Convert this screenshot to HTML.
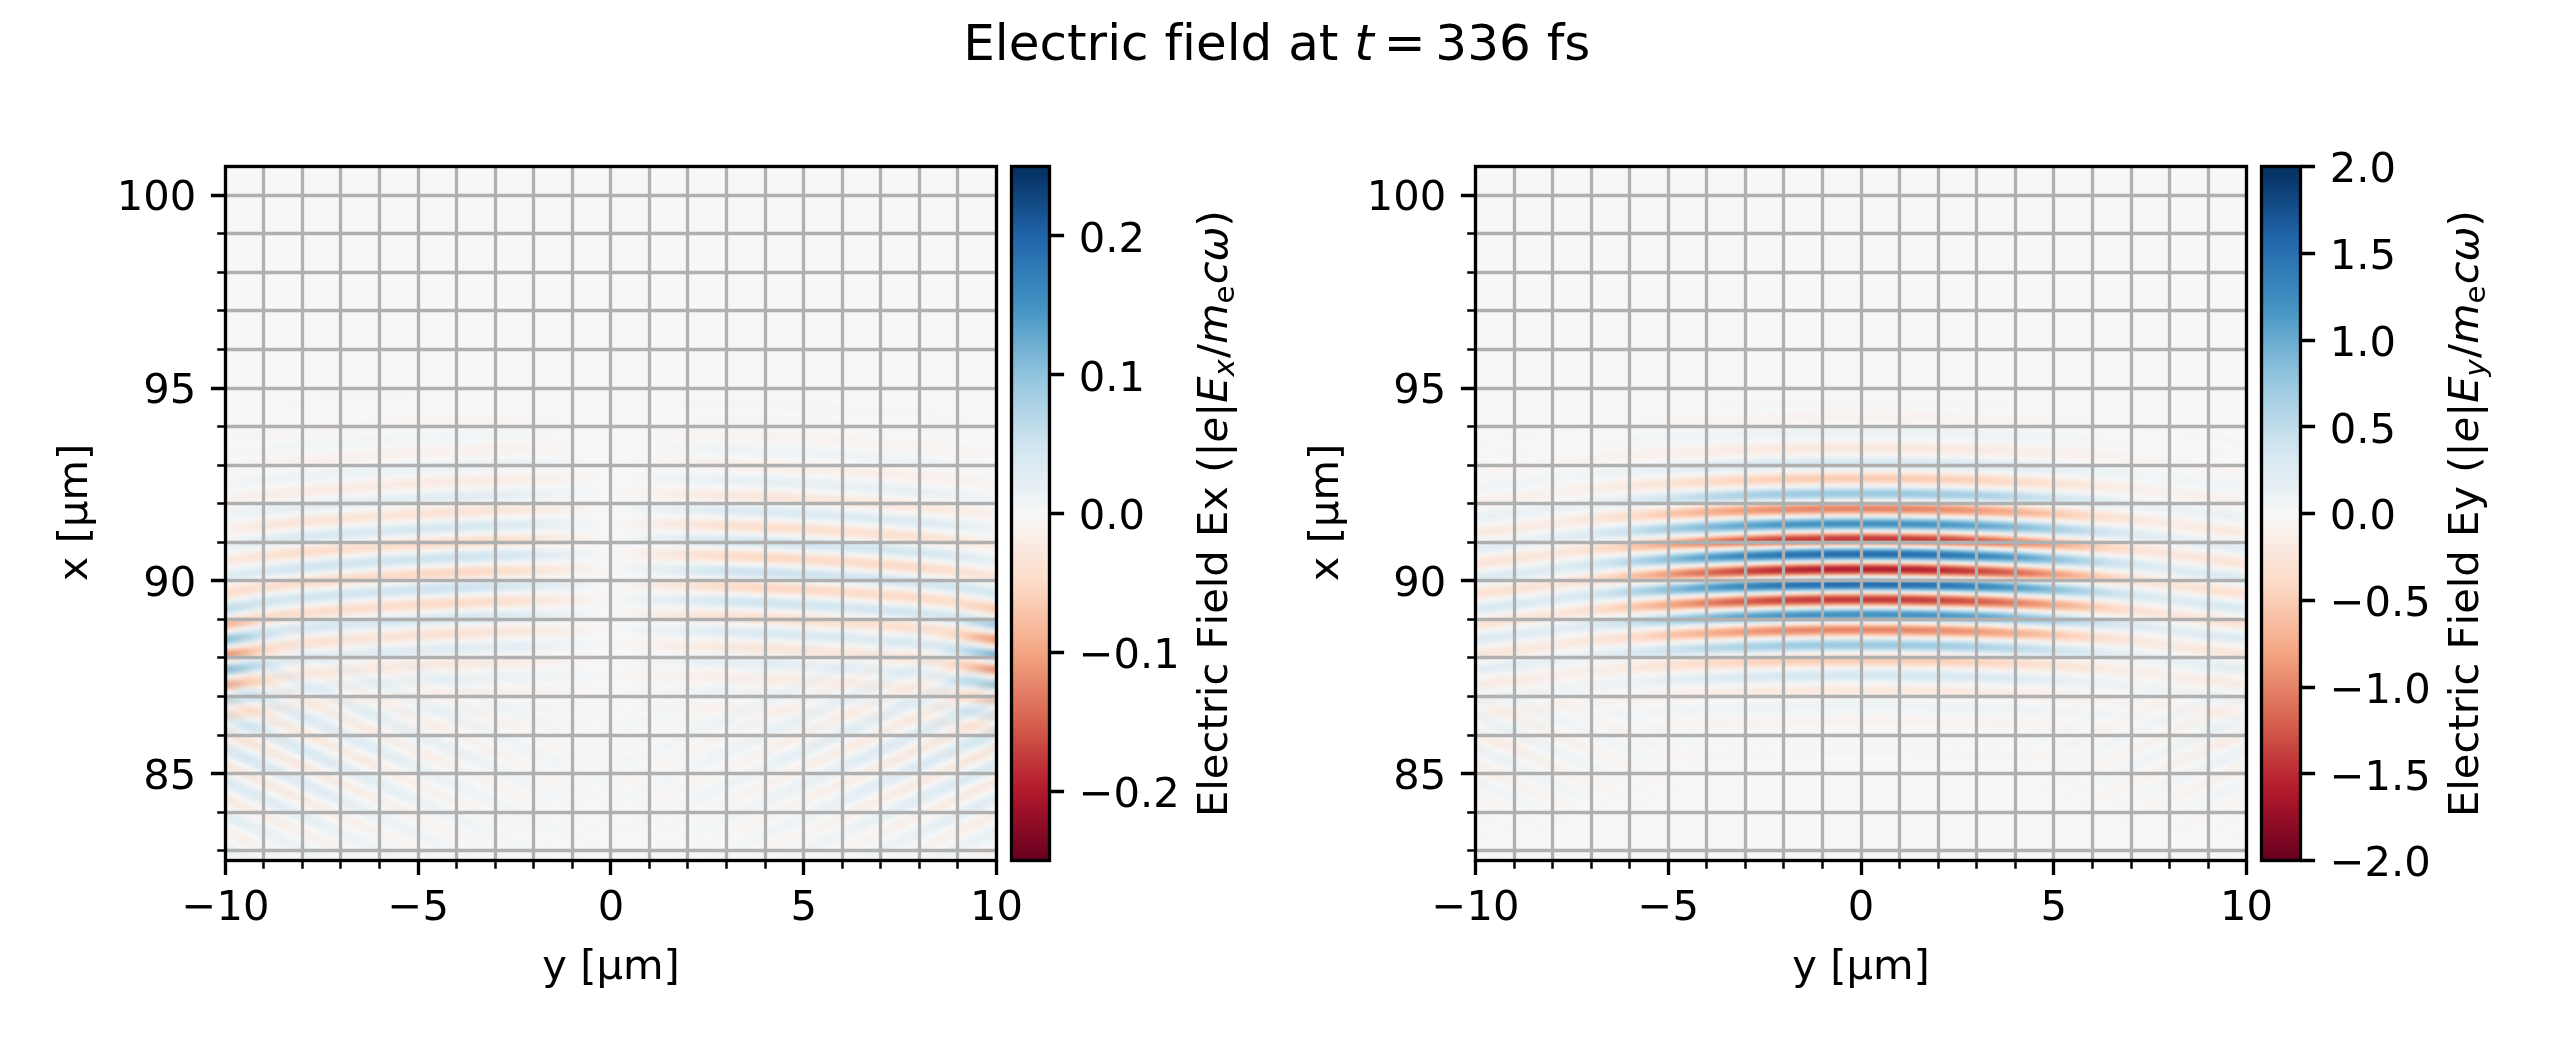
<!DOCTYPE html>
<html lang="en"><head><meta charset="utf-8"><title>Electric field at t = 336 fs</title>
<style>
html,body{margin:0;padding:0;background:#fff;width:2550px;height:1050px;overflow:hidden}
#fig{position:relative;width:2550px;height:1050px;overflow:hidden;background:#fff}
.fld{position:absolute;overflow:hidden;background:#f7f7f7}
.fld i{position:absolute;left:0;width:100%;height:2px;display:block}
.rw{position:absolute;left:0;top:0;width:100%;height:100%;filter:blur(.8px)}
.dg{position:absolute;left:0;top:0;width:100%;height:100%}
.fld>.dg{mix-blend-mode:multiply}
</style></head><body><div id="fig">
<div class="fld" style="left:225.2px;top:168px;width:771.2px;height:692px"><div class="rw">
<i style="top:204px;background:linear-gradient(90deg,#f7f7f7,#f7f7f7,#f7f7f7,#f7f7f7,#f7f7f7,#f7f7f7,#f7f7f7,#f7f7f7,#f7f7f7,#f7f7f7,#f7f7f7,#f7f7f7,#f6f7f7,#f6f7f7,#f6f7f7,#f7f7f7,#f7f7f7,#f7f7f7,#f7f7f7,#f7f7f7,#f7f7f7,#f7f7f7,#f7f7f7,#f7f7f7,#f7f7f7,#f7f7f7,#f7f6f6,#f7f6f6,#f7f6f6,#f7f7f7,#f7f7f7,#f7f7f7,#f7f7f7,#f7f7f7,#f7f7f7,#f7f7f7,#f7f7f7,#f7f7f7,#f7f7f7,#f7f7f7,#f7f7f7)"></i>
<i style="top:206px;background:linear-gradient(90deg,#f7f7f7,#f7f7f7,#f7f7f7,#f7f7f7,#f7f7f7,#f7f7f7,#f7f7f7,#f7f7f7,#f7f7f7,#f7f7f7,#f6f7f7,#f6f7f7,#f6f7f7,#f6f7f7,#f7f7f7,#f7f7f7,#f7f7f7,#f7f7f7,#f7f7f7,#f7f7f7,#f7f7f7,#f7f7f7,#f7f7f7,#f7f7f7,#f7f7f7,#f7f7f7,#f7f7f7,#f7f6f6,#f7f6f6,#f7f6f6,#f7f6f6,#f7f7f7,#f7f7f7,#f7f7f7,#f7f7f7,#f7f7f7,#f7f7f7,#f7f7f7,#f7f7f7,#f7f7f7,#f7f7f7)"></i>
<i style="top:208px;background:linear-gradient(90deg,#f7f7f7,#f7f7f7,#f7f7f7,#f7f7f7,#f7f7f7,#f7f7f7,#f7f7f7,#f7f7f7,#f7f7f7,#f6f7f7,#f6f7f7,#f6f7f7,#f6f7f7,#f7f7f7,#f7f7f7,#f7f7f7,#f7f7f7,#f7f7f7,#f7f7f7,#f7f7f7,#f7f7f7,#f7f7f7,#f7f7f7,#f7f7f7,#f7f7f7,#f7f7f7,#f7f7f7,#f7f7f7,#f7f6f6,#f7f6f6,#f7f6f6,#f7f6f6,#f7f7f7,#f7f7f7,#f7f7f7,#f7f7f7,#f7f7f7,#f7f7f7,#f7f7f7,#f7f7f7,#f7f7f7)"></i>
<i style="top:210px;background:linear-gradient(90deg,#f7f7f7,#f7f7f7,#f7f7f7,#f7f7f7,#f7f7f7,#f7f7f7,#f7f7f7,#f7f7f7,#f6f7f7,#f6f7f7,#f6f7f7,#f7f7f7,#f7f7f7,#f7f7f7,#f7f7f7,#f7f7f7,#f7f7f7,#f7f7f7,#f7f7f7,#f7f7f7,#f7f7f7,#f7f7f7,#f7f7f7,#f7f7f7,#f7f7f7,#f7f7f7,#f7f7f7,#f7f7f7,#f7f7f7,#f7f7f7,#f7f6f6,#f7f6f6,#f7f6f6,#f7f7f7,#f7f7f7,#f7f7f7,#f7f7f7,#f7f7f7,#f7f7f7,#f7f7f7,#f7f7f7)"></i>
<i style="top:212px;background:linear-gradient(90deg,#f7f7f7,#f7f7f7,#f7f7f7,#f7f7f7,#f7f7f7,#f7f7f7,#f6f7f7,#f6f7f7,#f7f7f7,#f7f7f7,#f7f7f7,#f7f7f7,#f7f7f7,#f7f7f7,#f7f7f7,#f7f7f7,#f7f7f7,#f7f7f7,#f7f7f7,#f7f7f7,#f7f7f7,#f7f7f7,#f7f7f7,#f7f7f7,#f7f7f7,#f7f7f7,#f7f7f7,#f7f7f7,#f7f7f7,#f7f7f7,#f7f7f7,#f7f7f7,#f7f7f7,#f7f6f6,#f7f6f6,#f7f7f7,#f7f7f7,#f7f7f7,#f7f7f7,#f7f7f7,#f7f7f7)"></i>
<i style="top:214px;background:linear-gradient(90deg,#f7f7f7,#f7f7f7,#f7f7f7,#f7f7f7,#f7f7f7,#f6f7f7,#f6f7f7,#f7f7f7,#f7f7f7,#f7f7f7,#f7f7f7,#f7f7f7,#f7f7f7,#f7f7f7,#f7f7f7,#f7f7f7,#f7f7f7,#f7f7f7,#f7f7f7,#f7f7f7,#f7f7f7,#f7f7f7,#f7f7f7,#f7f7f7,#f7f7f7,#f7f7f7,#f7f7f7,#f7f7f7,#f7f7f7,#f7f7f7,#f7f7f7,#f7f7f7,#f7f7f7,#f7f7f7,#f7f6f6,#f7f6f6,#f7f7f7,#f7f7f7,#f7f7f7,#f7f7f7,#f7f7f7)"></i>
<i style="top:216px;background:linear-gradient(90deg,#f7f7f7,#f7f7f7,#f7f7f7,#f7f7f7,#f6f7f7,#f6f7f7,#f7f7f7,#f7f7f7,#f7f7f7,#f7f7f7,#f7f7f7,#f7f7f7,#f7f7f7,#f7f7f7,#f7f6f6,#f7f6f6,#f7f7f7,#f7f7f7,#f7f7f7,#f7f7f7,#f7f7f7,#f7f7f7,#f7f7f7,#f7f7f7,#f7f7f7,#f6f7f7,#f6f7f7,#f7f7f7,#f7f7f7,#f7f7f7,#f7f7f7,#f7f7f7,#f7f7f7,#f7f7f7,#f7f7f7,#f7f6f6,#f7f6f6,#f7f7f7,#f7f7f7,#f7f7f7,#f7f7f7)"></i>
<i style="top:218px;background:linear-gradient(90deg,#f7f7f7,#f7f7f7,#f7f7f7,#f7f7f7,#f7f7f7,#f7f7f7,#f7f7f7,#f7f7f7,#f7f7f7,#f7f7f7,#f7f7f7,#f7f6f6,#f7f5f4,#f7f5f4,#f7f5f4,#f7f6f6,#f7f6f6,#f7f7f7,#f7f7f7,#f7f7f7,#f7f7f7,#f7f7f7,#f7f7f7,#f7f7f7,#f6f7f7,#f6f7f7,#f5f6f7,#f5f6f7,#f5f6f7,#f6f7f7,#f7f7f7,#f7f7f7,#f7f7f7,#f7f7f7,#f7f7f7,#f7f7f7,#f7f7f7,#f7f7f7,#f7f7f7,#f7f7f7,#f7f7f7)"></i>
<i style="top:220px;background:linear-gradient(90deg,#f7f7f7,#f7f7f7,#f7f7f7,#f7f7f7,#f7f7f7,#f7f7f7,#f7f7f7,#f7f7f7,#f7f7f7,#f7f6f6,#f7f6f6,#f7f5f4,#f7f5f4,#f7f5f4,#f7f5f4,#f7f5f4,#f7f6f6,#f7f7f7,#f7f7f7,#f7f7f7,#f7f7f7,#f7f7f7,#f7f7f7,#f7f7f7,#f6f7f7,#f5f6f7,#f5f6f7,#f5f6f7,#f5f6f7,#f5f6f7,#f6f7f7,#f6f7f7,#f7f7f7,#f7f7f7,#f7f7f7,#f7f7f7,#f7f7f7,#f7f7f7,#f7f7f7,#f7f7f7,#f7f7f7)"></i>
<i style="top:222px;background:linear-gradient(90deg,#f7f7f7,#f7f7f7,#f7f7f7,#f7f7f7,#f7f7f7,#f7f7f7,#f7f7f7,#f7f7f7,#f7f6f6,#f7f5f4,#f7f5f4,#f7f5f4,#f7f5f4,#f7f5f4,#f7f5f4,#f7f6f6,#f7f7f7,#f7f7f7,#f7f7f7,#f7f7f7,#f7f7f7,#f7f7f7,#f7f7f7,#f7f7f7,#f7f7f7,#f6f7f7,#f5f6f7,#f5f6f7,#f5f6f7,#f5f6f7,#f5f6f7,#f5f6f7,#f6f7f7,#f7f7f7,#f7f7f7,#f7f7f7,#f7f7f7,#f7f7f7,#f7f7f7,#f7f7f7,#f7f7f7)"></i>
<i style="top:224px;background:linear-gradient(90deg,#f7f7f7,#f7f7f7,#f7f7f7,#f7f7f7,#f7f7f7,#f7f7f7,#f7f6f6,#f7f6f6,#f7f5f4,#f7f5f4,#f7f5f4,#f7f5f4,#f7f5f4,#f7f6f6,#f7f7f7,#f7f7f7,#f7f7f7,#f7f7f7,#f7f7f7,#f7f7f7,#f7f7f7,#f7f7f7,#f7f7f7,#f7f7f7,#f7f7f7,#f7f7f7,#f7f7f7,#f6f7f7,#f5f6f7,#f5f6f7,#f5f6f7,#f5f6f7,#f5f6f7,#f6f7f7,#f6f7f7,#f7f7f7,#f7f7f7,#f7f7f7,#f7f7f7,#f7f7f7,#f7f7f7)"></i>
<i style="top:226px;background:linear-gradient(90deg,#f7f7f7,#f7f7f7,#f7f7f7,#f7f7f7,#f7f7f7,#f7f6f6,#f7f5f4,#f7f5f4,#f7f5f4,#f7f5f4,#f7f5f4,#f7f6f6,#f7f7f7,#f7f7f7,#f7f7f7,#f7f7f7,#f7f7f7,#f7f7f7,#f7f7f7,#f7f7f7,#f7f7f7,#f7f7f7,#f7f7f7,#f7f7f7,#f7f7f7,#f7f7f7,#f7f7f7,#f7f7f7,#f7f7f7,#f6f7f7,#f5f6f7,#f5f6f7,#f5f6f7,#f5f6f7,#f5f6f7,#f6f7f7,#f7f7f7,#f7f7f7,#f7f7f7,#f7f7f7,#f7f7f7)"></i>
<i style="top:228px;background:linear-gradient(90deg,#f7f7f7,#f7f7f7,#f7f7f7,#f7f7f7,#f7f6f6,#f7f5f4,#f7f5f4,#f7f5f4,#f7f5f4,#f7f6f6,#f7f7f7,#f7f7f7,#f7f7f7,#f7f7f7,#f7f7f7,#f7f7f7,#f7f7f7,#f7f7f7,#f7f7f7,#f7f7f7,#f7f7f7,#f7f7f7,#f7f7f7,#f7f7f7,#f7f7f7,#f7f7f7,#f7f7f7,#f7f7f7,#f7f7f7,#f7f7f7,#f7f7f7,#f6f7f7,#f5f6f7,#f5f6f7,#f5f6f7,#f5f6f7,#f6f7f7,#f7f7f7,#f7f7f7,#f7f7f7,#f7f7f7)"></i>
<i style="top:230px;background:linear-gradient(90deg,#f7f7f7,#f7f7f7,#f7f7f7,#f7f6f6,#f7f5f4,#f7f5f4,#f7f5f4,#f7f6f6,#f7f7f7,#f7f7f7,#f7f7f7,#f7f7f7,#f7f7f7,#f7f7f7,#f6f7f7,#f6f7f7,#f6f7f7,#f7f7f7,#f7f7f7,#f7f7f7,#f7f7f7,#f7f7f7,#f7f7f7,#f7f7f7,#f7f6f6,#f7f6f6,#f7f6f6,#f7f7f7,#f7f7f7,#f7f7f7,#f7f7f7,#f7f7f7,#f7f7f7,#f6f7f7,#f5f6f7,#f5f6f7,#f5f6f7,#f6f7f7,#f7f7f7,#f7f7f7,#f7f7f7)"></i>
<i style="top:232px;background:linear-gradient(90deg,#f7f7f7,#f7f7f7,#f7f7f7,#f7f5f4,#f7f5f4,#f7f5f4,#f7f6f6,#f7f7f7,#f7f7f7,#f7f7f7,#f7f7f7,#f6f7f7,#f5f6f7,#f5f6f7,#f5f6f7,#f5f6f7,#f5f6f7,#f6f7f7,#f7f7f7,#f7f7f7,#f7f7f7,#f7f7f7,#f7f7f7,#f7f6f6,#f7f5f4,#f7f5f4,#f7f5f4,#f7f5f4,#f7f5f4,#f7f6f6,#f7f7f7,#f7f7f7,#f7f7f7,#f7f7f7,#f6f7f7,#f5f6f7,#f5f6f7,#f5f6f7,#f7f7f7,#f7f7f7,#f7f7f7)"></i>
<i style="top:234px;background:linear-gradient(90deg,#f7f7f7,#f7f7f7,#f7f6f6,#f7f5f4,#f7f5f4,#f7f7f7,#f7f7f7,#f7f7f7,#f7f7f7,#f6f7f7,#f5f6f7,#f5f6f7,#f5f6f7,#f5f6f7,#f5f6f7,#f5f6f7,#f5f6f7,#f6f7f7,#f7f7f7,#f7f7f7,#f7f7f7,#f7f7f7,#f7f7f7,#f7f6f6,#f7f5f4,#f7f5f4,#f7f5f4,#f7f5f4,#f7f5f4,#f7f5f4,#f7f5f4,#f7f6f6,#f7f7f7,#f7f7f7,#f7f7f7,#f7f7f7,#f5f6f7,#f5f6f7,#f6f7f7,#f7f7f7,#f7f7f7)"></i>
<i style="top:236px;background:linear-gradient(90deg,#f7f7f7,#f7f7f7,#f7f6f6,#f7f6f6,#f7f7f7,#f7f7f7,#f7f7f7,#f7f7f7,#f5f6f7,#f5f6f7,#f5f6f7,#f5f6f7,#f5f6f7,#f5f6f7,#f5f6f7,#f5f6f7,#f5f6f7,#f6f7f7,#f7f7f7,#f7f7f7,#f7f7f7,#f7f7f7,#f7f7f7,#f7f6f6,#f7f5f4,#f7f5f4,#f7f5f4,#f7f5f4,#f7f5f4,#f7f5f4,#f7f5f4,#f7f5f4,#f7f5f4,#f7f7f7,#f7f7f7,#f7f7f7,#f7f7f7,#f6f7f7,#f6f7f7,#f7f7f7,#f7f7f7)"></i>
<i style="top:238px;background:linear-gradient(90deg,#f7f7f7,#f7f7f7,#f7f7f7,#f7f7f7,#f7f7f7,#f7f7f7,#f6f7f7,#f5f6f7,#f5f6f7,#f5f6f7,#f5f6f7,#f5f6f7,#f5f6f7,#f5f6f7,#f5f6f7,#f5f6f7,#f6f7f7,#f7f7f7,#f7f7f7,#f7f7f7,#f7f7f7,#f7f7f7,#f7f7f7,#f7f7f7,#f7f6f6,#f7f5f4,#f7f5f4,#f7f5f4,#f7f5f4,#f7f5f4,#f7f5f4,#f7f5f4,#f7f5f4,#f7f5f4,#f7f6f6,#f7f7f7,#f7f7f7,#f7f7f7,#f7f7f7,#f7f7f7,#f7f7f7)"></i>
<i style="top:240px;background:linear-gradient(90deg,#f7f7f7,#f7f7f7,#f7f7f7,#f7f7f7,#f7f7f7,#f6f7f7,#f5f6f7,#f5f6f7,#f5f6f7,#f5f6f7,#f5f6f7,#f5f6f7,#f5f6f7,#f5f6f7,#f6f7f7,#f7f7f7,#f7f7f7,#f7f7f7,#f7f7f7,#f7f7f7,#f7f7f7,#f7f7f7,#f7f7f7,#f7f7f7,#f7f7f7,#f7f7f7,#f7f6f6,#f7f5f4,#f7f5f4,#f7f5f4,#f7f5f4,#f7f5f4,#f7f5f4,#f7f5f4,#f7f5f4,#f7f6f6,#f7f7f7,#f7f7f7,#f7f7f7,#f7f7f7,#f7f7f7)"></i>
<i style="top:242px;background:linear-gradient(90deg,#f7f7f7,#f7f7f7,#f7f7f7,#f7f7f7,#f5f6f7,#f5f6f7,#f5f6f7,#f5f6f7,#f5f6f7,#f5f6f7,#f5f6f7,#f5f6f7,#f7f7f7,#f7f7f7,#f7f7f7,#f7f7f7,#f7f7f7,#f7f7f7,#f7f7f7,#f7f7f7,#f7f7f7,#f7f7f7,#f7f7f7,#f7f7f7,#f7f7f7,#f7f7f7,#f7f7f7,#f7f7f7,#f7f7f7,#f7f5f4,#f7f5f4,#f7f5f4,#f7f5f4,#f7f5f4,#f7f5f4,#f7f5f4,#f7f5f4,#f7f7f7,#f7f7f7,#f7f7f7,#f7f7f7)"></i>
<i style="top:244px;background:linear-gradient(90deg,#f7f7f7,#f7f7f7,#f7f7f7,#f5f6f7,#f5f6f7,#f5f6f7,#f5f6f7,#f5f6f7,#f5f6f7,#f5f6f7,#f7f7f7,#f7f7f7,#f7f7f7,#f7f7f7,#f7f6f6,#f7f6f6,#f7f6f6,#f7f6f6,#f7f7f7,#f7f7f7,#f7f7f7,#f7f7f7,#f7f7f7,#f6f7f7,#f6f7f7,#f6f7f7,#f6f7f7,#f7f7f7,#f7f7f7,#f7f7f7,#f7f7f7,#f7f5f4,#f7f5f4,#f7f5f4,#f7f5f4,#f7f5f4,#f7f5f4,#f7f5f4,#f7f7f7,#f7f7f7,#f7f7f7)"></i>
<i style="top:246px;background:linear-gradient(90deg,#f7f7f7,#f7f7f7,#f6f7f7,#f5f6f7,#f5f6f7,#f5f6f7,#f5f6f7,#f5f6f7,#f7f7f7,#f7f7f7,#f7f7f7,#f7f7f7,#f7f5f4,#f7f5f4,#f7f5f4,#f7f5f4,#f7f5f4,#f7f5f4,#f7f6f6,#f7f7f7,#f7f7f7,#f7f7f7,#f6f7f7,#f5f6f7,#f5f6f7,#f5f6f7,#f5f6f7,#f5f6f7,#f5f6f7,#f7f7f7,#f7f7f7,#f7f7f7,#f7f7f7,#f7f5f4,#f7f5f4,#f7f5f4,#f7f5f4,#f7f5f4,#f7f6f6,#f7f7f7,#f7f7f7)"></i>
<i style="top:248px;background:linear-gradient(90deg,#f7f7f7,#f7f7f7,#f5f6f7,#f5f6f7,#f5f6f7,#f5f6f7,#f5f6f7,#f7f7f7,#f7f7f7,#f7f7f7,#f7f5f4,#f7f5f4,#f8f4f2,#f8f4f2,#f8f4f2,#f8f4f2,#f7f5f4,#f7f5f4,#f7f6f6,#f7f7f7,#f7f7f7,#f7f7f7,#f6f7f7,#f5f6f7,#f5f6f7,#f3f5f6,#f3f5f6,#f3f5f6,#f3f5f6,#f5f6f7,#f5f6f7,#f7f7f7,#f7f7f7,#f7f7f7,#f7f5f4,#f7f5f4,#f7f5f4,#f7f5f4,#f7f5f4,#f7f7f7,#f7f7f7)"></i>
<i style="top:250px;background:linear-gradient(90deg,#f7f7f7,#f6f7f7,#f5f6f7,#f5f6f7,#f5f6f7,#f6f7f7,#f7f7f7,#f7f7f7,#f7f6f6,#f7f5f4,#f8f4f2,#f8f4f2,#f8f4f2,#f8f4f2,#f8f4f2,#f8f4f2,#f7f5f4,#f7f5f4,#f7f6f6,#f7f7f7,#f7f7f7,#f7f7f7,#f6f7f7,#f5f6f7,#f5f6f7,#f3f5f6,#f3f5f6,#f3f5f6,#f3f5f6,#f3f5f6,#f3f5f6,#f5f6f7,#f6f7f7,#f7f7f7,#f7f7f7,#f7f6f6,#f7f5f4,#f7f5f4,#f7f5f4,#f7f6f6,#f7f7f7)"></i>
<i style="top:252px;background:linear-gradient(90deg,#f7f7f7,#f5f6f7,#f5f6f7,#f5f6f7,#f7f7f7,#f7f7f7,#f7f7f7,#f7f5f4,#f7f5f4,#f8f4f2,#f8f4f2,#f8f4f2,#f8f4f2,#f8f4f2,#f8f4f2,#f7f5f4,#f7f5f4,#f7f5f4,#f7f7f7,#f7f7f7,#f7f7f7,#f7f7f7,#f7f7f7,#f5f6f7,#f5f6f7,#f5f6f7,#f3f5f6,#f3f5f6,#f3f5f6,#f3f5f6,#f3f5f6,#f3f5f6,#f5f6f7,#f5f6f7,#f7f7f7,#f7f7f7,#f7f7f7,#f7f5f4,#f7f5f4,#f7f5f4,#f7f7f7)"></i>
<i style="top:254px;background:linear-gradient(90deg,#f7f7f7,#f6f7f7,#f6f7f7,#f7f7f7,#f7f7f7,#f7f6f6,#f7f5f4,#f8f4f2,#f8f4f2,#f8f4f2,#f8f4f2,#f8f4f2,#f8f4f2,#f8f4f2,#f7f5f4,#f7f5f4,#f7f6f6,#f7f7f7,#f7f7f7,#f7f7f7,#f7f7f7,#f7f7f7,#f7f7f7,#f7f7f7,#f6f7f7,#f5f6f7,#f5f6f7,#f3f5f6,#f3f5f6,#f3f5f6,#f3f5f6,#f3f5f6,#f3f5f6,#f3f5f6,#f5f6f7,#f6f7f7,#f7f7f7,#f7f7f7,#f7f6f6,#f7f6f6,#f7f7f7)"></i>
<i style="top:256px;background:linear-gradient(90deg,#f7f7f7,#f7f7f7,#f7f7f7,#f7f7f7,#f7f5f4,#f7f5f4,#f8f4f2,#f8f4f2,#f8f4f2,#f8f4f2,#f8f4f2,#f8f4f2,#f7f5f4,#f7f5f4,#f7f6f6,#f7f7f7,#f7f7f7,#f7f7f7,#f7f7f7,#f7f7f7,#f7f7f7,#f7f7f7,#f7f7f7,#f7f7f7,#f7f7f7,#f7f7f7,#f6f7f7,#f5f6f7,#f5f6f7,#f3f5f6,#f3f5f6,#f3f5f6,#f3f5f6,#f3f5f6,#f3f5f6,#f5f6f7,#f5f6f7,#f7f7f7,#f7f7f7,#f7f7f7,#f7f7f7)"></i>
<i style="top:258px;background:linear-gradient(90deg,#f7f7f7,#f7f7f7,#f7f7f7,#f7f5f4,#f7f5f4,#f8f4f2,#f8f4f2,#f8f4f2,#f8f4f2,#f8f4f2,#f7f5f4,#f7f5f4,#f7f7f7,#f7f7f7,#f7f7f7,#f7f7f7,#f7f7f7,#f7f7f7,#f7f7f7,#f7f7f7,#f7f7f7,#f7f7f7,#f7f7f7,#f7f7f7,#f7f7f7,#f7f7f7,#f7f7f7,#f7f7f7,#f7f7f7,#f5f6f7,#f5f6f7,#f3f5f6,#f3f5f6,#f3f5f6,#f3f5f6,#f3f5f6,#f5f6f7,#f5f6f7,#f7f7f7,#f7f7f7,#f7f7f7)"></i>
<i style="top:260px;background:linear-gradient(90deg,#f7f7f7,#f7f7f7,#f7f6f6,#f7f5f4,#f8f4f2,#f8f4f2,#f8f4f2,#f8f4f2,#f7f5f4,#f7f5f4,#f7f7f7,#f7f7f7,#f6f7f7,#f5f6f7,#f5f6f7,#f5f6f7,#f5f6f7,#f5f6f7,#f6f7f7,#f7f7f7,#f7f7f7,#f7f7f7,#f7f6f6,#f7f5f4,#f7f5f4,#f7f5f4,#f7f5f4,#f7f5f4,#f7f6f6,#f7f7f7,#f7f7f7,#f5f6f7,#f5f6f7,#f3f5f6,#f3f5f6,#f3f5f6,#f3f5f6,#f5f6f7,#f6f7f7,#f7f7f7,#f7f7f7)"></i>
<i style="top:262px;background:linear-gradient(90deg,#f7f7f7,#f7f7f7,#f7f5f4,#f8f4f2,#f8f4f2,#f8f4f2,#f8f4f2,#f7f5f4,#f7f7f7,#f7f7f7,#f6f7f7,#f5f6f7,#f3f5f6,#f3f5f6,#f3f5f6,#f3f5f6,#f3f5f6,#f5f6f7,#f5f6f7,#f7f7f7,#f7f7f7,#f7f7f7,#f7f5f4,#f7f5f4,#f8f4f2,#f8f4f2,#f8f4f2,#f8f4f2,#f8f4f2,#f7f5f4,#f7f6f6,#f7f7f7,#f7f7f7,#f5f6f7,#f3f5f6,#f3f5f6,#f3f5f6,#f3f5f6,#f5f6f7,#f7f7f7,#f7f7f7)"></i>
<i style="top:264px;background:linear-gradient(90deg,#f7f7f7,#f7f5f4,#f7f5f4,#f8f4f2,#f8f4f2,#f7f5f4,#f7f5f4,#f7f7f7,#f7f7f7,#f5f6f7,#f3f5f6,#f3f5f6,#f2f5f6,#f2f5f6,#f2f5f6,#f2f5f6,#f3f5f6,#f3f5f6,#f5f6f7,#f7f7f7,#f7f7f7,#f7f7f7,#f7f5f4,#f8f4f2,#f8f4f2,#f8f3f0,#f8f3f0,#f8f3f0,#f8f3f0,#f8f4f2,#f8f4f2,#f7f5f4,#f7f7f7,#f7f7f7,#f5f6f7,#f5f6f7,#f3f5f6,#f3f5f6,#f5f6f7,#f5f6f7,#f7f7f7)"></i>
<i style="top:266px;background:linear-gradient(90deg,#f7f6f6,#f7f5f4,#f7f5f4,#f8f4f2,#f7f5f4,#f7f6f6,#f7f7f7,#f5f6f7,#f5f6f7,#f3f5f6,#f2f5f6,#f2f5f6,#f0f4f6,#f2f5f6,#f2f5f6,#f2f5f6,#f3f5f6,#f5f6f7,#f5f6f7,#f7f7f7,#f7f7f7,#f7f7f7,#f7f5f4,#f7f5f4,#f8f4f2,#f8f3f0,#f8f3f0,#f8f3f0,#f8f2ef,#f8f3f0,#f8f3f0,#f8f4f2,#f7f5f4,#f7f5f4,#f7f7f7,#f6f7f7,#f5f6f7,#f3f5f6,#f5f6f7,#f5f6f7,#f6f7f7)"></i>
<i style="top:268px;background:linear-gradient(90deg,#f7f6f6,#f7f5f4,#f7f5f4,#f7f5f4,#f7f7f7,#f7f7f7,#f5f6f7,#f3f5f6,#f2f5f6,#f2f5f6,#f2f5f6,#f0f4f6,#f0f4f6,#f2f5f6,#f2f5f6,#f3f5f6,#f5f6f7,#f5f6f7,#f6f7f7,#f7f7f7,#f7f7f7,#f7f7f7,#f7f6f6,#f7f5f4,#f7f5f4,#f8f4f2,#f8f3f0,#f8f3f0,#f8f2ef,#f8f2ef,#f8f3f0,#f8f3f0,#f8f3f0,#f8f4f2,#f7f5f4,#f7f7f7,#f7f7f7,#f5f6f7,#f5f6f7,#f5f6f7,#f6f7f7)"></i>
<i style="top:270px;background:linear-gradient(90deg,#f7f5f4,#f7f5f4,#f7f5f4,#f7f7f7,#f7f7f7,#f5f6f7,#f3f5f6,#f2f5f6,#f2f5f6,#f2f5f6,#f2f5f6,#f2f5f6,#f2f5f6,#f3f5f6,#f3f5f6,#f5f6f7,#f5f6f7,#f7f7f7,#f7f7f7,#f7f7f7,#f7f7f7,#f7f7f7,#f7f7f7,#f7f7f7,#f7f5f4,#f7f5f4,#f8f4f2,#f8f4f2,#f8f3f0,#f8f3f0,#f8f3f0,#f8f3f0,#f8f3f0,#f8f3f0,#f8f4f2,#f7f5f4,#f7f7f7,#f7f7f7,#f5f6f7,#f5f6f7,#f5f6f7)"></i>
<i style="top:272px;background:linear-gradient(90deg,#f7f6f6,#f7f6f6,#f7f7f7,#f6f7f7,#f5f6f7,#f3f5f6,#f2f5f6,#f2f5f6,#f2f5f6,#f2f5f6,#f2f5f6,#f3f5f6,#f5f6f7,#f5f6f7,#f7f7f7,#f7f7f7,#f7f7f7,#f7f7f7,#f7f7f7,#f7f7f7,#f7f7f7,#f7f7f7,#f7f7f7,#f7f7f7,#f7f7f7,#f7f7f7,#f7f7f7,#f7f5f4,#f7f5f4,#f8f4f2,#f8f3f0,#f8f3f0,#f8f3f0,#f8f3f0,#f8f3f0,#f8f4f2,#f7f5f4,#f7f6f6,#f7f7f7,#f6f7f7,#f6f7f7)"></i>
<i style="top:274px;background:linear-gradient(90deg,#f7f7f7,#f7f7f7,#f7f7f7,#f5f6f7,#f2f5f6,#f2f5f6,#f2f5f6,#f2f5f6,#f2f5f6,#f3f5f6,#f5f6f7,#f6f7f7,#f7f7f7,#f7f7f7,#f7f5f4,#f7f5f4,#f7f5f4,#f7f5f4,#f7f5f4,#f7f7f7,#f7f7f7,#f7f7f7,#f5f6f7,#f5f6f7,#f5f6f7,#f5f6f7,#f5f6f7,#f7f7f7,#f7f7f7,#f7f6f6,#f7f5f4,#f8f4f2,#f8f3f0,#f8f3f0,#f8f3f0,#f8f3f0,#f8f3f0,#f7f5f4,#f7f7f7,#f7f7f7,#f7f7f7)"></i>
<i style="top:276px;background:linear-gradient(90deg,#f7f7f7,#f7f7f7,#f5f6f7,#f3f5f6,#f2f5f6,#f2f5f6,#f2f5f6,#f3f5f6,#f5f6f7,#f5f6f7,#f7f7f7,#f7f5f4,#f7f5f4,#f8f4f2,#f8f3f0,#f8f3f0,#f8f4f2,#f8f4f2,#f7f5f4,#f7f6f6,#f7f7f7,#f6f7f7,#f5f6f7,#f3f5f6,#f3f5f6,#f2f5f6,#f2f5f6,#f3f5f6,#f5f6f7,#f5f6f7,#f7f7f7,#f7f5f4,#f7f5f4,#f8f4f2,#f8f3f0,#f8f3f0,#f8f3f0,#f8f4f2,#f7f5f4,#f7f7f7,#f7f7f7)"></i>
<i style="top:278px;background:linear-gradient(90deg,#f7f7f7,#f5f6f7,#f3f5f6,#f2f5f6,#f2f5f6,#f2f5f6,#f3f5f6,#f5f6f7,#f7f7f7,#f7f6f6,#f8f4f2,#f8f3f0,#f8f3f0,#f8f2ef,#f8f2ef,#f8f2ef,#f8f3f0,#f8f4f2,#f7f5f4,#f7f6f6,#f7f7f7,#f6f7f7,#f5f6f7,#f3f5f6,#f2f5f6,#f0f4f6,#f0f4f6,#f0f4f6,#f2f5f6,#f2f5f6,#f3f5f6,#f6f7f7,#f7f7f7,#f7f5f4,#f8f4f2,#f8f3f0,#f8f3f0,#f8f3f0,#f8f4f2,#f7f5f4,#f7f7f7)"></i>
<i style="top:280px;background:linear-gradient(90deg,#f6f7f7,#f5f6f7,#f3f5f6,#f2f5f6,#f2f5f6,#f3f5f6,#f6f7f7,#f7f7f7,#f7f5f4,#f8f4f2,#f8f3f0,#f8f2ef,#f8f1ed,#f8f1ed,#f8f1ed,#f8f2ef,#f8f3f0,#f8f4f2,#f7f5f4,#f7f6f6,#f7f7f7,#f6f7f7,#f5f6f7,#f3f5f6,#f2f5f6,#f0f4f6,#eff3f5,#eff3f5,#eff3f5,#f0f4f6,#f2f5f6,#f3f5f6,#f5f6f7,#f7f7f7,#f7f6f6,#f8f4f2,#f8f3f0,#f8f3f0,#f8f4f2,#f7f5f4,#f7f6f6)"></i>
<i style="top:282px;background:linear-gradient(90deg,#f5f6f7,#f3f5f6,#f3f5f6,#f3f5f6,#f5f6f7,#f7f7f7,#f7f6f6,#f8f4f2,#f8f3f0,#f8f2ef,#f8f1ed,#f8f1ed,#f8f1ed,#f8f1ed,#f8f1ed,#f8f2ef,#f8f3f0,#f8f4f2,#f7f5f4,#f7f6f6,#f7f7f7,#f6f7f7,#f5f6f7,#f3f5f6,#f2f5f6,#f0f4f6,#eff3f5,#eff3f5,#eff3f5,#eff3f5,#eff3f5,#f0f4f6,#f2f5f6,#f3f5f6,#f6f7f7,#f7f7f7,#f7f5f4,#f8f4f2,#f8f4f2,#f8f4f2,#f7f5f4)"></i>
<i style="top:284px;background:linear-gradient(90deg,#f5f6f7,#f3f5f6,#f3f5f6,#f5f6f7,#f7f7f7,#f7f5f4,#f8f4f2,#f8f3f0,#f8f2ef,#f8f1ed,#f8f1ed,#f8f1ed,#f8f1ed,#f8f2ef,#f8f2ef,#f8f3f0,#f8f4f2,#f7f5f4,#f7f6f6,#f7f7f7,#f7f7f7,#f7f7f7,#f6f7f7,#f5f6f7,#f3f5f6,#f2f5f6,#f0f4f6,#f0f4f6,#eff3f5,#eff3f5,#eff3f5,#eff3f5,#f0f4f6,#f2f5f6,#f3f5f6,#f5f6f7,#f7f7f7,#f7f5f4,#f8f4f2,#f8f4f2,#f7f5f4)"></i>
<i style="top:286px;background:linear-gradient(90deg,#f5f6f7,#f5f6f7,#f5f6f7,#f7f7f7,#f7f5f4,#f8f3f0,#f8f2ef,#f8f1ed,#f8f1ed,#f8f1ed,#f8f1ed,#f8f2ef,#f8f2ef,#f8f3f0,#f8f4f2,#f7f5f4,#f7f6f6,#f7f7f7,#f7f7f7,#f7f7f7,#f7f7f7,#f7f7f7,#f7f7f7,#f7f7f7,#f6f7f7,#f5f6f7,#f3f5f6,#f2f5f6,#f0f4f6,#f0f4f6,#eff3f5,#eff3f5,#eff3f5,#eff3f5,#f0f4f6,#f2f5f6,#f5f6f7,#f7f7f7,#f7f5f4,#f7f5f4,#f7f5f4)"></i>
<i style="top:288px;background:linear-gradient(90deg,#f5f6f7,#f6f7f7,#f7f7f7,#f7f5f4,#f8f3f0,#f8f2ef,#f8f1ed,#f8f1ed,#f8f1ed,#f8f2ef,#f8f3f0,#f8f4f2,#f7f5f4,#f7f6f6,#f7f7f7,#f6f7f7,#f5f6f7,#f5f6f7,#f6f7f7,#f7f7f7,#f7f7f7,#f7f7f7,#f7f6f6,#f7f5f4,#f7f5f4,#f7f6f6,#f7f7f7,#f6f7f7,#f5f6f7,#f3f5f6,#f2f5f6,#f0f4f6,#eff3f5,#eff3f5,#eff3f5,#f0f4f6,#f2f5f6,#f5f6f7,#f7f7f7,#f7f6f6,#f7f5f4)"></i>
<i style="top:290px;background:linear-gradient(90deg,#f7f7f7,#f7f7f7,#f7f5f4,#f8f3f0,#f8f2ef,#f8f1ed,#f8f1ed,#f8f2ef,#f8f3f0,#f8f4f2,#f7f5f4,#f7f7f7,#f6f7f7,#f3f5f6,#f3f5f6,#f2f5f6,#f3f5f6,#f3f5f6,#f5f6f7,#f6f7f7,#f7f7f7,#f7f6f6,#f7f5f4,#f8f4f2,#f8f4f2,#f8f3f0,#f8f4f2,#f8f4f2,#f7f6f6,#f7f7f7,#f5f6f7,#f3f5f6,#f2f5f6,#f0f4f6,#eff3f5,#eff3f5,#f0f4f6,#f2f5f6,#f5f6f7,#f7f7f7,#f7f7f7)"></i>
<i style="top:292px;background:linear-gradient(90deg,#f7f7f7,#f7f5f4,#f8f4f2,#f8f2ef,#f8f1ed,#f8f1ed,#f8f2ef,#f8f3f0,#f7f5f4,#f7f7f7,#f5f6f7,#f3f5f6,#f2f5f6,#f0f4f6,#eff3f5,#eff3f5,#f0f4f6,#f2f5f6,#f3f5f6,#f5f6f7,#f7f7f7,#f7f5f4,#f8f4f2,#f8f3f0,#f8f2ef,#f8f1ed,#f8f1ed,#f8f2ef,#f8f3f0,#f8f4f2,#f7f5f4,#f7f7f7,#f5f6f7,#f2f5f6,#f0f4f6,#eff3f5,#eff3f5,#f0f4f6,#f3f5f6,#f5f6f7,#f7f7f7)"></i>
<i style="top:294px;background:linear-gradient(90deg,#f7f6f6,#f8f4f2,#f8f3f0,#f8f2ef,#f8f1ed,#f8f2ef,#f8f4f2,#f7f5f4,#f7f7f7,#f3f5f6,#f2f5f6,#eff3f5,#edf2f5,#edf2f5,#edf2f5,#edf2f5,#eff3f5,#f0f4f6,#f3f5f6,#f5f6f7,#f7f7f7,#f7f5f4,#f8f4f2,#f8f2ef,#f8f1ed,#f9f0eb,#f9f0eb,#f9f0eb,#f9f0eb,#f8f1ed,#f8f3f0,#f8f4f2,#f7f7f7,#f5f6f7,#f3f5f6,#f0f4f6,#eff3f5,#f0f4f6,#f2f5f6,#f3f5f6,#f6f7f7)"></i>
<i style="top:296px;background:linear-gradient(90deg,#f7f5f4,#f8f4f2,#f8f2ef,#f8f2ef,#f8f3f0,#f8f4f2,#f7f7f7,#f5f6f7,#f2f5f6,#f0f4f6,#edf2f5,#ecf2f5,#ecf2f5,#ecf2f5,#ecf2f5,#edf2f5,#eff3f5,#f2f5f6,#f3f5f6,#f5f6f7,#f7f7f7,#f7f5f4,#f8f4f2,#f8f3f0,#f8f1ed,#f9f0eb,#f9efe9,#f9efe9,#f9efe9,#f9efe9,#f9f0eb,#f8f2ef,#f8f3f0,#f7f5f4,#f7f7f7,#f3f5f6,#f2f5f6,#f0f4f6,#f0f4f6,#f3f5f6,#f5f6f7)"></i>
<i style="top:298px;background:linear-gradient(90deg,#f7f5f4,#f8f3f0,#f8f3f0,#f8f3f0,#f7f5f4,#f7f7f7,#f3f5f6,#f0f4f6,#eff3f5,#edf2f5,#ecf2f5,#eaf1f5,#eaf1f5,#ecf2f5,#edf2f5,#eff3f5,#f0f4f6,#f2f5f6,#f5f6f7,#f6f7f7,#f7f7f7,#f7f6f6,#f7f5f4,#f8f3f0,#f8f2ef,#f8f1ed,#f9f0eb,#f9efe9,#f9eee7,#f9eee7,#f9efe9,#f9f0eb,#f8f1ed,#f8f2ef,#f8f4f2,#f7f7f7,#f5f6f7,#f2f5f6,#f2f5f6,#f2f5f6,#f5f6f7)"></i>
<i style="top:300px;background:linear-gradient(90deg,#f8f4f2,#f8f4f2,#f8f4f2,#f7f5f4,#f6f7f7,#f2f5f6,#f0f4f6,#edf2f5,#ecf2f5,#ecf2f5,#eaf1f5,#ecf2f5,#ecf2f5,#edf2f5,#f0f4f6,#f2f5f6,#f3f5f6,#f5f6f7,#f6f7f7,#f7f7f7,#f7f7f7,#f7f7f7,#f7f6f6,#f7f5f4,#f8f4f2,#f8f3f0,#f8f2ef,#f9f0eb,#f9efe9,#f9efe9,#f9eee7,#f9efe9,#f9efe9,#f9f0eb,#f8f2ef,#f8f3f0,#f7f6f6,#f5f6f7,#f3f5f6,#f3f5f6,#f3f5f6)"></i>
<i style="top:302px;background:linear-gradient(90deg,#f7f5f4,#f7f5f4,#f7f6f6,#f5f6f7,#f2f5f6,#eff3f5,#edf2f5,#ecf2f5,#ecf2f5,#ecf2f5,#edf2f5,#eff3f5,#f0f4f6,#f2f5f6,#f5f6f7,#f6f7f7,#f7f7f7,#f7f7f7,#f7f7f7,#f7f7f7,#f7f7f7,#f7f7f7,#f7f7f7,#f7f7f7,#f7f7f7,#f7f6f6,#f7f5f4,#f8f3f0,#f8f2ef,#f8f1ed,#f9f0eb,#f9efe9,#f9efe9,#f9efe9,#f9f0eb,#f8f1ed,#f8f3f0,#f7f5f4,#f6f7f7,#f5f6f7,#f5f6f7)"></i>
<i style="top:304px;background:linear-gradient(90deg,#f7f5f4,#f7f7f7,#f5f6f7,#f2f5f6,#eff3f5,#ecf2f5,#ecf2f5,#ecf2f5,#edf2f5,#eff3f5,#f0f4f6,#f3f5f6,#f5f6f7,#f7f7f7,#f7f5f4,#f8f4f2,#f8f4f2,#f8f4f2,#f7f5f4,#f7f6f6,#f7f7f7,#f6f7f7,#f5f6f7,#f3f5f6,#f3f5f6,#f3f5f6,#f5f6f7,#f7f7f7,#f7f5f4,#f8f4f2,#f8f2ef,#f8f1ed,#f9f0eb,#f9efe9,#f9efe9,#f9efe9,#f8f1ed,#f8f3f0,#f7f5f4,#f7f7f7,#f5f6f7)"></i>
<i style="top:306px;background:linear-gradient(90deg,#f7f7f7,#f6f7f7,#f2f5f6,#eff3f5,#ecf2f5,#ecf2f5,#ecf2f5,#edf2f5,#f0f4f6,#f3f5f6,#f6f7f7,#f7f5f4,#f8f4f2,#f8f2ef,#f8f1ed,#f8f1ed,#f8f2ef,#f8f2ef,#f8f4f2,#f7f5f4,#f7f7f7,#f5f6f7,#f3f5f6,#f0f4f6,#f0f4f6,#eff3f5,#eff3f5,#f0f4f6,#f3f5f6,#f5f6f7,#f7f6f6,#f8f4f2,#f8f2ef,#f9f0eb,#f9efe9,#f9efe9,#f9efe9,#f8f1ed,#f8f3f0,#f7f6f6,#f7f7f7)"></i>
<i style="top:308px;background:linear-gradient(90deg,#f7f7f7,#f3f5f6,#f0f4f6,#edf2f5,#ecf2f5,#edf2f5,#eff3f5,#f2f5f6,#f5f6f7,#f7f6f6,#f8f3f0,#f8f1ed,#f9f0eb,#f9efe9,#f9efe9,#f9efe9,#f9f0eb,#f8f1ed,#f8f3f0,#f7f5f4,#f7f7f7,#f5f6f7,#f2f5f6,#eff3f5,#edf2f5,#ecf2f5,#ecf2f5,#ecf2f5,#edf2f5,#eff3f5,#f2f5f6,#f6f7f7,#f7f5f4,#f8f3f0,#f8f1ed,#f9f0eb,#f9efe9,#f9f0eb,#f8f2ef,#f8f4f2,#f7f7f7)"></i>
<i style="top:310px;background:linear-gradient(90deg,#f5f6f7,#f2f5f6,#eff3f5,#edf2f5,#edf2f5,#f0f4f6,#f3f5f6,#f7f7f7,#f8f4f2,#f8f2ef,#f9f0eb,#f9eee7,#f9ede5,#f9ebe3,#f9ede5,#f9eee7,#f9efe9,#f8f1ed,#f8f3f0,#f7f5f4,#f7f7f7,#f5f6f7,#f2f5f6,#eff3f5,#ecf2f5,#eaf1f5,#e9f0f4,#e7f0f4,#e9f0f4,#eaf1f5,#edf2f5,#f0f4f6,#f3f5f6,#f7f7f7,#f8f4f2,#f8f2ef,#f9f0eb,#f9f0eb,#f8f1ed,#f8f3f0,#f7f5f4)"></i>
<i style="top:312px;background:linear-gradient(90deg,#f3f5f6,#f0f4f6,#eff3f5,#eff3f5,#f0f4f6,#f5f6f7,#f7f6f6,#f8f3f0,#f8f1ed,#f9efe9,#f9ede5,#f9ebe3,#faeae1,#f9ebe3,#f9ede5,#f9eee7,#f9f0eb,#f8f1ed,#f8f3f0,#f7f5f4,#f7f7f7,#f5f6f7,#f2f5f6,#eff3f5,#edf2f5,#eaf1f5,#e9f0f4,#e7f0f4,#e6eff4,#e7f0f4,#e9f0f4,#ecf2f5,#eff3f5,#f2f5f6,#f6f7f7,#f7f5f4,#f8f2ef,#f8f1ed,#f8f1ed,#f8f2ef,#f8f4f2)"></i>
<i style="top:314px;background:linear-gradient(90deg,#f3f5f6,#f0f4f6,#f0f4f6,#f2f5f6,#f5f6f7,#f7f5f4,#f8f2ef,#f9f0eb,#f9eee7,#f9ebe3,#f9ebe3,#faeae1,#f9ebe3,#f9ede5,#f9eee7,#f9f0eb,#f8f2ef,#f8f3f0,#f8f4f2,#f7f5f4,#f7f7f7,#f5f6f7,#f3f5f6,#f2f5f6,#f0f4f6,#edf2f5,#eaf1f5,#e9f0f4,#e7f0f4,#e6eff4,#e7f0f4,#e7f0f4,#eaf1f5,#edf2f5,#f0f4f6,#f5f6f7,#f7f5f4,#f8f3f0,#f8f2ef,#f8f2ef,#f8f4f2)"></i>
<i style="top:316px;background:linear-gradient(90deg,#f3f5f6,#f2f5f6,#f3f5f6,#f7f7f7,#f8f4f2,#f8f1ed,#f9efe9,#f9ede5,#f9ebe3,#f9ebe3,#f9ebe3,#f9ede5,#f9eee7,#f9f0eb,#f8f1ed,#f8f3f0,#f8f4f2,#f7f5f4,#f7f7f7,#f7f7f7,#f7f7f7,#f7f7f7,#f7f7f7,#f5f6f7,#f3f5f6,#f2f5f6,#eff3f5,#edf2f5,#eaf1f5,#e9f0f4,#e7f0f4,#e7f0f4,#e7f0f4,#e9f0f4,#ecf2f5,#eff3f5,#f3f5f6,#f7f7f7,#f8f4f2,#f8f3f0,#f8f4f2)"></i>
<i style="top:318px;background:linear-gradient(90deg,#f3f5f6,#f3f5f6,#f7f7f7,#f8f4f2,#f8f1ed,#f9eee7,#f9ede5,#f9ebe3,#f9ebe3,#f9ede5,#f9eee7,#f9f0eb,#f8f2ef,#f8f4f2,#f7f6f6,#f7f7f7,#f5f6f7,#f5f6f7,#f5f6f7,#f7f7f7,#f7f7f7,#f7f7f7,#f7f5f4,#f7f5f4,#f7f5f4,#f7f7f7,#f6f7f7,#f3f5f6,#f0f4f6,#edf2f5,#eaf1f5,#e9f0f4,#e7f0f4,#e7f0f4,#e9f0f4,#eaf1f5,#eff3f5,#f3f5f6,#f7f7f7,#f8f4f2,#f8f4f2)"></i>
<i style="top:320px;background:linear-gradient(90deg,#f5f6f7,#f7f7f7,#f8f4f2,#f8f1ed,#f9eee7,#f9ebe3,#f9ebe3,#f9ede5,#f9eee7,#f9f0eb,#f8f2ef,#f7f5f4,#f7f7f7,#f3f5f6,#f2f5f6,#f0f4f6,#f0f4f6,#f0f4f6,#f3f5f6,#f5f6f7,#f7f7f7,#f7f5f4,#f8f4f2,#f8f2ef,#f8f2ef,#f8f2ef,#f8f3f0,#f8f4f2,#f7f7f7,#f5f6f7,#f0f4f6,#edf2f5,#eaf1f5,#e9f0f4,#e7f0f4,#e7f0f4,#eaf1f5,#eff3f5,#f3f5f6,#f7f7f7,#f7f5f4)"></i>
<i style="top:322px;background:linear-gradient(90deg,#f7f7f7,#f7f5f4,#f8f1ed,#f9eee7,#f9ebe3,#f9ebe3,#f9ede5,#f9efe9,#f8f2ef,#f7f5f4,#f6f7f7,#f2f5f6,#eff3f5,#ecf2f5,#eaf1f5,#eaf1f5,#ecf2f5,#edf2f5,#f0f4f6,#f3f5f6,#f7f7f7,#f8f4f2,#f8f2ef,#f9f0eb,#f9efe9,#f9eee7,#f9eee7,#f9efe9,#f8f1ed,#f8f3f0,#f7f6f6,#f5f6f7,#f0f4f6,#ecf2f5,#e9f0f4,#e7f0f4,#e7f0f4,#eaf1f5,#eff3f5,#f5f6f7,#f7f7f7)"></i>
<i style="top:324px;background:linear-gradient(90deg,#f7f5f4,#f8f3f0,#f9f0eb,#f9ede5,#f9ede5,#f9eee7,#f9f0eb,#f8f3f0,#f7f7f7,#f2f5f6,#eff3f5,#eaf1f5,#e7f0f4,#e6eff4,#e6eff4,#e7f0f4,#e9f0f4,#ecf2f5,#f0f4f6,#f3f5f6,#f7f7f7,#f8f4f2,#f8f2ef,#f9efe9,#f9ede5,#f9ebe3,#faeae1,#faeae1,#f9ebe3,#f9eee7,#f8f1ed,#f8f3f0,#f7f7f7,#f2f5f6,#edf2f5,#eaf1f5,#e9f0f4,#e9f0f4,#edf2f5,#f2f5f6,#f5f6f7)"></i>
<i style="top:326px;background:linear-gradient(90deg,#f8f4f2,#f8f1ed,#f9efe9,#f9eee7,#f9efe9,#f8f1ed,#f7f5f4,#f5f6f7,#f0f4f6,#ecf2f5,#e7f0f4,#e4eef4,#e3edf3,#e3edf3,#e3edf3,#e6eff4,#e9f0f4,#ecf2f5,#f0f4f6,#f3f5f6,#f7f7f7,#f8f4f2,#f8f2ef,#f9efe9,#f9ede5,#faeae1,#fae8de,#fae8de,#fae8de,#fae9df,#f9ebe3,#f9efe9,#f8f2ef,#f7f5f4,#f5f6f7,#eff3f5,#ecf2f5,#eaf1f5,#ecf2f5,#eff3f5,#f3f5f6)"></i>
<i style="top:328px;background:linear-gradient(90deg,#f8f3f0,#f8f1ed,#f9efe9,#f9f0eb,#f8f2ef,#f7f7f7,#f2f5f6,#edf2f5,#e9f0f4,#e6eff4,#e3edf3,#e1edf3,#e1edf3,#e3edf3,#e4eef4,#e7f0f4,#eaf1f5,#eff3f5,#f2f5f6,#f5f6f7,#f7f7f7,#f7f5f4,#f8f3f0,#f8f1ed,#f9eee7,#f9ebe3,#fae9df,#fae8de,#fae7dc,#fae7dc,#fae8de,#faeae1,#f9ede5,#f9f0eb,#f8f3f0,#f7f7f7,#f0f4f6,#edf2f5,#ecf2f5,#eff3f5,#f2f5f6)"></i>
<i style="top:330px;background:linear-gradient(90deg,#f8f2ef,#f8f1ed,#f8f1ed,#f8f3f0,#f7f7f7,#f0f4f6,#ecf2f5,#e7f0f4,#e4eef4,#e3edf3,#e1edf3,#e1edf3,#e3edf3,#e6eff4,#e9f0f4,#ecf2f5,#eff3f5,#f2f5f6,#f3f5f6,#f6f7f7,#f7f7f7,#f7f6f6,#f8f4f2,#f8f3f0,#f8f1ed,#f9efe9,#f9ede5,#faeae1,#fae8de,#fae7dc,#fae7dc,#fae8de,#fae9df,#f9ebe3,#f9efe9,#f8f2ef,#f7f7f7,#f2f5f6,#eff3f5,#eff3f5,#f0f4f6)"></i>
<i style="top:332px;background:linear-gradient(90deg,#f8f3f0,#f8f2ef,#f8f4f2,#f6f7f7,#eff3f5,#eaf1f5,#e6eff4,#e4eef4,#e3edf3,#e3edf3,#e4eef4,#e6eff4,#e9f0f4,#edf2f5,#f0f4f6,#f3f5f6,#f5f6f7,#f7f7f7,#f7f7f7,#f7f7f7,#f7f7f7,#f7f7f7,#f7f7f7,#f7f7f7,#f7f5f4,#f8f4f2,#f8f2ef,#f9f0eb,#f9ede5,#faeae1,#fae9df,#fae8de,#fae8de,#fae9df,#faeae1,#f9eee7,#f8f1ed,#f7f6f6,#f3f5f6,#f0f4f6,#f2f5f6)"></i>
<i style="top:334px;background:linear-gradient(90deg,#f8f4f2,#f7f5f4,#f5f6f7,#eff3f5,#e9f0f4,#e4eef4,#e3edf3,#e3edf3,#e4eef4,#e7f0f4,#eaf1f5,#edf2f5,#f2f5f6,#f6f7f7,#f7f5f4,#f8f4f2,#f8f3f0,#f8f3f0,#f8f4f2,#f7f5f4,#f7f7f7,#f5f6f7,#f3f5f6,#f2f5f6,#f2f5f6,#f3f5f6,#f5f6f7,#f7f6f6,#f8f3f0,#f9f0eb,#f9eee7,#f9ebe3,#fae9df,#fae8de,#fae8de,#fae9df,#f9ede5,#f8f1ed,#f7f5f4,#f5f6f7,#f3f5f6)"></i>
<i style="top:336px;background:linear-gradient(90deg,#f7f5f4,#f6f7f7,#f0f4f6,#e9f0f4,#e4eef4,#e3edf3,#e3edf3,#e6eff4,#eaf1f5,#edf2f5,#f2f5f6,#f7f7f7,#f8f3f0,#f8f1ed,#f9efe9,#f9efe9,#f9efe9,#f9f0eb,#f8f2ef,#f8f4f2,#f7f7f7,#f3f5f6,#f0f4f6,#edf2f5,#ecf2f5,#ecf2f5,#ecf2f5,#eff3f5,#f2f5f6,#f7f7f7,#f8f3f0,#f9f0eb,#f9eee7,#faeae1,#fae8de,#fae8de,#fae9df,#f9ede5,#f8f2ef,#f7f6f6,#f5f6f7)"></i>
<i style="top:338px;background:linear-gradient(90deg,#f7f7f7,#f2f5f6,#ecf2f5,#e6eff4,#e3edf3,#e4eef4,#e7f0f4,#ecf2f5,#f2f5f6,#f7f7f7,#f8f3f0,#f9efe9,#f9ede5,#faeae1,#fae9df,#faeae1,#f9ebe3,#f9eee7,#f8f1ed,#f8f4f2,#f7f7f7,#f3f5f6,#eff3f5,#eaf1f5,#e7f0f4,#e6eff4,#e4eef4,#e6eff4,#e9f0f4,#ecf2f5,#f2f5f6,#f7f7f7,#f8f3f0,#f9efe9,#f9ebe3,#fae9df,#fae8de,#faeae1,#f9efe9,#f8f3f0,#f7f7f7)"></i>
<i style="top:340px;background:linear-gradient(90deg,#f3f5f6,#eff3f5,#e9f0f4,#e4eef4,#e6eff4,#e9f0f4,#eff3f5,#f5f6f7,#f8f4f2,#f9f0eb,#f9ede5,#fae9df,#fbe6da,#fbe6da,#fbe6da,#fae7dc,#faeae1,#f9ede5,#f9f0eb,#f8f3f0,#f7f7f7,#f2f5f6,#edf2f5,#e9f0f4,#e6eff4,#e1edf3,#e0ecf3,#e0ecf3,#e0ecf3,#e4eef4,#e9f0f4,#edf2f5,#f3f5f6,#f7f5f4,#f8f1ed,#f9ede5,#faeae1,#fae9df,#f9ede5,#f8f1ed,#f8f4f2)"></i>
<i style="top:342px;background:linear-gradient(90deg,#f0f4f6,#ecf2f5,#e7f0f4,#e7f0f4,#eaf1f5,#f0f4f6,#f7f7f7,#f8f2ef,#f9eee7,#fae9df,#fae7dc,#fbe4d6,#fbe4d6,#fbe4d6,#fbe5d8,#fae7dc,#faeae1,#f9eee7,#f8f1ed,#f8f4f2,#f7f7f7,#f3f5f6,#eff3f5,#eaf1f5,#e6eff4,#e1edf3,#deebf2,#ddebf2,#ddebf2,#ddebf2,#e1edf3,#e4eef4,#eaf1f5,#f0f4f6,#f7f7f7,#f8f2ef,#f9eee7,#f9ebe3,#f9ebe3,#f9efe9,#f8f2ef)"></i>
<i style="top:344px;background:linear-gradient(90deg,#eff3f5,#ecf2f5,#eaf1f5,#ecf2f5,#f2f5f6,#f7f5f4,#f9f0eb,#f9ebe3,#fae8de,#fbe6da,#fbe4d6,#fbe3d4,#fbe4d6,#fbe5d8,#fae7dc,#faeae1,#f9eee7,#f9f0eb,#f8f3f0,#f7f5f4,#f7f7f7,#f5f6f7,#f2f5f6,#edf2f5,#eaf1f5,#e6eff4,#e1edf3,#deebf2,#ddebf2,#dbeaf2,#ddebf2,#e0ecf3,#e3edf3,#e7f0f4,#edf2f5,#f5f6f7,#f8f3f0,#f9efe9,#f9eee7,#f9efe9,#f8f1ed)"></i>
<i style="top:346px;background:linear-gradient(90deg,#eff3f5,#edf2f5,#eff3f5,#f3f5f6,#f8f4f2,#f9efe9,#faeae1,#fae7dc,#fbe5d8,#fbe4d6,#fbe4d6,#fbe5d8,#fae7dc,#fae9df,#f9ede5,#f9f0eb,#f8f2ef,#f8f4f2,#f7f5f4,#f7f7f7,#f7f7f7,#f7f7f7,#f5f6f7,#f3f5f6,#f0f4f6,#edf2f5,#e9f0f4,#e4eef4,#e1edf3,#deebf2,#ddebf2,#ddebf2,#deebf2,#e1edf3,#e6eff4,#ecf2f5,#f3f5f6,#f8f4f2,#f8f1ed,#f9f0eb,#f8f1ed)"></i>
<i style="top:348px;background:linear-gradient(90deg,#f0f4f6,#f0f4f6,#f5f6f7,#f8f3f0,#f9eee7,#fae8de,#fbe6da,#fbe5d8,#fbe5d8,#fbe6da,#fae7dc,#faeae1,#f9eee7,#f8f1ed,#f8f4f2,#f7f7f7,#f7f7f7,#f5f6f7,#f5f6f7,#f7f7f7,#f7f7f7,#f7f7f7,#f7f5f4,#f7f5f4,#f7f7f7,#f7f7f7,#f3f5f6,#eff3f5,#eaf1f5,#e6eff4,#e1edf3,#e0ecf3,#deebf2,#deebf2,#e0ecf3,#e3edf3,#eaf1f5,#f2f5f6,#f7f5f4,#f8f2ef,#f8f2ef)"></i>
<i style="top:350px;background:linear-gradient(90deg,#f2f5f6,#f5f6f7,#f8f3f0,#f9eee7,#fae8de,#fbe5d8,#fbe5d8,#fbe6da,#fae8de,#faeae1,#f9eee7,#f8f2ef,#f7f5f4,#f3f5f6,#f0f4f6,#eff3f5,#edf2f5,#eff3f5,#f2f5f6,#f3f5f6,#f7f7f7,#f8f4f2,#f8f3f0,#f8f1ed,#f9f0eb,#f8f1ed,#f8f2ef,#f8f4f2,#f5f6f7,#f0f4f6,#eaf1f5,#e6eff4,#e3edf3,#e0ecf3,#deebf2,#deebf2,#e3edf3,#eaf1f5,#f2f5f6,#f7f5f4,#f8f3f0)"></i>
<i style="top:352px;background:linear-gradient(90deg,#f6f7f7,#f8f4f2,#f9efe9,#fae9df,#fbe5d8,#fbe5d8,#fbe6da,#fae9df,#f9eee7,#f8f2ef,#f7f7f7,#f2f5f6,#ecf2f5,#e9f0f4,#e6eff4,#e6eff4,#e7f0f4,#eaf1f5,#edf2f5,#f2f5f6,#f7f7f7,#f8f3f0,#f9f0eb,#f9eee7,#f9ebe3,#faeae1,#faeae1,#f9ede5,#f9efe9,#f8f3f0,#f7f7f7,#f0f4f6,#eaf1f5,#e4eef4,#e0ecf3,#deebf2,#deebf2,#e4eef4,#ecf2f5,#f3f5f6,#f7f6f6)"></i>
<i style="top:354px;background:linear-gradient(90deg,#f7f5f4,#f8f1ed,#f9ebe3,#fae7dc,#fbe5d8,#fae7dc,#f9ebe3,#f9f0eb,#f7f5f4,#f3f5f6,#ecf2f5,#e6eff4,#e1edf3,#deebf2,#deebf2,#e0ecf3,#e3edf3,#e7f0f4,#ecf2f5,#f2f5f6,#f7f7f7,#f8f3f0,#f9efe9,#f9ebe3,#fae8de,#fbe6da,#fbe5d8,#fbe5d8,#fae7dc,#faeae1,#f9efe9,#f8f4f2,#f5f6f7,#edf2f5,#e7f0f4,#e1edf3,#deebf2,#e1edf3,#e7f0f4,#eff3f5,#f5f6f7)"></i>
<i style="top:356px;background:linear-gradient(90deg,#f8f3f0,#f9eee7,#fae9df,#fae7dc,#fae8de,#f9ede5,#f8f2ef,#f6f7f7,#eff3f5,#e7f0f4,#e1edf3,#ddebf2,#dae9f2,#d8e9f1,#dae9f2,#ddebf2,#e1edf3,#e7f0f4,#ecf2f5,#f2f5f6,#f7f7f7,#f8f3f0,#f9efe9,#f9ebe3,#fae7dc,#fbe4d6,#fce2d2,#fce0d0,#fce2d2,#fbe4d6,#fae7dc,#f9ebe3,#f8f1ed,#f7f6f6,#f0f4f6,#e9f0f4,#e3edf3,#e1edf3,#e4eef4,#eaf1f5,#f2f5f6)"></i>
<i style="top:358px;background:linear-gradient(90deg,#f8f1ed,#f9ede5,#fae9df,#faeae1,#f9eee7,#f8f4f2,#f2f5f6,#eaf1f5,#e4eef4,#deebf2,#dae9f2,#d7e8f1,#d7e8f1,#d8e9f1,#dbeaf2,#e0ecf3,#e4eef4,#e9f0f4,#eff3f5,#f3f5f6,#f7f7f7,#f8f4f2,#f8f1ed,#f9ede5,#fae9df,#fbe6da,#fbe3d4,#fce0d0,#fcdfcf,#fcdfcf,#fce2d2,#fbe5d8,#fae9df,#f9eee7,#f8f3f0,#f3f5f6,#eaf1f5,#e6eff4,#e4eef4,#e9f0f4,#eff3f5)"></i>
<i style="top:360px;background:linear-gradient(90deg,#f9f0eb,#f9ede5,#f9ede5,#f9f0eb,#f7f5f4,#f0f4f6,#e7f0f4,#e1edf3,#ddebf2,#d8e9f1,#d7e8f1,#d7e8f1,#d8e9f1,#ddebf2,#e1edf3,#e6eff4,#eaf1f5,#eff3f5,#f2f5f6,#f5f6f7,#f7f7f7,#f7f5f4,#f8f3f0,#f8f1ed,#f9eee7,#faeae1,#fae7dc,#fbe4d6,#fce0d0,#fcdfcf,#fcdfcf,#fce0d0,#fbe4d6,#fae7dc,#f9ebe3,#f8f2ef,#f5f6f7,#edf2f5,#e9f0f4,#e9f0f4,#edf2f5)"></i>
<i style="top:362px;background:linear-gradient(90deg,#f9f0eb,#f9efe9,#f8f1ed,#f7f7f7,#edf2f5,#e4eef4,#deebf2,#dbeaf2,#d8e9f1,#d8e9f1,#dae9f2,#ddebf2,#e0ecf3,#e6eff4,#eaf1f5,#eff3f5,#f2f5f6,#f5f6f7,#f7f7f7,#f7f7f7,#f7f7f7,#f7f7f7,#f7f7f7,#f7f5f4,#f8f3f0,#f8f1ed,#f9eee7,#faeae1,#fbe6da,#fbe4d6,#fce2d2,#fce0d0,#fce0d0,#fbe3d4,#fbe5d8,#fae9df,#f9f0eb,#f7f7f7,#eff3f5,#ecf2f5,#edf2f5)"></i>
<i style="top:364px;background:linear-gradient(90deg,#f8f1ed,#f8f2ef,#f7f7f7,#edf2f5,#e3edf3,#ddebf2,#dae9f2,#dae9f2,#dbeaf2,#ddebf2,#e1edf3,#e7f0f4,#ecf2f5,#f2f5f6,#f7f7f7,#f8f4f2,#f8f3f0,#f8f3f0,#f8f4f2,#f7f5f4,#f7f7f7,#f5f6f7,#f3f5f6,#f2f5f6,#f2f5f6,#f3f5f6,#f7f7f7,#f8f3f0,#f9efe9,#f9ebe3,#fae7dc,#fbe4d6,#fbe3d4,#fce2d2,#fce2d2,#fbe4d6,#fae8de,#f9f0eb,#f7f7f7,#f0f4f6,#eff3f5)"></i>
<i style="top:366px;background:linear-gradient(90deg,#f8f3f0,#f7f7f7,#eff3f5,#e4eef4,#ddebf2,#d8e9f1,#dae9f2,#ddebf2,#e1edf3,#e7f0f4,#edf2f5,#f5f6f7,#f8f4f2,#f8f1ed,#f9eee7,#f9ede5,#f9ede5,#f9efe9,#f8f1ed,#f8f4f2,#f7f7f7,#f3f5f6,#eff3f5,#ecf2f5,#e9f0f4,#e9f0f4,#eaf1f5,#eff3f5,#f3f5f6,#f7f5f4,#f9f0eb,#f9ebe3,#fae7dc,#fbe4d6,#fce2d2,#fce0d0,#fbe4d6,#fae9df,#f8f1ed,#f7f7f7,#f2f5f6)"></i>
<i style="top:368px;background:linear-gradient(90deg,#f7f7f7,#f0f4f6,#e7f0f4,#deebf2,#dae9f2,#dae9f2,#deebf2,#e4eef4,#ecf2f5,#f3f5f6,#f8f4f2,#f9efe9,#faeae1,#fae7dc,#fbe6da,#fbe6da,#fae8de,#f9ebe3,#f9efe9,#f8f3f0,#f7f7f7,#f2f5f6,#ecf2f5,#e7f0f4,#e3edf3,#e0ecf3,#e0ecf3,#e1edf3,#e6eff4,#ecf2f5,#f3f5f6,#f8f4f2,#f9efe9,#fae9df,#fbe5d8,#fce2d2,#fce2d2,#fbe5d8,#f9ebe3,#f8f2ef,#f7f7f7)"></i>
<i style="top:370px;background:linear-gradient(90deg,#f3f5f6,#eaf1f5,#e1edf3,#dbeaf2,#dbeaf2,#e0ecf3,#e7f0f4,#f0f4f6,#f7f5f4,#f9f0eb,#fae9df,#fbe5d8,#fce2d2,#fce0d0,#fce0d0,#fbe3d4,#fbe5d8,#fae9df,#f9eee7,#f8f2ef,#f7f7f7,#f0f4f6,#eaf1f5,#e4eef4,#deebf2,#dbeaf2,#d8e9f1,#d8e9f1,#dae9f2,#deebf2,#e4eef4,#edf2f5,#f5f6f7,#f8f2ef,#f9ebe3,#fbe6da,#fbe3d4,#fbe3d4,#fae7dc,#f9eee7,#f8f4f2)"></i>
<i style="top:372px;background:linear-gradient(90deg,#eff3f5,#e6eff4,#e0ecf3,#deebf2,#e3edf3,#eaf1f5,#f5f6f7,#f8f2ef,#f9ebe3,#fbe6da,#fce2d2,#fcdecd,#fdddcb,#fdddcb,#fcdecd,#fce2d2,#fbe6da,#faeae1,#f9efe9,#f8f3f0,#f7f7f7,#f2f5f6,#ecf2f5,#e6eff4,#e0ecf3,#dae9f2,#d5e7f1,#d4e6f1,#d4e6f1,#d5e7f1,#dae9f2,#e0ecf3,#e7f0f4,#f0f4f6,#f7f5f4,#f9eee7,#fae8de,#fbe5d8,#fbe6da,#faeae1,#f8f1ed)"></i>
<i style="top:374px;background:linear-gradient(90deg,#ecf2f5,#e4eef4,#e3edf3,#e6eff4,#edf2f5,#f7f7f7,#f9efe9,#fae9df,#fbe4d6,#fcdfcf,#fdddcb,#fddcc9,#fddcc9,#fcdecd,#fce2d2,#fbe5d8,#fae9df,#f9ede5,#f8f1ed,#f8f4f2,#f7f7f7,#f3f5f6,#eff3f5,#e9f0f4,#e4eef4,#deebf2,#dae9f2,#d5e7f1,#d2e6f0,#d2e6f0,#d4e6f1,#d7e8f1,#ddebf2,#e4eef4,#ecf2f5,#f7f7f7,#f9f0eb,#faeae1,#fae8de,#fae9df,#f9efe9)"></i>
<i style="top:376px;background:linear-gradient(90deg,#eaf1f5,#e7f0f4,#e9f0f4,#eff3f5,#f7f5f4,#f9ede5,#fae7dc,#fce2d2,#fcdfcf,#fdddcb,#fdddcb,#fdddcb,#fce0d0,#fbe4d6,#fae7dc,#f9ebe3,#f9efe9,#f8f2ef,#f8f4f2,#f7f5f4,#f7f7f7,#f5f6f7,#f3f5f6,#f0f4f6,#ecf2f5,#e7f0f4,#e1edf3,#ddebf2,#d8e9f1,#d4e6f1,#d4e6f1,#d4e6f1,#d7e8f1,#dae9f2,#e1edf3,#e9f0f4,#f5f6f7,#f8f1ed,#f9ede5,#f9ebe3,#f9eee7)"></i>
<i style="top:378px;background:linear-gradient(90deg,#eaf1f5,#eaf1f5,#f0f4f6,#f8f4f2,#f9ebe3,#fbe5d8,#fce0d0,#fcdecd,#fcdecd,#fcdecd,#fce0d0,#fbe4d6,#fae8de,#f9ede5,#f8f1ed,#f8f4f2,#f7f6f6,#f7f7f7,#f7f7f7,#f7f7f7,#f7f7f7,#f7f7f7,#f7f7f7,#f7f7f7,#f6f7f7,#f3f5f6,#eff3f5,#e9f0f4,#e3edf3,#ddebf2,#d8e9f1,#d5e7f1,#d5e7f1,#d5e7f1,#d8e9f1,#deebf2,#e7f0f4,#f3f5f6,#f8f2ef,#f9eee7,#f9eee7)"></i>
<i style="top:380px;background:linear-gradient(90deg,#edf2f5,#f2f5f6,#f8f4f2,#f9ebe3,#fbe4d6,#fcdfcf,#fcdecd,#fcdecd,#fce2d2,#fbe5d8,#fae9df,#f9eee7,#f8f3f0,#f7f7f7,#f2f5f6,#eff3f5,#edf2f5,#eff3f5,#f0f4f6,#f3f5f6,#f7f7f7,#f8f4f2,#f8f2ef,#f8f1ed,#f9f0eb,#f8f1ed,#f8f3f0,#f7f7f7,#f2f5f6,#eaf1f5,#e4eef4,#deebf2,#dae9f2,#d5e7f1,#d5e7f1,#d7e8f1,#ddebf2,#e7f0f4,#f3f5f6,#f8f3f0,#f9f0eb)"></i>
<i style="top:382px;background:linear-gradient(90deg,#f2f5f6,#f7f5f4,#f9ede5,#fbe5d8,#fcdfcf,#fdddcb,#fcdfcf,#fbe4d6,#fae8de,#f9eee7,#f8f3f0,#f5f6f7,#edf2f5,#e7f0f4,#e4eef4,#e3edf3,#e4eef4,#e7f0f4,#ecf2f5,#f2f5f6,#f7f7f7,#f8f3f0,#f9efe9,#f9ebe3,#fae9df,#fae8de,#fae9df,#f9ebe3,#f9f0eb,#f7f5f4,#f2f5f6,#eaf1f5,#e3edf3,#ddebf2,#d7e8f1,#d4e6f1,#d7e8f1,#deebf2,#e9f0f4,#f5f6f7,#f8f3f0)"></i>
<i style="top:384px;background:linear-gradient(90deg,#f7f7f7,#f9f0eb,#fae7dc,#fce0d0,#fcdecd,#fce0d0,#fbe5d8,#f9ebe3,#f8f2ef,#f5f6f7,#ecf2f5,#e4eef4,#deebf2,#dbeaf2,#dae9f2,#dbeaf2,#deebf2,#e4eef4,#eaf1f5,#f0f4f6,#f7f7f7,#f8f2ef,#f9eee7,#fae9df,#fbe5d8,#fbe3d4,#fce2d2,#fbe3d4,#fbe5d8,#fae9df,#f9efe9,#f7f5f4,#f0f4f6,#e7f0f4,#deebf2,#d8e9f1,#d5e7f1,#d8e9f1,#e1edf3,#edf2f5,#f7f7f7)"></i>
<i style="top:386px;background:linear-gradient(90deg,#f8f2ef,#faeae1,#fbe4d6,#fce0d0,#fce2d2,#fae7dc,#f9efe9,#f7f5f4,#eff3f5,#e6eff4,#deebf2,#d8e9f1,#d4e6f1,#d2e6f0,#d4e6f1,#d8e9f1,#ddebf2,#e3edf3,#e9f0f4,#f0f4f6,#f7f7f7,#f8f2ef,#f9ede5,#fae8de,#fbe4d6,#fce0d0,#fdddcb,#fddcc9,#fdddcb,#fce0d0,#fbe5d8,#faeae1,#f8f1ed,#f5f6f7,#ecf2f5,#e1edf3,#dae9f2,#d8e9f1,#ddebf2,#e6eff4,#f0f4f6)"></i>
<i style="top:388px;background:linear-gradient(90deg,#f9efe9,#fae8de,#fbe4d6,#fbe4d6,#fae9df,#f8f1ed,#f5f6f7,#eaf1f5,#e1edf3,#dae9f2,#d4e6f1,#d1e5f0,#cfe4ef,#d1e5f0,#d4e6f1,#dae9f2,#e0ecf3,#e6eff4,#ecf2f5,#f2f5f6,#f7f7f7,#f8f3f0,#f9efe9,#faeae1,#fbe6da,#fce2d2,#fdddcb,#fddbc7,#fdd9c4,#fddbc7,#fdddcb,#fce2d2,#fae7dc,#f9eee7,#f7f5f4,#eff3f5,#e4eef4,#ddebf2,#ddebf2,#e3edf3,#ecf2f5)"></i>
<i style="top:390px;background:linear-gradient(90deg,#f9ebe3,#fae7dc,#fae7dc,#f9ebe3,#f8f3f0,#f0f4f6,#e6eff4,#deebf2,#d7e8f1,#d2e6f0,#cfe4ef,#cfe4ef,#d1e5f0,#d5e7f1,#dae9f2,#e0ecf3,#e6eff4,#eaf1f5,#eff3f5,#f3f5f6,#f7f7f7,#f8f4f2,#f8f1ed,#f9eee7,#faeae1,#fbe6da,#fce2d2,#fcdecd,#fddbc7,#fdd9c4,#fdd9c4,#fddcc9,#fcdfcf,#fbe5d8,#faeae1,#f8f2ef,#f2f5f6,#e7f0f4,#e1edf3,#e1edf3,#e7f0f4)"></i>
<i style="top:392px;background:linear-gradient(90deg,#faeae1,#fae9df,#f9ede5,#f8f4f2,#eff3f5,#e3edf3,#dae9f2,#d5e7f1,#d2e6f0,#d1e5f0,#d2e6f0,#d5e7f1,#dae9f2,#e0ecf3,#e6eff4,#eaf1f5,#eff3f5,#f2f5f6,#f5f6f7,#f7f7f7,#f7f7f7,#f7f7f7,#f7f5f4,#f8f3f0,#f8f1ed,#f9eee7,#faeae1,#fbe6da,#fce2d2,#fcdecd,#fddcc9,#fddbc7,#fddcc9,#fcdecd,#fce2d2,#fae8de,#f8f1ed,#f3f5f6,#e9f0f4,#e4eef4,#e6eff4)"></i>
<i style="top:394px;background:linear-gradient(90deg,#f9ebe3,#f9eee7,#f8f4f2,#edf2f5,#e1edf3,#d8e9f1,#d4e6f1,#d2e6f0,#d4e6f1,#d7e8f1,#dbeaf2,#e0ecf3,#e7f0f4,#edf2f5,#f3f5f6,#f7f7f7,#f8f4f2,#f8f4f2,#f8f4f2,#f7f5f4,#f7f7f7,#f5f6f7,#f3f5f6,#f3f5f6,#f3f5f6,#f7f7f7,#f8f4f2,#f9f0eb,#f9ebe3,#fbe6da,#fbe3d4,#fcdfcf,#fdddcb,#fddcc9,#fdddcb,#fce0d0,#fae7dc,#f9f0eb,#f3f5f6,#eaf1f5,#e7f0f4)"></i>
<i style="top:396px;background:linear-gradient(90deg,#f9eee7,#f8f4f2,#eff3f5,#e1edf3,#d7e8f1,#d2e6f0,#d2e6f0,#d5e7f1,#dbeaf2,#e1edf3,#e9f0f4,#f0f4f6,#f7f7f7,#f8f2ef,#f9efe9,#f9eee7,#f9eee7,#f9efe9,#f8f1ed,#f8f4f2,#f7f7f7,#f3f5f6,#eff3f5,#ecf2f5,#eaf1f5,#eaf1f5,#ecf2f5,#f0f4f6,#f7f7f7,#f8f2ef,#f9ede5,#fae7dc,#fbe3d4,#fcdecd,#fddcc9,#fddcc9,#fcdfcf,#fae7dc,#f8f1ed,#f3f5f6,#eaf1f5)"></i>
<i style="top:398px;background:linear-gradient(90deg,#f8f2ef,#f2f5f6,#e4eef4,#d8e9f1,#d2e6f0,#d2e6f0,#d7e8f1,#deebf2,#e7f0f4,#eff3f5,#f7f6f6,#f9f0eb,#faeae1,#fae7dc,#fbe5d8,#fbe5d8,#fae7dc,#faeae1,#f9eee7,#f8f2ef,#f7f7f7,#f0f4f6,#eaf1f5,#e6eff4,#e1edf3,#deebf2,#deebf2,#e1edf3,#e6eff4,#edf2f5,#f6f7f7,#f8f1ed,#f9ebe3,#fbe5d8,#fcdfcf,#fddcc9,#fddcc9,#fce0d0,#fae9df,#f8f3f0,#f0f4f6)"></i>
<i style="top:400px;background:linear-gradient(90deg,#f6f7f7,#e9f0f4,#ddebf2,#d5e7f1,#d4e6f1,#dae9f2,#e1edf3,#ecf2f5,#f6f7f7,#f8f1ed,#faeae1,#fbe5d8,#fce0d0,#fcdecd,#fcdecd,#fce0d0,#fbe4d6,#fae8de,#f9ede5,#f8f2ef,#f7f7f7,#f0f4f6,#e9f0f4,#e3edf3,#ddebf2,#d8e9f1,#d5e7f1,#d5e7f1,#d8e9f1,#deebf2,#e6eff4,#eff3f5,#f7f6f6,#f9efe9,#fae7dc,#fce2d2,#fdddcb,#fcdecd,#fbe4d6,#f9ede5,#f7f6f6)"></i>
<i style="top:402px;background:linear-gradient(90deg,#edf2f5,#e1edf3,#dae9f2,#d7e8f1,#dbeaf2,#e4eef4,#f0f4f6,#f8f4f2,#f9ede5,#fbe6da,#fce0d0,#fddcc9,#fdd9c4,#fdd9c4,#fddcc9,#fcdfcf,#fbe4d6,#fae8de,#f9eee7,#f8f2ef,#f7f7f7,#f0f4f6,#eaf1f5,#e3edf3,#ddebf2,#d7e8f1,#d2e6f0,#cfe4ef,#cfe4ef,#d2e6f0,#d8e9f1,#e0ecf3,#e9f0f4,#f3f5f6,#f8f2ef,#fae9df,#fbe3d4,#fcdfcf,#fce2d2,#fae7dc,#f9f0eb)"></i>
<i style="top:404px;background:linear-gradient(90deg,#e6eff4,#ddebf2,#dbeaf2,#deebf2,#e7f0f4,#f3f5f6,#f8f1ed,#fae9df,#fbe3d4,#fcdecd,#fddbc7,#fcd7c2,#fcd7c2,#fddbc7,#fcdecd,#fbe3d4,#fae7dc,#f9ebe3,#f9f0eb,#f8f3f0,#f7f7f7,#f2f5f6,#edf2f5,#e7f0f4,#e1edf3,#dbeaf2,#d5e7f1,#d1e5f0,#cce2ef,#cce2ef,#d1e5f0,#d5e7f1,#dbeaf2,#e4eef4,#eff3f5,#f8f4f2,#f9ebe3,#fbe5d8,#fbe3d4,#fbe4d6,#faeae1)"></i>
<i style="top:406px;background:linear-gradient(90deg,#e1edf3,#ddebf2,#e1edf3,#eaf1f5,#f7f7f7,#f9eee7,#fbe6da,#fce0d0,#fdddcb,#fddbc7,#fdd9c4,#fdd9c4,#fddcc9,#fce0d0,#fbe4d6,#fae8de,#f9ede5,#f9f0eb,#f8f3f0,#f7f5f4,#f7f7f7,#f5f6f7,#f2f5f6,#edf2f5,#e9f0f4,#e3edf3,#ddebf2,#d8e9f1,#d2e6f0,#cfe4ef,#cfe4ef,#d1e5f0,#d4e6f1,#d8e9f1,#e0ecf3,#eaf1f5,#f7f7f7,#f9eee7,#fae7dc,#fbe4d6,#fae7dc)"></i>
<i style="top:408px;background:linear-gradient(90deg,#e0ecf3,#e1edf3,#eaf1f5,#f7f7f7,#f9ede5,#fbe4d6,#fcdecd,#fddcc9,#fddbc7,#fddcc9,#fdddcb,#fce0d0,#fbe5d8,#fae9df,#f9eee7,#f8f1ed,#f8f4f2,#f7f6f6,#f7f7f7,#f7f7f7,#f7f7f7,#f7f7f7,#f7f7f7,#f6f7f7,#f3f5f6,#eff3f5,#eaf1f5,#e4eef4,#deebf2,#d8e9f1,#d4e6f1,#d2e6f0,#d1e5f0,#d2e6f0,#d5e7f1,#ddebf2,#e9f0f4,#f7f7f7,#f9eee7,#fae7dc,#fbe6da)"></i>
<i style="top:410px;background:linear-gradient(90deg,#e1edf3,#e9f0f4,#f7f7f7,#f9ede5,#fbe3d4,#fdddcb,#fddbc7,#fddcc9,#fcdecd,#fce2d2,#fbe5d8,#faeae1,#f9f0eb,#f8f4f2,#f5f6f7,#f2f5f6,#f0f4f6,#f0f4f6,#f2f5f6,#f5f6f7,#f7f7f7,#f7f5f4,#f8f3f0,#f8f2ef,#f8f2ef,#f8f3f0,#f7f5f4,#f3f5f6,#edf2f5,#e6eff4,#deebf2,#dae9f2,#d5e7f1,#d2e6f0,#d1e5f0,#d4e6f1,#dbeaf2,#e9f0f4,#f7f7f7,#f9ede5,#fae7dc)"></i>
<i style="top:412px;background:linear-gradient(90deg,#e6eff4,#f3f5f6,#f9eee7,#fbe4d6,#fdddcb,#fddbc7,#fddcc9,#fce0d0,#fbe5d8,#faeae1,#f8f1ed,#f7f7f7,#f0f4f6,#eaf1f5,#e7f0f4,#e6eff4,#e6eff4,#e9f0f4,#edf2f5,#f2f5f6,#f7f7f7,#f8f3f0,#f9f0eb,#f9ede5,#faeae1,#faeae1,#f9ebe3,#f9eee7,#f8f2ef,#f7f7f7,#eff3f5,#e6eff4,#deebf2,#d8e9f1,#d2e6f0,#d1e5f0,#d4e6f1,#ddebf2,#eaf1f5,#f8f4f2,#faeae1)"></i>
<i style="top:414px;background:linear-gradient(90deg,#eff3f5,#f8f1ed,#fbe6da,#fcdecd,#fddbc7,#fdddcb,#fce2d2,#fae8de,#f9efe9,#f7f6f6,#eff3f5,#e7f0f4,#e1edf3,#ddebf2,#dbeaf2,#ddebf2,#e0ecf3,#e4eef4,#eaf1f5,#f0f4f6,#f7f7f7,#f8f2ef,#f9eee7,#fae9df,#fbe6da,#fbe4d6,#fbe3d4,#fbe4d6,#fae7dc,#f9ebe3,#f8f1ed,#f6f7f7,#ecf2f5,#e3edf3,#dae9f2,#d4e6f1,#d1e5f0,#d5e7f1,#e0ecf3,#eff3f5,#f8f1ed)"></i>
<i style="top:416px;background:linear-gradient(90deg,#f7f5f4,#fae9df,#fce0d0,#fdddcb,#fcdecd,#fbe4d6,#f9ebe3,#f8f3f0,#f2f5f6,#e9f0f4,#e0ecf3,#dae9f2,#d5e7f1,#d4e6f1,#d4e6f1,#d8e9f1,#ddebf2,#e3edf3,#e9f0f4,#f0f4f6,#f7f7f7,#f8f2ef,#f9ede5,#fae8de,#fbe4d6,#fce0d0,#fdddcb,#fdddcb,#fcdecd,#fce2d2,#fbe6da,#f9ede5,#f8f3f0,#f2f5f6,#e7f0f4,#ddebf2,#d5e7f1,#d4e6f1,#d8e9f1,#e4eef4,#f5f6f7)"></i>
<i style="top:418px;background:linear-gradient(90deg,#f9ede5,#fbe3d4,#fcdfcf,#fce0d0,#fbe6da,#f9eee7,#f7f7f7,#edf2f5,#e4eef4,#dbeaf2,#d5e7f1,#d1e5f0,#cfe4ef,#d1e5f0,#d4e6f1,#d8e9f1,#deebf2,#e4eef4,#eaf1f5,#f2f5f6,#f7f7f7,#f8f3f0,#f9eee7,#fae9df,#fbe5d8,#fce0d0,#fdddcb,#fddbc7,#fdd9c4,#fddbc7,#fcdecd,#fbe3d4,#fae9df,#f9f0eb,#f7f7f7,#eaf1f5,#e0ecf3,#d8e9f1,#d7e8f1,#dbeaf2,#e9f0f4)"></i>
<i style="top:420px;background:linear-gradient(90deg,#fbe5d8,#fcdfcf,#fce0d0,#fae7dc,#f9f0eb,#f5f6f7,#e9f0f4,#e0ecf3,#d8e9f1,#d4e6f1,#cfe4ef,#cfe4ef,#d1e5f0,#d4e6f1,#d8e9f1,#deebf2,#e4eef4,#eaf1f5,#eff3f5,#f3f5f6,#f7f7f7,#f8f4f2,#f8f1ed,#f9eee7,#fae9df,#fbe5d8,#fce0d0,#fdddcb,#fddbc7,#fdd9c4,#fdd9c4,#fdddcb,#fce0d0,#fbe6da,#f9ede5,#f7f5f4,#edf2f5,#e1edf3,#d8e9f1,#d7e8f1,#deebf2)"></i>
<i style="top:422px;background:linear-gradient(90deg,#fcdfcf,#fcdfcf,#fae7dc,#f8f1ed,#f2f5f6,#e6eff4,#dbeaf2,#d7e8f1,#d2e6f0,#d1e5f0,#d1e5f0,#d4e6f1,#d8e9f1,#ddebf2,#e3edf3,#e9f0f4,#edf2f5,#f0f4f6,#f3f5f6,#f5f6f7,#f7f7f7,#f7f5f4,#f8f4f2,#f8f2ef,#f9f0eb,#f9ede5,#fae8de,#fbe4d6,#fce0d0,#fdddcb,#fddbc7,#fddbc7,#fddcc9,#fcdfcf,#fbe3d4,#faeae1,#f8f3f0,#eff3f5,#e1edf3,#d7e8f1,#d7e8f1)"></i>
<i style="top:424px;background:linear-gradient(90deg,#fdddcb,#fbe3d4,#f9efe9,#f2f5f6,#e3edf3,#dae9f2,#d4e6f1,#d2e6f0,#d2e6f0,#d5e7f1,#d8e9f1,#deebf2,#e4eef4,#eaf1f5,#f0f4f6,#f5f6f7,#f7f7f7,#f7f5f4,#f7f5f4,#f7f6f6,#f7f7f7,#f6f7f7,#f5f6f7,#f5f6f7,#f7f7f7,#f7f5f4,#f8f2ef,#f9eee7,#fae9df,#fbe5d8,#fce0d0,#fcdecd,#fddcc9,#fddcc9,#fdddcb,#fce2d2,#fae8de,#f8f3f0,#ecf2f5,#dbeaf2,#d4e6f1)"></i>
<i style="top:426px;background:linear-gradient(90deg,#fcdfcf,#faeae1,#f5f6f7,#e4eef4,#d8e9f1,#d2e6f0,#d2e6f0,#d5e7f1,#dae9f2,#deebf2,#e6eff4,#ecf2f5,#f3f5f6,#f7f5f4,#f8f2ef,#f9f0eb,#f9f0eb,#f9f0eb,#f8f2ef,#f8f4f2,#f7f7f7,#f3f5f6,#f0f4f6,#edf2f5,#edf2f5,#edf2f5,#f0f4f6,#f5f6f7,#f8f4f2,#f9efe9,#faeae1,#fbe5d8,#fce2d2,#fcdecd,#fddcc9,#fddcc9,#fce0d0,#fae9df,#f7f5f4,#e6eff4,#d7e8f1)"></i>
<i style="top:428px;background:linear-gradient(90deg,#fbe5d8,#f8f4f2,#e7f0f4,#dae9f2,#d2e6f0,#d2e6f0,#d7e8f1,#ddebf2,#e4eef4,#ecf2f5,#f5f6f7,#f8f3f0,#f9eee7,#faeae1,#fae8de,#fae8de,#fae9df,#f9ebe3,#f9efe9,#f8f3f0,#f7f7f7,#f2f5f6,#ecf2f5,#e7f0f4,#e4eef4,#e3edf3,#e3edf3,#e6eff4,#eaf1f5,#f2f5f6,#f7f5f4,#f9efe9,#fae9df,#fbe4d6,#fcdfcf,#fddcc9,#fddcc9,#fce2d2,#f9ebe3,#f3f5f6,#deebf2)"></i>
<i style="top:430px;background:linear-gradient(90deg,#f9efe9,#ecf2f5,#dbeaf2,#d4e6f1,#d4e6f1,#d8e9f1,#e0ecf3,#e9f0f4,#f2f5f6,#f8f4f2,#f9eee7,#fae8de,#fbe4d6,#fce2d2,#fce2d2,#fbe3d4,#fbe6da,#fae9df,#f9eee7,#f8f2ef,#f7f7f7,#f0f4f6,#eaf1f5,#e4eef4,#e0ecf3,#dbeaf2,#dae9f2,#dae9f2,#ddebf2,#e3edf3,#eaf1f5,#f3f5f6,#f8f3f0,#f9ede5,#fbe6da,#fce0d0,#fdddcb,#fdddcb,#fbe3d4,#f9efe9,#ecf2f5)"></i>
<i style="top:432px;background:linear-gradient(90deg,#f2f5f6,#deebf2,#d5e7f1,#d5e7f1,#dae9f2,#e3edf3,#edf2f5,#f7f7f7,#f9f0eb,#fae9df,#fbe4d6,#fce0d0,#fcdecd,#fdddcb,#fcdecd,#fce2d2,#fbe5d8,#fae9df,#f9eee7,#f8f2ef,#f7f7f7,#f0f4f6,#eaf1f5,#e4eef4,#deebf2,#dae9f2,#d5e7f1,#d4e6f1,#d5e7f1,#d8e9f1,#ddebf2,#e4eef4,#edf2f5,#f7f7f7,#f9f0eb,#fae8de,#fce2d2,#fcdecd,#fcdecd,#fbe5d8,#f8f3f0)"></i>
<i style="top:434px;background:linear-gradient(90deg,#e1edf3,#d4e6f1,#d4e6f1,#dbeaf2,#e4eef4,#f0f4f6,#f8f3f0,#f9ede5,#fbe6da,#fce2d2,#fcdecd,#fddcc9,#fddcc9,#fdddcb,#fce0d0,#fbe4d6,#fae8de,#f9ebe3,#f9f0eb,#f8f3f0,#f7f7f7,#f2f5f6,#edf2f5,#e7f0f4,#e3edf3,#ddebf2,#d8e9f1,#d4e6f1,#d2e6f0,#d2e6f0,#d5e7f1,#dae9f2,#e0ecf3,#e9f0f4,#f2f5f6,#f8f2ef,#fae9df,#fbe3d4,#fdddcb,#fdddcb,#fae7dc)"></i>
<i style="top:436px;background:linear-gradient(90deg,#d2e6f0,#cce2ef,#d8e9f1,#e6eff4,#f3f5f6,#f8f1ed,#fae9df,#fbe4d6,#fce0d0,#fdddcb,#fddcc9,#fddcc9,#fcdecd,#fce2d2,#fbe5d8,#fae9df,#f9ede5,#f9f0eb,#f8f2ef,#f7f5f4,#f7f7f7,#f5f6f7,#f0f4f6,#edf2f5,#e9f0f4,#e4eef4,#deebf2,#dae9f2,#d5e7f1,#d2e6f0,#d2e6f0,#d4e6f1,#d8e9f1,#ddebf2,#e4eef4,#eff3f5,#f8f4f2,#faeae1,#fce0d0,#fcd7c2,#fddcc9)"></i>
<i style="top:438px;background:linear-gradient(90deg,#c2ddec,#cce2ef,#e1edf3,#f3f5f6,#f9f0eb,#fae7dc,#fce2d2,#fcdfcf,#fcdecd,#fcdecd,#fcdfcf,#fce2d2,#fbe5d8,#fae9df,#f9ede5,#f9f0eb,#f8f3f0,#f7f5f4,#f7f6f6,#f7f7f7,#f7f7f7,#f7f7f7,#f6f7f7,#f5f6f7,#f2f5f6,#edf2f5,#e9f0f4,#e4eef4,#deebf2,#dae9f2,#d7e8f1,#d5e7f1,#d5e7f1,#d7e8f1,#dae9f2,#e1edf3,#edf2f5,#f8f4f2,#fae7dc,#fcd7c2,#fbceb7)"></i>
<i style="top:440px;background:linear-gradient(90deg,#bddbea,#d5e7f1,#edf2f5,#f9f0eb,#fbe6da,#fce0d0,#fcdecd,#fcdecd,#fcdfcf,#fbe3d4,#fbe6da,#fae9df,#f9efe9,#f8f2ef,#f7f6f6,#f5f6f7,#f3f5f6,#f3f5f6,#f3f5f6,#f5f6f7,#f7f7f7,#f7f5f4,#f8f4f2,#f8f4f2,#f8f4f2,#f7f5f4,#f6f7f7,#f0f4f6,#ecf2f5,#e4eef4,#e0ecf3,#dbeaf2,#d7e8f1,#d5e7f1,#d5e7f1,#d8e9f1,#e0ecf3,#edf2f5,#f9f0eb,#fcdecd,#facab1)"></i>
<i style="top:442px;background:linear-gradient(90deg,#c5dfec,#e3edf3,#f8f3f0,#fae7dc,#fce0d0,#fdddcb,#fcdecd,#fce2d2,#fbe6da,#faeae1,#f9efe9,#f8f4f2,#f5f6f7,#eff3f5,#ecf2f5,#eaf1f5,#eaf1f5,#ecf2f5,#eff3f5,#f3f5f6,#f7f7f7,#f8f4f2,#f8f1ed,#f9efe9,#f9eee7,#f9eee7,#f9efe9,#f8f1ed,#f7f5f4,#f3f5f6,#ecf2f5,#e6eff4,#e0ecf3,#dae9f2,#d5e7f1,#d4e6f1,#d8e9f1,#e1edf3,#f2f5f6,#fae8de,#fbd0b9)"></i>
<i style="top:444px;background:linear-gradient(90deg,#d7e8f1,#f3f5f6,#fae9df,#fce0d0,#fcdecd,#fcdfcf,#fbe3d4,#fae8de,#f9eee7,#f8f4f2,#f3f5f6,#edf2f5,#e7f0f4,#e3edf3,#e1edf3,#e3edf3,#e4eef4,#e9f0f4,#edf2f5,#f2f5f6,#f7f7f7,#f8f3f0,#f9f0eb,#f9ede5,#fae9df,#fae8de,#fae7dc,#fae8de,#f9ebe3,#f9f0eb,#f8f4f2,#f3f5f6,#eaf1f5,#e3edf3,#dbeaf2,#d7e8f1,#d5e7f1,#d8e9f1,#e4eef4,#f8f4f2,#fcdfcf)"></i>
<i style="top:446px;background:linear-gradient(90deg,#eaf1f5,#f9ebe3,#fce0d0,#fcdecd,#fcdfcf,#fbe5d8,#faeae1,#f8f1ed,#f7f7f7,#edf2f5,#e7f0f4,#e1edf3,#ddebf2,#dbeaf2,#dbeaf2,#deebf2,#e1edf3,#e7f0f4,#ecf2f5,#f2f5f6,#f7f7f7,#f8f3f0,#f9efe9,#f9ebe3,#fae7dc,#fbe5d8,#fbe3d4,#fbe3d4,#fbe4d6,#fae7dc,#f9ebe3,#f9f0eb,#f7f7f7,#eff3f5,#e6eff4,#deebf2,#d7e8f1,#d5e7f1,#d8e9f1,#e7f0f4,#f9eee7)"></i>
<i style="top:448px;background:linear-gradient(90deg,#f9efe9,#fcdecd,#fddcc9,#fcdfcf,#fbe6da,#f9ede5,#f8f4f2,#f2f5f6,#e9f0f4,#e3edf3,#ddebf2,#d8e9f1,#d7e8f1,#d8e9f1,#dae9f2,#deebf2,#e3edf3,#e7f0f4,#edf2f5,#f2f5f6,#f7f7f7,#f8f3f0,#f9f0eb,#f9ebe3,#fae8de,#fbe5d8,#fce2d2,#fce0d0,#fcdfcf,#fce0d0,#fbe4d6,#fae8de,#f9ede5,#f8f3f0,#f3f5f6,#e9f0f4,#e0ecf3,#d7e8f1,#d2e6f0,#d5e7f1,#ecf2f5)"></i>
<i style="top:450px;background:linear-gradient(90deg,#fcdecd,#fbd0b9,#fddbc7,#fbe5d8,#f9eee7,#f7f7f7,#edf2f5,#e6eff4,#e0ecf3,#dbeaf2,#d7e8f1,#d7e8f1,#d7e8f1,#dae9f2,#ddebf2,#e1edf3,#e7f0f4,#ecf2f5,#f0f4f6,#f3f5f6,#f7f7f7,#f8f4f2,#f8f2ef,#f9efe9,#f9ebe3,#fae7dc,#fbe4d6,#fce2d2,#fcdfcf,#fcdfcf,#fcdfcf,#fbe3d4,#fbe6da,#faeae1,#f9f0eb,#f7f7f7,#eaf1f5,#deebf2,#d1e5f0,#c5dfec,#d5e7f1)"></i>
<i style="top:452px;background:linear-gradient(90deg,#f9c6ac,#f9c6ac,#fcdfcf,#f9eee7,#f7f7f7,#eaf1f5,#e3edf3,#ddebf2,#dae9f2,#d8e9f1,#d8e9f1,#dae9f2,#ddebf2,#e0ecf3,#e4eef4,#e9f0f4,#edf2f5,#f0f4f6,#f3f5f6,#f5f6f7,#f7f7f7,#f7f5f4,#f8f4f2,#f8f2ef,#f9f0eb,#f9ede5,#fae9df,#fbe6da,#fbe4d6,#fce2d2,#fce0d0,#fce0d0,#fce2d2,#fbe4d6,#fae8de,#f9eee7,#f7f7f7,#eaf1f5,#d7e8f1,#b8d8e9,#b8d8e9)"></i>
<i style="top:454px;background:linear-gradient(90deg,#f7b596,#facab1,#fae7dc,#f7f7f7,#e9f0f4,#e0ecf3,#dbeaf2,#dae9f2,#dae9f2,#dae9f2,#ddebf2,#e1edf3,#e6eff4,#eaf1f5,#eff3f5,#f3f5f6,#f5f6f7,#f7f7f7,#f7f7f7,#f7f7f7,#f7f7f7,#f7f7f7,#f7f7f7,#f7f7f7,#f7f5f4,#f8f4f2,#f8f1ed,#f9eee7,#faeae1,#fae7dc,#fbe4d6,#fce2d2,#fce2d2,#fce2d2,#fbe3d4,#fbe6da,#f9ede5,#f7f7f7,#e1edf3,#bddbea,#a5cee3)"></i>
<i style="top:456px;background:linear-gradient(90deg,#f6b394,#fdd9c4,#f8f1ed,#eaf1f5,#e0ecf3,#dae9f2,#d8e9f1,#dae9f2,#ddebf2,#e1edf3,#e6eff4,#ecf2f5,#f2f5f6,#f7f7f7,#f8f4f2,#f8f3f0,#f8f2ef,#f8f3f0,#f8f4f2,#f7f5f4,#f7f7f7,#f5f6f7,#f3f5f6,#f2f5f6,#f0f4f6,#f2f5f6,#f3f5f6,#f7f7f7,#f8f3f0,#f9efe9,#faeae1,#fae7dc,#fbe4d6,#fce2d2,#fce0d0,#fce2d2,#fbe6da,#f9eee7,#eff3f5,#cfe4ef,#a2cde3)"></i>
<i style="top:458px;background:linear-gradient(90deg,#f9c2a7,#fae7dc,#eff3f5,#e0ecf3,#dae9f2,#d8e9f1,#dbeaf2,#e0ecf3,#e6eff4,#ecf2f5,#f2f5f6,#f7f6f6,#f8f2ef,#f9efe9,#f9eee7,#f9ede5,#f9eee7,#f9efe9,#f8f2ef,#f8f4f2,#f7f7f7,#f3f5f6,#f0f4f6,#ecf2f5,#eaf1f5,#e9f0f4,#eaf1f5,#ecf2f5,#f0f4f6,#f6f7f7,#f8f3f0,#f9efe9,#faeae1,#fbe6da,#fbe3d4,#fce0d0,#fce2d2,#fbe6da,#f8f1ed,#e1edf3,#b3d6e8)"></i>
<i style="top:460px;background:linear-gradient(90deg,#fddcc9,#f7f7f7,#e0ecf3,#dae9f2,#d8e9f1,#ddebf2,#e3edf3,#eaf1f5,#f0f4f6,#f7f7f7,#f8f2ef,#f9eee7,#faeae1,#fae8de,#fae8de,#fae9df,#faeae1,#f9eee7,#f9f0eb,#f8f3f0,#f7f7f7,#f2f5f6,#edf2f5,#eaf1f5,#e6eff4,#e4eef4,#e3edf3,#e3edf3,#e6eff4,#eaf1f5,#f0f4f6,#f7f7f7,#f8f2ef,#f9eee7,#fae8de,#fbe4d6,#fce0d0,#fce2d2,#fbe6da,#f7f7f7,#d2e6f0)"></i>
<i style="top:462px;background:linear-gradient(90deg,#f8f1ed,#e0ecf3,#d5e7f1,#d8e9f1,#ddebf2,#e4eef4,#edf2f5,#f5f6f7,#f8f3f0,#f9efe9,#faeae1,#fae7dc,#fbe5d8,#fbe5d8,#fbe5d8,#fae7dc,#faeae1,#f9ede5,#f9f0eb,#f8f3f0,#f7f7f7,#f2f5f6,#edf2f5,#e9f0f4,#e6eff4,#e1edf3,#deebf2,#deebf2,#deebf2,#e1edf3,#e6eff4,#ecf2f5,#f2f5f6,#f7f5f4,#f9f0eb,#fae9df,#fbe4d6,#fce0d0,#fcdecd,#fbe6da,#eff3f5)"></i>
<i style="top:464px;background:linear-gradient(90deg,#e1edf3,#cae1ee,#cfe4ef,#dbeaf2,#e6eff4,#eff3f5,#f7f7f7,#f8f1ed,#f9ebe3,#fae8de,#fbe5d8,#fbe4d6,#fbe3d4,#fbe4d6,#fbe6da,#fae8de,#f9ebe3,#f9efe9,#f8f1ed,#f8f4f2,#f7f7f7,#f3f5f6,#eff3f5,#ecf2f5,#e7f0f4,#e3edf3,#e0ecf3,#ddebf2,#dbeaf2,#ddebf2,#deebf2,#e3edf3,#e7f0f4,#eff3f5,#f7f7f7,#f8f1ed,#faeae1,#fbe3d4,#fdd9c4,#fcd5bf,#fae7dc)"></i>
<i style="top:466px;background:linear-gradient(90deg,#bddbea,#b1d5e7,#cfe4ef,#e3edf3,#f0f4f6,#f8f4f2,#f9efe9,#faeae1,#fae7dc,#fbe5d8,#fbe4d6,#fbe3d4,#fbe4d6,#fbe6da,#fae9df,#f9ebe3,#f9efe9,#f8f1ed,#f8f3f0,#f7f5f4,#f7f7f7,#f5f6f7,#f2f5f6,#eff3f5,#ecf2f5,#e7f0f4,#e4eef4,#e0ecf3,#ddebf2,#dbeaf2,#ddebf2,#deebf2,#e1edf3,#e6eff4,#ecf2f5,#f3f5f6,#f8f2ef,#fae8de,#fdd9c4,#f8bfa4,#facab1)"></i>
<i style="top:468px;background:linear-gradient(90deg,#9bc9e0,#a9d1e5,#d7e8f1,#edf2f5,#f8f3f0,#f9ede5,#fae8de,#fbe6da,#fbe5d8,#fbe4d6,#fbe5d8,#fbe6da,#fae8de,#f9ebe3,#f9efe9,#f8f1ed,#f8f3f0,#f8f4f2,#f7f5f4,#f7f7f7,#f7f7f7,#f7f7f7,#f5f6f7,#f3f5f6,#f2f5f6,#eff3f5,#ecf2f5,#e7f0f4,#e3edf3,#e0ecf3,#deebf2,#ddebf2,#deebf2,#e0ecf3,#e3edf3,#e9f0f4,#f2f5f6,#f9f0eb,#fcdfcf,#f7b99c,#f5ac8b)"></i>
<i style="top:470px;background:linear-gradient(90deg,#87beda,#b3d6e8,#e3edf3,#f8f4f2,#f9ebe3,#fae7dc,#fbe5d8,#fbe5d8,#fbe6da,#fae7dc,#fae9df,#f9ebe3,#f9efe9,#f8f2ef,#f7f5f4,#f7f7f7,#f6f7f7,#f5f6f7,#f5f6f7,#f7f7f7,#f7f7f7,#f7f7f7,#f7f5f4,#f7f5f4,#f7f6f6,#f7f7f7,#f5f6f7,#f0f4f6,#ecf2f5,#e7f0f4,#e4eef4,#e1edf3,#e0ecf3,#deebf2,#deebf2,#e1edf3,#e7f0f4,#f3f5f6,#fae8de,#f9c2a7,#f09c7b)"></i>
<i style="top:472px;background:linear-gradient(90deg,#8dc2dc,#cce2ef,#f2f5f6,#f9ede5,#fae7dc,#fbe5d8,#fbe5d8,#fae7dc,#fae9df,#f9ede5,#f9f0eb,#f8f3f0,#f7f7f7,#f3f5f6,#f2f5f6,#f0f4f6,#f0f4f6,#f0f4f6,#f2f5f6,#f5f6f7,#f7f7f7,#f7f5f4,#f8f3f0,#f8f2ef,#f8f2ef,#f8f2ef,#f8f3f0,#f8f4f2,#f7f7f7,#f2f5f6,#edf2f5,#e9f0f4,#e4eef4,#e1edf3,#deebf2,#deebf2,#e1edf3,#e9f0f4,#f8f3f0,#fcd7c2,#f2a17f)"></i>
<i style="top:474px;background:linear-gradient(90deg,#acd2e5,#e3edf3,#f9efe9,#fbe6da,#fbe4d6,#fbe5d8,#fae7dc,#f9ebe3,#f9efe9,#f8f3f0,#f7f7f7,#f2f5f6,#edf2f5,#ecf2f5,#eaf1f5,#eaf1f5,#ecf2f5,#edf2f5,#f0f4f6,#f3f5f6,#f7f7f7,#f8f4f2,#f8f2ef,#f9f0eb,#f9efe9,#f9eee7,#f9eee7,#f9efe9,#f9f0eb,#f8f3f0,#f7f7f7,#f2f5f6,#ecf2f5,#e7f0f4,#e1edf3,#deebf2,#ddebf2,#e0ecf3,#ecf2f5,#fae8de,#f8bb9e)"></i>
<i style="top:476px;background:linear-gradient(90deg,#d5e7f1,#f8f2ef,#fbe4d6,#fbe3d4,#fbe5d8,#fae8de,#f9ede5,#f8f1ed,#f7f6f6,#f3f5f6,#edf2f5,#e9f0f4,#e6eff4,#e4eef4,#e4eef4,#e6eff4,#e9f0f4,#ecf2f5,#f0f4f6,#f3f5f6,#f7f7f7,#f8f4f2,#f8f2ef,#f9efe9,#f9ede5,#faeae1,#fae9df,#fae9df,#faeae1,#f9ede5,#f9f0eb,#f8f4f2,#f6f7f7,#eff3f5,#e9f0f4,#e3edf3,#deebf2,#dbeaf2,#ddebf2,#f0f4f6,#fcdecd)"></i>
<i style="top:478px;background:linear-gradient(90deg,#f7f7f7,#fcdfcf,#fdddcb,#fbe3d4,#fae8de,#f9eee7,#f8f3f0,#f5f6f7,#eff3f5,#eaf1f5,#e6eff4,#e3edf3,#e1edf3,#e3edf3,#e3edf3,#e6eff4,#e9f0f4,#ecf2f5,#f0f4f6,#f3f5f6,#f7f7f7,#f8f4f2,#f8f2ef,#f9efe9,#f9ede5,#faeae1,#fae8de,#fae8de,#fae7dc,#fae8de,#faeae1,#f9eee7,#f8f1ed,#f7f5f4,#f2f5f6,#eaf1f5,#e3edf3,#dbeaf2,#d4e6f1,#d7e8f1,#f7f7f7)"></i>
<i style="top:480px;background:linear-gradient(90deg,#fdddcb,#fac8af,#fdd9c4,#fbe6da,#f9efe9,#f7f5f4,#f3f5f6,#edf2f5,#e9f0f4,#e4eef4,#e3edf3,#e1edf3,#e1edf3,#e3edf3,#e6eff4,#e9f0f4,#ecf2f5,#eff3f5,#f2f5f6,#f5f6f7,#f7f7f7,#f7f5f4,#f8f3f0,#f8f1ed,#f9efe9,#f9ede5,#faeae1,#fae8de,#fae7dc,#fae7dc,#fae8de,#fae9df,#f9ede5,#f9f0eb,#f8f4f2,#f5f6f7,#ecf2f5,#e0ecf3,#cfe4ef,#bbdaea,#d4e6f1)"></i>
<i style="top:482px;background:linear-gradient(90deg,#f7b596,#f7b799,#fddbc7,#f9ebe3,#f7f5f4,#f0f4f6,#eaf1f5,#e6eff4,#e4eef4,#e3edf3,#e1edf3,#e3edf3,#e4eef4,#e7f0f4,#eaf1f5,#edf2f5,#f0f4f6,#f2f5f6,#f3f5f6,#f6f7f7,#f7f7f7,#f7f6f6,#f8f4f2,#f8f3f0,#f8f2ef,#f9f0eb,#f9eee7,#f9ebe3,#fae9df,#fae8de,#fae7dc,#fae8de,#fae9df,#faeae1,#f9eee7,#f8f2ef,#f5f6f7,#e7f0f4,#d1e5f0,#a7d0e4,#a5cee3)"></i>
<i style="top:484px;background:linear-gradient(90deg,#ef9979,#f7b596,#fce2d2,#f8f3f0,#f0f4f6,#e9f0f4,#e4eef4,#e3edf3,#e3edf3,#e3edf3,#e4eef4,#e7f0f4,#eaf1f5,#edf2f5,#f0f4f6,#f3f5f6,#f5f6f7,#f7f7f7,#f7f7f7,#f7f7f7,#f7f7f7,#f7f7f7,#f7f7f7,#f7f7f7,#f7f5f4,#f8f4f2,#f8f2ef,#f9f0eb,#f9eee7,#f9ebe3,#fae9df,#fae8de,#fae8de,#fae8de,#fae9df,#f9ede5,#f8f2ef,#f2f5f6,#dae9f2,#a5cee3,#84bcd9)"></i>
<i style="top:486px;background:linear-gradient(90deg,#eb9172,#f9c2a7,#faeae1,#f2f5f6,#e9f0f4,#e4eef4,#e3edf3,#e3edf3,#e6eff4,#e7f0f4,#eaf1f5,#eff3f5,#f2f5f6,#f5f6f7,#f7f7f7,#f7f5f4,#f7f5f4,#f7f5f4,#f7f5f4,#f7f6f6,#f7f7f7,#f6f7f7,#f5f6f7,#f5f6f7,#f5f6f7,#f5f6f7,#f7f7f7,#f7f5f4,#f8f3f0,#f8f1ed,#f9eee7,#f9ebe3,#faeae1,#fae8de,#fae8de,#fae9df,#f9ede5,#f8f3f0,#e6eff4,#b3d6e8,#7bb6d6)"></i>
<i style="top:488px;background:linear-gradient(90deg,#f3a481,#fddcc9,#f7f7f7,#e9f0f4,#e3edf3,#e3edf3,#e4eef4,#e7f0f4,#eaf1f5,#eff3f5,#f2f5f6,#f7f7f7,#f7f5f4,#f8f3f0,#f8f2ef,#f8f1ed,#f8f2ef,#f8f2ef,#f8f4f2,#f7f5f4,#f7f7f7,#f5f6f7,#f3f5f6,#f0f4f6,#f0f4f6,#eff3f5,#f0f4f6,#f2f5f6,#f5f6f7,#f7f7f7,#f8f3f0,#f8f1ed,#f9eee7,#f9ebe3,#fae9df,#fae8de,#fae8de,#f9ede5,#f7f7f7,#d2e6f0,#90c4dd)"></i>
<i style="top:490px;background:linear-gradient(90deg,#f9c4a9,#f9eee7,#e9f0f4,#e1edf3,#e3edf3,#e4eef4,#e9f0f4,#edf2f5,#f2f5f6,#f6f7f7,#f7f5f4,#f8f2ef,#f9f0eb,#f9efe9,#f9efe9,#f9efe9,#f9f0eb,#f8f1ed,#f8f3f0,#f7f5f4,#f7f7f7,#f5f6f7,#f2f5f6,#eff3f5,#edf2f5,#ecf2f5,#ecf2f5,#ecf2f5,#edf2f5,#f0f4f6,#f5f6f7,#f7f6f6,#f8f3f0,#f9f0eb,#f9ede5,#fae9df,#fae8de,#fae7dc,#f9ede5,#eaf1f5,#b6d7e8)"></i>
<i style="top:492px;background:linear-gradient(90deg,#fbe6da,#e9f0f4,#ddebf2,#e0ecf3,#e4eef4,#e9f0f4,#eff3f5,#f3f5f6,#f7f5f4,#f8f3f0,#f9f0eb,#f9eee7,#f9ede5,#f9ebe3,#f9ede5,#f9eee7,#f9efe9,#f8f1ed,#f8f3f0,#f7f5f4,#f7f7f7,#f5f6f7,#f2f5f6,#eff3f5,#ecf2f5,#eaf1f5,#e9f0f4,#e7f0f4,#e9f0f4,#eaf1f5,#edf2f5,#f2f5f6,#f5f6f7,#f8f4f2,#f8f1ed,#f9ede5,#fae9df,#fbe6da,#fbe4d6,#f9ede5,#e0ecf3)"></i>
<i style="top:494px;background:linear-gradient(90deg,#eaf1f5,#d1e5f0,#d4e6f1,#e0ecf3,#e9f0f4,#f0f4f6,#f7f7f7,#f8f4f2,#f8f1ed,#f9efe9,#f9ede5,#f9ebe3,#faeae1,#f9ebe3,#f9ede5,#f9eee7,#f9f0eb,#f8f1ed,#f8f3f0,#f7f5f4,#f7f7f7,#f5f6f7,#f2f5f6,#eff3f5,#edf2f5,#eaf1f5,#e9f0f4,#e7f0f4,#e6eff4,#e7f0f4,#e9f0f4,#ecf2f5,#eff3f5,#f3f5f6,#f7f7f7,#f8f2ef,#f9ede5,#fbe6da,#fdddcb,#fddbc7,#f9eee7)"></i>
<i style="top:496px;background:linear-gradient(90deg,#c5dfec,#b6d7e8,#d2e6f0,#e6eff4,#f0f4f6,#f7f7f7,#f8f2ef,#f9f0eb,#f9eee7,#f9ebe3,#f9ebe3,#faeae1,#f9ebe3,#f9ede5,#f9eee7,#f9f0eb,#f8f1ed,#f8f3f0,#f8f4f2,#f7f5f4,#f7f7f7,#f5f6f7,#f3f5f6,#f2f5f6,#eff3f5,#edf2f5,#eaf1f5,#e9f0f4,#e7f0f4,#e6eff4,#e7f0f4,#e7f0f4,#eaf1f5,#edf2f5,#f0f4f6,#f7f7f7,#f8f2ef,#faeae1,#fddcc9,#f9c4a9,#fbd0b9)"></i>
<i style="top:498px;background:linear-gradient(90deg,#9dcbe1,#a9d1e5,#d7e8f1,#edf2f5,#f7f7f7,#f8f1ed,#f9efe9,#f9ede5,#f9ebe3,#f9ebe3,#f9ebe3,#f9ede5,#f9eee7,#f9efe9,#f8f1ed,#f8f3f0,#f8f4f2,#f7f5f4,#f7f6f6,#f7f7f7,#f7f7f7,#f7f7f7,#f6f7f7,#f5f6f7,#f3f5f6,#f2f5f6,#eff3f5,#ecf2f5,#eaf1f5,#e9f0f4,#e7f0f4,#e7f0f4,#e7f0f4,#e9f0f4,#ecf2f5,#eff3f5,#f7f7f7,#f9f0eb,#fcdfcf,#f7b99c,#f6af8e)"></i>
<i style="top:500px;background:linear-gradient(90deg,#84bcd9,#aed3e6,#e0ecf3,#f5f6f7,#f8f1ed,#f9eee7,#f9ede5,#f9ebe3,#f9ebe3,#f9ede5,#f9eee7,#f9f0eb,#f8f1ed,#f8f3f0,#f8f4f2,#f7f6f6,#f7f7f7,#f7f7f7,#f7f7f7,#f7f7f7,#f7f7f7,#f7f7f7,#f7f7f7,#f7f7f7,#f7f7f7,#f6f7f7,#f3f5f6,#f2f5f6,#eff3f5,#edf2f5,#eaf1f5,#e9f0f4,#e7f0f4,#e7f0f4,#e9f0f4,#eaf1f5,#eff3f5,#f7f5f4,#fbe6da,#f8bda1,#ef9979)"></i>
<i style="top:502px;background:linear-gradient(90deg,#8ac0db,#c2ddec,#ecf2f5,#f8f2ef,#f9eee7,#f9ebe3,#f9ebe3,#f9ede5,#f9eee7,#f9f0eb,#f8f2ef,#f8f4f2,#f7f5f4,#f7f7f7,#f5f6f7,#f3f5f6,#f3f5f6,#f3f5f6,#f5f6f7,#f6f7f7,#f7f7f7,#f7f6f6,#f7f5f4,#f8f4f2,#f8f4f2,#f8f4f2,#f7f5f4,#f7f7f7,#f5f6f7,#f3f5f6,#f0f4f6,#edf2f5,#eaf1f5,#e9f0f4,#e7f0f4,#e7f0f4,#eaf1f5,#f0f4f6,#f9efe9,#fbceb7,#f19e7d)"></i>
<i style="top:504px;background:linear-gradient(90deg,#a5cee3,#ddebf2,#f8f4f2,#f9ede5,#f9ebe3,#f9ebe3,#f9ede5,#f9efe9,#f8f1ed,#f8f3f0,#f7f6f6,#f5f6f7,#f3f5f6,#f2f5f6,#f0f4f6,#f0f4f6,#f0f4f6,#f2f5f6,#f3f5f6,#f5f6f7,#f7f7f7,#f7f5f4,#f8f4f2,#f8f3f0,#f8f2ef,#f8f2ef,#f8f2ef,#f8f3f0,#f8f4f2,#f7f5f4,#f6f7f7,#f2f5f6,#eff3f5,#ecf2f5,#e9f0f4,#e7f0f4,#e7f0f4,#e9f0f4,#f3f5f6,#fbe4d6,#f7b596)"></i>
<i style="top:506px;background:linear-gradient(90deg,#cfe4ef,#f5f6f7,#f9ebe3,#faeae1,#f9ebe3,#f9eee7,#f9f0eb,#f8f3f0,#f7f5f4,#f6f7f7,#f3f5f6,#f0f4f6,#eff3f5,#edf2f5,#edf2f5,#edf2f5,#eff3f5,#f0f4f6,#f3f5f6,#f5f6f7,#f7f7f7,#f7f5f4,#f8f4f2,#f8f2ef,#f8f1ed,#f9f0eb,#f9f0eb,#f9f0eb,#f8f1ed,#f8f2ef,#f8f4f2,#f7f6f6,#f5f6f7,#f2f5f6,#edf2f5,#eaf1f5,#e7f0f4,#e6eff4,#e7f0f4,#f7f5f4,#fdd9c4)"></i>
<i style="top:508px;background:linear-gradient(90deg,#eff3f5,#fae8de,#fbe4d6,#fae9df,#f9eee7,#f8f1ed,#f8f4f2,#f7f7f7,#f3f5f6,#f0f4f6,#eff3f5,#ecf2f5,#ecf2f5,#ecf2f5,#ecf2f5,#edf2f5,#eff3f5,#f0f4f6,#f3f5f6,#f5f6f7,#f7f7f7,#f7f5f4,#f8f4f2,#f8f2ef,#f8f1ed,#f9f0eb,#f9efe9,#f9efe9,#f9efe9,#f9efe9,#f8f1ed,#f8f2ef,#f8f4f2,#f7f7f7,#f3f5f6,#eff3f5,#eaf1f5,#e4eef4,#ddebf2,#e3edf3,#f8f1ed)"></i>
<i style="top:510px;background:linear-gradient(90deg,#fae7dc,#fdd9c4,#fce0d0,#faeae1,#f8f1ed,#f8f4f2,#f6f7f7,#f2f5f6,#eff3f5,#edf2f5,#ecf2f5,#eaf1f5,#eaf1f5,#ecf2f5,#edf2f5,#eff3f5,#f0f4f6,#f2f5f6,#f3f5f6,#f5f6f7,#f7f7f7,#f7f5f4,#f8f4f2,#f8f3f0,#f8f2ef,#f8f1ed,#f9f0eb,#f9efe9,#f9eee7,#f9eee7,#f9efe9,#f9f0eb,#f8f1ed,#f8f3f0,#f7f6f6,#f3f5f6,#eff3f5,#e6eff4,#d8e9f1,#cfe4ef,#e1edf3)"></i>
<i style="top:512px;background:linear-gradient(90deg,#fbccb4,#facab1,#fce0d0,#f9eee7,#f7f5f4,#f5f6f7,#f0f4f6,#eff3f5,#ecf2f5,#ecf2f5,#eaf1f5,#ecf2f5,#ecf2f5,#edf2f5,#eff3f5,#f0f4f6,#f2f5f6,#f3f5f6,#f5f6f7,#f7f7f7,#f7f7f7,#f7f7f7,#f7f5f4,#f8f4f2,#f8f3f0,#f8f2ef,#f8f1ed,#f9f0eb,#f9efe9,#f9efe9,#f9eee7,#f9efe9,#f9efe9,#f8f1ed,#f8f2ef,#f7f5f4,#f5f6f7,#eaf1f5,#d8e9f1,#bddbea,#c0dceb)"></i>
<i style="top:514px;background:linear-gradient(90deg,#f7b596,#f9c6ac,#fbe5d8,#f8f3f0,#f5f6f7,#f0f4f6,#edf2f5,#ecf2f5,#ecf2f5,#ecf2f5,#ecf2f5,#edf2f5,#eff3f5,#f0f4f6,#f2f5f6,#f3f5f6,#f5f6f7,#f7f7f7,#f7f7f7,#f7f7f7,#f7f7f7,#f7f7f7,#f7f7f7,#f7f7f7,#f7f5f4,#f8f4f2,#f8f3f0,#f8f2ef,#f8f1ed,#f9f0eb,#f9efe9,#f9efe9,#f9efe9,#f9efe9,#f9f0eb,#f8f2ef,#f7f5f4,#f2f5f6,#deebf2,#b8d8e9,#a5cee3)"></i>
<i style="top:516px;background:linear-gradient(90deg,#f6af8e,#fbd0b9,#f9ebe3,#f7f7f7,#eff3f5,#edf2f5,#ecf2f5,#ecf2f5,#edf2f5,#edf2f5,#eff3f5,#f2f5f6,#f3f5f6,#f5f6f7,#f7f7f7,#f7f7f7,#f7f7f7,#f7f7f7,#f7f7f7,#f7f7f7,#f7f7f7,#f7f7f7,#f7f7f7,#f7f7f7,#f7f7f7,#f7f7f7,#f7f7f7,#f7f5f4,#f8f4f2,#f8f3f0,#f8f1ed,#f9f0eb,#f9f0eb,#f9efe9,#f9efe9,#f9f0eb,#f8f1ed,#f7f7f7,#e7f0f4,#c5dfec,#9dcbe1)"></i>
<i style="top:518px;background:linear-gradient(90deg,#f7b99c,#fcdfcf,#f8f3f0,#f0f4f6,#ecf2f5,#ecf2f5,#ecf2f5,#edf2f5,#eff3f5,#f2f5f6,#f3f5f6,#f5f6f7,#f7f7f7,#f7f5f4,#f7f5f4,#f8f4f2,#f8f4f2,#f7f5f4,#f7f5f4,#f7f7f7,#f7f7f7,#f7f7f7,#f5f6f7,#f5f6f7,#f3f5f6,#f3f5f6,#f5f6f7,#f5f6f7,#f7f7f7,#f7f5f4,#f8f4f2,#f8f3f0,#f8f1ed,#f9f0eb,#f9efe9,#f9efe9,#f9efe9,#f8f2ef,#f2f5f6,#d7e8f1,#a9d1e5)"></i>
<i style="top:520px;background:linear-gradient(90deg,#fbd0b9,#f9ede5,#f0f4f6,#ecf2f5,#eaf1f5,#ecf2f5,#eff3f5,#f0f4f6,#f3f5f6,#f5f6f7,#f7f7f7,#f7f5f4,#f8f4f2,#f8f3f0,#f8f3f0,#f8f3f0,#f8f3f0,#f8f4f2,#f7f5f4,#f7f6f6,#f7f7f7,#f6f7f7,#f5f6f7,#f3f5f6,#f2f5f6,#f2f5f6,#f2f5f6,#f2f5f6,#f3f5f6,#f5f6f7,#f7f7f7,#f7f5f4,#f8f4f2,#f8f2ef,#f8f1ed,#f9efe9,#f9eee7,#f9efe9,#f8f2ef,#e9f0f4,#c5dfec)"></i>
<i style="top:522px;background:linear-gradient(90deg,#fbe6da,#f2f5f6,#e7f0f4,#e9f0f4,#ecf2f5,#eff3f5,#f2f5f6,#f5f6f7,#f7f7f7,#f7f5f4,#f8f4f2,#f8f2ef,#f8f2ef,#f8f1ed,#f8f1ed,#f8f2ef,#f8f3f0,#f8f4f2,#f8f4f2,#f7f5f4,#f7f7f7,#f5f6f7,#f3f5f6,#f3f5f6,#f2f5f6,#f0f4f6,#eff3f5,#eff3f5,#f0f4f6,#f0f4f6,#f3f5f6,#f5f6f7,#f7f7f7,#f7f5f4,#f8f3f0,#f8f1ed,#f9efe9,#f9ede5,#f9ebe3,#f8f3f0,#e0ecf3)"></i>
<i style="top:524px;background:linear-gradient(90deg,#f5f6f7,#e1edf3,#e1edf3,#e9f0f4,#eff3f5,#f2f5f6,#f6f7f7,#f7f6f6,#f8f4f2,#f8f3f0,#f8f2ef,#f8f1ed,#f8f1ed,#f8f1ed,#f8f1ed,#f8f2ef,#f8f3f0,#f8f4f2,#f7f5f4,#f7f6f6,#f7f7f7,#f6f7f7,#f5f6f7,#f3f5f6,#f2f5f6,#f0f4f6,#eff3f5,#eff3f5,#eff3f5,#eff3f5,#f0f4f6,#f2f5f6,#f3f5f6,#f6f7f7,#f7f6f6,#f8f3f0,#f8f1ed,#f9ede5,#fae7dc,#fae7dc,#f7f5f4)"></i>
<i style="top:526px;background:linear-gradient(90deg,#deebf2,#d5e7f1,#e0ecf3,#ecf2f5,#f2f5f6,#f7f7f7,#f7f5f4,#f8f3f0,#f8f2ef,#f8f1ed,#f8f1ed,#f8f1ed,#f8f1ed,#f8f1ed,#f8f2ef,#f8f3f0,#f8f4f2,#f8f4f2,#f7f5f4,#f7f7f7,#f7f7f7,#f7f7f7,#f5f6f7,#f3f5f6,#f3f5f6,#f2f5f6,#f0f4f6,#eff3f5,#eff3f5,#eff3f5,#eff3f5,#eff3f5,#f0f4f6,#f2f5f6,#f5f6f7,#f7f7f7,#f8f3f0,#f9efe9,#fbe6da,#fcdecd,#fbe5d8)"></i>
<i style="top:528px;background:linear-gradient(90deg,#cce2ef,#cfe4ef,#e1edf3,#f0f4f6,#f7f7f7,#f8f4f2,#f8f3f0,#f8f2ef,#f8f1ed,#f8f1ed,#f8f1ed,#f8f1ed,#f8f2ef,#f8f2ef,#f8f3f0,#f8f4f2,#f7f5f4,#f7f5f4,#f7f7f7,#f7f7f7,#f7f7f7,#f7f7f7,#f7f7f7,#f5f6f7,#f5f6f7,#f3f5f6,#f2f5f6,#f0f4f6,#f0f4f6,#eff3f5,#eff3f5,#eff3f5,#eff3f5,#f0f4f6,#f2f5f6,#f3f5f6,#f7f7f7,#f8f2ef,#fae7dc,#fdd9c4,#fcd7c2)"></i>
<i style="top:530px;background:linear-gradient(90deg,#bddbea,#d1e5f0,#e7f0f4,#f5f6f7,#f8f4f2,#f8f2ef,#f8f1ed,#f8f1ed,#f8f1ed,#f8f1ed,#f8f2ef,#f8f3f0,#f8f3f0,#f8f4f2,#f7f5f4,#f7f6f6,#f7f7f7,#f7f7f7,#f7f7f7,#f7f7f7,#f7f7f7,#f7f7f7,#f7f7f7,#f7f7f7,#f7f7f7,#f6f7f7,#f5f6f7,#f3f5f6,#f2f5f6,#f2f5f6,#f0f4f6,#eff3f5,#eff3f5,#eff3f5,#eff3f5,#f0f4f6,#f3f5f6,#f7f5f4,#f9ebe3,#fddbc7,#facab1)"></i>
<i style="top:532px;background:linear-gradient(90deg,#c0dceb,#d8e9f1,#eff3f5,#f7f5f4,#f8f2ef,#f8f1ed,#f8f1ed,#f8f1ed,#f8f2ef,#f8f3f0,#f8f4f2,#f8f4f2,#f7f5f4,#f7f7f7,#f7f7f7,#f7f7f7,#f6f7f7,#f6f7f7,#f7f7f7,#f7f7f7,#f7f7f7,#f7f7f7,#f7f7f7,#f7f6f6,#f7f6f6,#f7f7f7,#f7f7f7,#f7f7f7,#f5f6f7,#f3f5f6,#f3f5f6,#f2f5f6,#f0f4f6,#eff3f5,#eff3f5,#eff3f5,#f0f4f6,#f5f6f7,#f8f1ed,#fce0d0,#fbccb4)"></i>
<i style="top:534px;background:linear-gradient(90deg,#cce2ef,#e4eef4,#f7f7f7,#f8f2ef,#f8f1ed,#f8f1ed,#f8f2ef,#f8f2ef,#f8f3f0,#f7f5f4,#f7f6f6,#f7f7f7,#f6f7f7,#f5f6f7,#f5f6f7,#f3f5f6,#f5f6f7,#f5f6f7,#f5f6f7,#f7f7f7,#f7f7f7,#f7f7f7,#f7f5f4,#f7f5f4,#f7f5f4,#f8f4f2,#f7f5f4,#f7f5f4,#f7f6f6,#f7f7f7,#f6f7f7,#f5f6f7,#f2f5f6,#f0f4f6,#f0f4f6,#eff3f5,#eff3f5,#f0f4f6,#f7f7f7,#fae9df,#fcd7c2)"></i>
<i style="top:536px;background:linear-gradient(90deg,#ddebf2,#f2f5f6,#f8f2ef,#f9f0eb,#f8f1ed,#f8f2ef,#f8f3f0,#f8f4f2,#f7f5f4,#f7f7f7,#f5f6f7,#f5f6f7,#f3f5f6,#f2f5f6,#f2f5f6,#f3f5f6,#f3f5f6,#f3f5f6,#f5f6f7,#f7f7f7,#f7f7f7,#f7f7f7,#f7f5f4,#f8f4f2,#f8f4f2,#f8f4f2,#f8f3f0,#f8f3f0,#f8f4f2,#f7f5f4,#f7f5f4,#f7f7f7,#f5f6f7,#f3f5f6,#f2f5f6,#f0f4f6,#eff3f5,#edf2f5,#f0f4f6,#f8f3f0,#fbe4d6)"></i>
<i style="top:538px;background:linear-gradient(90deg,#eff3f5,#f8f1ed,#f9eee7,#f9f0eb,#f8f2ef,#f8f3f0,#f7f5f4,#f7f7f7,#f7f7f7,#f5f6f7,#f3f5f6,#f2f5f6,#f2f5f6,#f2f5f6,#f2f5f6,#f2f5f6,#f3f5f6,#f3f5f6,#f5f6f7,#f7f7f7,#f7f7f7,#f7f7f7,#f7f5f4,#f8f4f2,#f8f4f2,#f8f3f0,#f8f3f0,#f8f3f0,#f8f3f0,#f8f3f0,#f8f4f2,#f7f5f4,#f7f7f7,#f7f7f7,#f5f6f7,#f2f5f6,#f0f4f6,#edf2f5,#eaf1f5,#eff3f5,#f8f1ed)"></i>
<i style="top:540px;background:linear-gradient(90deg,#f8f1ed,#fae9df,#f9ebe3,#f9f0eb,#f8f3f0,#f7f5f4,#f7f7f7,#f5f6f7,#f3f5f6,#f2f5f6,#f2f5f6,#f0f4f6,#f0f4f6,#f2f5f6,#f2f5f6,#f3f5f6,#f3f5f6,#f5f6f7,#f5f6f7,#f7f7f7,#f7f7f7,#f7f7f7,#f7f5f4,#f7f5f4,#f8f4f2,#f8f4f2,#f8f3f0,#f8f3f0,#f8f2ef,#f8f2ef,#f8f3f0,#f8f3f0,#f8f4f2,#f7f5f4,#f7f7f7,#f5f6f7,#f2f5f6,#edf2f5,#e7f0f4,#e4eef4,#eff3f5)"></i>
<i style="top:542px;background:linear-gradient(90deg,#fae7dc,#fbe5d8,#f9ebe3,#f8f2ef,#f7f5f4,#f7f7f7,#f5f6f7,#f3f5f6,#f2f5f6,#f2f5f6,#f0f4f6,#f0f4f6,#f2f5f6,#f2f5f6,#f3f5f6,#f3f5f6,#f5f6f7,#f5f6f7,#f7f7f7,#f7f7f7,#f7f7f7,#f7f7f7,#f7f7f7,#f7f5f4,#f7f5f4,#f8f4f2,#f8f4f2,#f8f3f0,#f8f3f0,#f8f2ef,#f8f2ef,#f8f3f0,#f8f3f0,#f8f4f2,#f7f5f4,#f7f7f7,#f5f6f7,#f0f4f6,#e7f0f4,#deebf2,#e1edf3)"></i>
<i style="top:544px;background:linear-gradient(90deg,#fce0d0,#fbe4d6,#f9eee7,#f8f4f2,#f7f7f7,#f3f5f6,#f2f5f6,#f2f5f6,#f2f5f6,#f2f5f6,#f2f5f6,#f2f5f6,#f3f5f6,#f3f5f6,#f5f6f7,#f5f6f7,#f6f7f7,#f7f7f7,#f7f7f7,#f7f7f7,#f7f7f7,#f7f7f7,#f7f7f7,#f7f7f7,#f7f6f6,#f7f5f4,#f7f5f4,#f8f4f2,#f8f4f2,#f8f3f0,#f8f3f0,#f8f3f0,#f8f3f0,#f8f3f0,#f8f3f0,#f8f4f2,#f7f7f7,#f3f5f6,#eaf1f5,#ddebf2,#d8e9f1)"></i>
<i style="top:546px;background:linear-gradient(90deg,#fcdfcf,#fbe6da,#f8f1ed,#f7f7f7,#f3f5f6,#f2f5f6,#f2f5f6,#f2f5f6,#f2f5f6,#f2f5f6,#f3f5f6,#f3f5f6,#f5f6f7,#f5f6f7,#f7f7f7,#f7f7f7,#f7f7f7,#f7f7f7,#f7f7f7,#f7f7f7,#f7f7f7,#f7f7f7,#f7f7f7,#f7f7f7,#f7f7f7,#f7f7f7,#f7f7f7,#f7f5f4,#f7f5f4,#f8f4f2,#f8f4f2,#f8f3f0,#f8f3f0,#f8f3f0,#f8f3f0,#f8f3f0,#f8f4f2,#f7f7f7,#eff3f5,#e0ecf3,#d7e8f1)"></i>
<i style="top:548px;background:linear-gradient(90deg,#fce2d2,#f9ebe3,#f8f4f2,#f3f5f6,#f2f5f6,#f2f5f6,#f2f5f6,#f2f5f6,#f3f5f6,#f3f5f6,#f5f6f7,#f6f7f7,#f7f7f7,#f7f7f7,#f7f7f7,#f7f6f6,#f7f6f6,#f7f6f6,#f7f7f7,#f7f7f7,#f7f7f7,#f7f7f7,#f7f7f7,#f6f7f7,#f6f7f7,#f6f7f7,#f7f7f7,#f7f7f7,#f7f7f7,#f7f6f6,#f7f5f4,#f8f4f2,#f8f4f2,#f8f3f0,#f8f3f0,#f8f3f0,#f8f3f0,#f8f4f2,#f3f5f6,#e7f0f4,#dae9f2)"></i>
<i style="top:550px;background:linear-gradient(90deg,#fae7dc,#f8f1ed,#f5f6f7,#f2f5f6,#f2f5f6,#f2f5f6,#f2f5f6,#f3f5f6,#f5f6f7,#f6f7f7,#f7f7f7,#f7f7f7,#f7f5f4,#f7f5f4,#f7f5f4,#f7f5f4,#f7f5f4,#f7f5f4,#f7f6f6,#f7f7f7,#f7f7f7,#f7f7f7,#f6f7f7,#f5f6f7,#f5f6f7,#f5f6f7,#f5f6f7,#f5f6f7,#f5f6f7,#f7f7f7,#f7f7f7,#f7f6f6,#f7f5f4,#f8f4f2,#f8f3f0,#f8f3f0,#f8f3f0,#f8f3f0,#f7f5f4,#eff3f5,#e1edf3)"></i>
<i style="top:552px;background:linear-gradient(90deg,#f9efe9,#f7f7f7,#f0f4f6,#f0f4f6,#f2f5f6,#f3f5f6,#f3f5f6,#f5f6f7,#f7f7f7,#f7f7f7,#f7f5f4,#f7f5f4,#f8f4f2,#f8f4f2,#f8f4f2,#f8f4f2,#f7f5f4,#f7f5f4,#f7f6f6,#f7f7f7,#f7f7f7,#f7f7f7,#f6f7f7,#f5f6f7,#f5f6f7,#f3f5f6,#f3f5f6,#f3f5f6,#f3f5f6,#f5f6f7,#f5f6f7,#f7f7f7,#f7f7f7,#f7f5f4,#f8f4f2,#f8f4f2,#f8f3f0,#f8f2ef,#f8f2ef,#f7f7f7,#ecf2f5)"></i>
<i style="top:554px;background:linear-gradient(90deg,#f7f7f7,#eff3f5,#edf2f5,#f0f4f6,#f3f5f6,#f5f6f7,#f6f7f7,#f7f7f7,#f7f6f6,#f7f5f4,#f8f4f2,#f8f4f2,#f8f4f2,#f8f4f2,#f8f4f2,#f8f4f2,#f7f5f4,#f7f5f4,#f7f6f6,#f7f7f7,#f7f7f7,#f7f7f7,#f6f7f7,#f5f6f7,#f5f6f7,#f3f5f6,#f3f5f6,#f3f5f6,#f3f5f6,#f3f5f6,#f3f5f6,#f5f6f7,#f6f7f7,#f7f7f7,#f7f6f6,#f7f5f4,#f8f4f2,#f8f2ef,#f9f0eb,#f8f1ed,#f7f7f7)"></i>
<i style="top:556px;background:linear-gradient(90deg,#eff3f5,#eaf1f5,#edf2f5,#f2f5f6,#f5f6f7,#f7f7f7,#f7f7f7,#f7f5f4,#f7f5f4,#f8f4f2,#f8f4f2,#f8f4f2,#f8f4f2,#f8f4f2,#f8f4f2,#f7f5f4,#f7f5f4,#f7f5f4,#f7f7f7,#f7f7f7,#f7f7f7,#f7f7f7,#f7f7f7,#f5f6f7,#f5f6f7,#f5f6f7,#f3f5f6,#f3f5f6,#f3f5f6,#f3f5f6,#f3f5f6,#f3f5f6,#f5f6f7,#f5f6f7,#f7f7f7,#f7f7f7,#f7f5f4,#f8f3f0,#f9f0eb,#f9eee7,#f8f1ed)"></i>
<i style="top:558px;background:linear-gradient(90deg,#e7f0f4,#e7f0f4,#eff3f5,#f3f5f6,#f7f7f7,#f7f6f6,#f7f5f4,#f8f4f2,#f8f4f2,#f8f4f2,#f8f4f2,#f8f4f2,#f8f4f2,#f8f4f2,#f7f5f4,#f7f5f4,#f7f6f6,#f7f7f7,#f7f7f7,#f7f7f7,#f7f7f7,#f7f7f7,#f7f7f7,#f7f7f7,#f6f7f7,#f5f6f7,#f5f6f7,#f3f5f6,#f3f5f6,#f3f5f6,#f3f5f6,#f3f5f6,#f3f5f6,#f3f5f6,#f5f6f7,#f6f7f7,#f7f7f7,#f8f4f2,#f8f1ed,#f9ebe3,#f9ebe3)"></i>
<i style="top:560px;background:linear-gradient(90deg,#e4eef4,#e9f0f4,#f0f4f6,#f6f7f7,#f7f6f6,#f7f5f4,#f8f4f2,#f8f4f2,#f8f4f2,#f8f4f2,#f8f4f2,#f8f4f2,#f7f5f4,#f7f5f4,#f7f6f6,#f7f7f7,#f7f7f7,#f7f7f7,#f7f7f7,#f7f7f7,#f7f7f7,#f7f7f7,#f7f7f7,#f7f7f7,#f7f7f7,#f7f7f7,#f6f7f7,#f5f6f7,#f5f6f7,#f3f5f6,#f3f5f6,#f3f5f6,#f3f5f6,#f3f5f6,#f3f5f6,#f5f6f7,#f6f7f7,#f7f6f6,#f8f2ef,#f9ede5,#fae9df)"></i>
<i style="top:562px;background:linear-gradient(90deg,#e6eff4,#ecf2f5,#f3f5f6,#f7f7f7,#f7f5f4,#f8f4f2,#f8f4f2,#f8f4f2,#f8f4f2,#f7f5f4,#f7f5f4,#f7f5f4,#f7f7f7,#f7f7f7,#f7f7f7,#f7f7f7,#f7f7f7,#f7f7f7,#f7f7f7,#f7f7f7,#f7f7f7,#f7f7f7,#f7f7f7,#f7f7f7,#f7f7f7,#f7f7f7,#f7f7f7,#f7f7f7,#f7f7f7,#f5f6f7,#f5f6f7,#f5f6f7,#f3f5f6,#f3f5f6,#f3f5f6,#f3f5f6,#f5f6f7,#f7f7f7,#f8f4f2,#f9efe9,#faeae1)"></i>
<i style="top:564px;background:linear-gradient(90deg,#e9f0f4,#f0f4f6,#f7f7f7,#f7f5f4,#f8f4f2,#f8f4f2,#f8f4f2,#f8f4f2,#f7f5f4,#f7f5f4,#f7f7f7,#f7f7f7,#f7f7f7,#f7f7f7,#f7f7f7,#f6f7f7,#f6f7f7,#f7f7f7,#f7f7f7,#f7f7f7,#f7f7f7,#f7f7f7,#f7f7f7,#f7f7f7,#f7f6f6,#f7f6f6,#f7f7f7,#f7f7f7,#f7f7f7,#f7f7f7,#f7f7f7,#f5f6f7,#f5f6f7,#f3f5f6,#f3f5f6,#f3f5f6,#f3f5f6,#f5f6f7,#f7f7f7,#f8f2ef,#f9ede5)"></i>
<i style="top:566px;background:linear-gradient(90deg,#edf2f5,#f5f6f7,#f7f5f4,#f8f4f2,#f8f4f2,#f8f4f2,#f7f5f4,#f7f5f4,#f7f7f7,#f7f7f7,#f7f7f7,#f7f7f7,#f5f6f7,#f5f6f7,#f5f6f7,#f5f6f7,#f5f6f7,#f6f7f7,#f7f7f7,#f7f7f7,#f7f7f7,#f7f7f7,#f7f7f7,#f7f6f6,#f7f5f4,#f7f5f4,#f7f5f4,#f7f5f4,#f7f5f4,#f7f7f7,#f7f7f7,#f7f7f7,#f7f7f7,#f5f6f7,#f5f6f7,#f3f5f6,#f3f5f6,#f3f5f6,#f5f6f7,#f7f5f4,#f9f0eb)"></i>
<i style="top:568px;background:linear-gradient(90deg,#f3f5f6,#f7f5f4,#f8f3f0,#f8f4f2,#f8f4f2,#f7f5f4,#f7f5f4,#f7f7f7,#f7f7f7,#f7f7f7,#f5f6f7,#f5f6f7,#f5f6f7,#f5f6f7,#f5f6f7,#f5f6f7,#f5f6f7,#f6f7f7,#f7f7f7,#f7f7f7,#f7f7f7,#f7f7f7,#f7f7f7,#f7f6f6,#f7f5f4,#f7f5f4,#f7f5f4,#f7f5f4,#f7f5f4,#f7f5f4,#f7f5f4,#f7f7f7,#f7f7f7,#f7f7f7,#f5f6f7,#f5f6f7,#f3f5f6,#f3f5f6,#f2f5f6,#f5f6f7,#f8f4f2)"></i>
<i style="top:570px;background:linear-gradient(90deg,#f7f5f4,#f8f3f0,#f8f3f0,#f8f4f2,#f7f5f4,#f7f6f6,#f7f7f7,#f7f7f7,#f6f7f7,#f5f6f7,#f5f6f7,#f5f6f7,#f5f6f7,#f5f6f7,#f5f6f7,#f5f6f7,#f5f6f7,#f6f7f7,#f7f7f7,#f7f7f7,#f7f7f7,#f7f7f7,#f7f7f7,#f7f6f6,#f7f5f4,#f7f5f4,#f7f5f4,#f7f5f4,#f7f5f4,#f7f5f4,#f7f5f4,#f7f5f4,#f7f6f6,#f7f7f7,#f7f7f7,#f6f7f7,#f5f6f7,#f3f5f6,#f2f5f6,#f2f5f6,#f5f6f7)"></i>
<i style="top:572px;background:linear-gradient(90deg,#f8f2ef,#f8f1ed,#f8f3f0,#f7f5f4,#f7f6f6,#f7f7f7,#f7f7f7,#f5f6f7,#f5f6f7,#f5f6f7,#f5f6f7,#f5f6f7,#f5f6f7,#f5f6f7,#f5f6f7,#f5f6f7,#f6f7f7,#f7f7f7,#f7f7f7,#f7f7f7,#f7f7f7,#f7f7f7,#f7f7f7,#f7f7f7,#f7f6f6,#f7f5f4,#f7f5f4,#f7f5f4,#f7f5f4,#f7f5f4,#f7f5f4,#f7f5f4,#f7f5f4,#f7f5f4,#f7f7f7,#f7f7f7,#f6f7f7,#f5f6f7,#f2f5f6,#eff3f5,#f0f4f6)"></i>
<i style="top:574px;background:linear-gradient(90deg,#f8f1ed,#f8f1ed,#f8f4f2,#f7f5f4,#f7f7f7,#f6f7f7,#f5f6f7,#f5f6f7,#f5f6f7,#f5f6f7,#f5f6f7,#f5f6f7,#f5f6f7,#f5f6f7,#f6f7f7,#f7f7f7,#f7f7f7,#f7f7f7,#f7f7f7,#f7f7f7,#f7f7f7,#f7f7f7,#f7f7f7,#f7f7f7,#f7f7f7,#f7f7f7,#f7f6f6,#f7f5f4,#f7f5f4,#f7f5f4,#f7f5f4,#f7f5f4,#f7f5f4,#f7f5f4,#f7f5f4,#f7f6f6,#f7f7f7,#f5f6f7,#f3f5f6,#eff3f5,#eff3f5)"></i>
<i style="top:576px;background:linear-gradient(90deg,#f9f0eb,#f8f2ef,#f7f5f4,#f7f7f7,#f6f7f7,#f5f6f7,#f5f6f7,#f5f6f7,#f5f6f7,#f5f6f7,#f5f6f7,#f5f6f7,#f6f7f7,#f7f7f7,#f7f7f7,#f7f7f7,#f7f7f7,#f7f7f7,#f7f7f7,#f7f7f7,#f7f7f7,#f7f7f7,#f7f7f7,#f7f7f7,#f7f7f7,#f7f7f7,#f7f7f7,#f7f7f7,#f7f6f6,#f7f5f4,#f7f5f4,#f7f5f4,#f7f5f4,#f7f5f4,#f7f5f4,#f7f5f4,#f7f6f6,#f7f7f7,#f5f6f7,#f0f4f6,#edf2f5)"></i>
<i style="top:578px;background:linear-gradient(90deg,#f8f1ed,#f8f3f0,#f7f7f7,#f6f7f7,#f5f6f7,#f5f6f7,#f5f6f7,#f5f6f7,#f5f6f7,#f5f6f7,#f6f7f7,#f7f7f7,#f7f7f7,#f7f7f7,#f7f7f7,#f7f7f7,#f7f7f7,#f7f7f7,#f7f7f7,#f7f7f7,#f7f7f7,#f7f7f7,#f7f7f7,#f7f7f7,#f7f7f7,#f7f7f7,#f7f7f7,#f7f7f7,#f7f7f7,#f7f7f7,#f7f6f6,#f7f5f4,#f7f5f4,#f7f5f4,#f7f5f4,#f7f5f4,#f7f5f4,#f7f6f6,#f7f7f7,#f2f5f6,#eff3f5)"></i>
<i style="top:580px;background:linear-gradient(90deg,#f8f2ef,#f7f5f4,#f7f7f7,#f5f6f7,#f5f6f7,#f5f6f7,#f5f6f7,#f5f6f7,#f6f7f7,#f7f7f7,#f7f7f7,#f7f7f7,#f7f7f7,#f7f7f7,#f7f7f7,#f7f7f7,#f7f7f7,#f7f7f7,#f7f7f7,#f7f7f7,#f7f7f7,#f7f7f7,#f7f7f7,#f7f7f7,#f7f7f7,#f7f7f7,#f7f7f7,#f7f7f7,#f7f7f7,#f7f7f7,#f7f7f7,#f7f7f7,#f7f6f6,#f7f5f4,#f7f5f4,#f7f5f4,#f7f5f4,#f7f5f4,#f7f7f7,#f5f6f7,#f0f4f6)"></i>
<i style="top:582px;background:linear-gradient(90deg,#f8f4f2,#f7f7f7,#f5f6f7,#f5f6f7,#f5f6f7,#f5f6f7,#f5f6f7,#f7f7f7,#f7f7f7,#f7f7f7,#f7f7f7,#f7f7f7,#f7f6f6,#f7f5f4,#f7f5f4,#f7f6f6,#f7f6f6,#f7f7f7,#f7f7f7,#f7f7f7,#f7f7f7,#f7f7f7,#f7f7f7,#f7f7f7,#f6f7f7,#f6f7f7,#f5f6f7,#f5f6f7,#f6f7f7,#f7f7f7,#f7f7f7,#f7f7f7,#f7f7f7,#f7f7f7,#f7f5f4,#f7f5f4,#f7f5f4,#f7f5f4,#f7f5f4,#f7f7f7,#f3f5f6)"></i>
<i style="top:584px;background:linear-gradient(90deg,#f7f7f7,#f5f6f7,#f5f6f7,#f5f6f7,#f5f6f7,#f6f7f7,#f7f7f7,#f7f7f7,#f7f7f7,#f7f7f7,#f7f6f6,#f7f5f4,#f7f5f4,#f7f5f4,#f7f5f4,#f7f5f4,#f7f6f6,#f7f7f7,#f7f7f7,#f7f7f7,#f7f7f7,#f7f7f7,#f7f7f7,#f7f7f7,#f6f7f7,#f5f6f7,#f5f6f7,#f5f6f7,#f5f6f7,#f5f6f7,#f6f7f7,#f7f7f7,#f7f7f7,#f7f7f7,#f7f7f7,#f7f6f6,#f7f5f4,#f7f5f4,#f7f5f4,#f7f5f4,#f7f7f7)"></i>
<i style="top:586px;background:linear-gradient(90deg,#f5f6f7,#f3f5f6,#f3f5f6,#f5f6f7,#f6f7f7,#f7f7f7,#f7f7f7,#f7f7f7,#f7f6f6,#f7f5f4,#f7f5f4,#f7f5f4,#f7f5f4,#f7f5f4,#f7f5f4,#f7f6f6,#f7f7f7,#f7f7f7,#f7f7f7,#f7f7f7,#f7f7f7,#f7f7f7,#f7f7f7,#f7f7f7,#f7f7f7,#f6f7f7,#f5f6f7,#f5f6f7,#f5f6f7,#f5f6f7,#f5f6f7,#f5f6f7,#f6f7f7,#f7f7f7,#f7f7f7,#f7f7f7,#f7f6f6,#f7f5f4,#f8f4f2,#f8f4f2,#f7f5f4)"></i>
<i style="top:588px;background:linear-gradient(90deg,#f3f5f6,#f3f5f6,#f5f6f7,#f6f7f7,#f7f7f7,#f7f7f7,#f7f7f7,#f7f6f6,#f7f5f4,#f7f5f4,#f7f5f4,#f7f5f4,#f7f5f4,#f7f5f4,#f7f6f6,#f7f7f7,#f7f7f7,#f7f7f7,#f7f7f7,#f7f7f7,#f7f7f7,#f7f7f7,#f7f7f7,#f7f7f7,#f7f7f7,#f7f7f7,#f6f7f7,#f5f6f7,#f5f6f7,#f5f6f7,#f5f6f7,#f5f6f7,#f5f6f7,#f6f7f7,#f7f7f7,#f7f7f7,#f7f7f7,#f7f6f6,#f7f5f4,#f8f4f2,#f8f4f2)"></i>
<i style="top:590px;background:linear-gradient(90deg,#f3f5f6,#f3f5f6,#f5f6f7,#f7f7f7,#f7f7f7,#f7f7f7,#f7f5f4,#f7f5f4,#f7f5f4,#f7f5f4,#f7f5f4,#f7f5f4,#f7f6f6,#f7f7f7,#f7f7f7,#f7f7f7,#f7f7f7,#f7f7f7,#f7f7f7,#f7f7f7,#f7f7f7,#f7f7f7,#f7f7f7,#f7f7f7,#f7f7f7,#f7f7f7,#f7f7f7,#f7f7f7,#f6f7f7,#f5f6f7,#f5f6f7,#f5f6f7,#f5f6f7,#f5f6f7,#f5f6f7,#f7f7f7,#f7f7f7,#f7f7f7,#f7f5f4,#f8f4f2,#f8f4f2)"></i>
<i style="top:592px;background:linear-gradient(90deg,#f3f5f6,#f5f6f7,#f7f7f7,#f7f7f7,#f7f6f6,#f7f5f4,#f7f5f4,#f7f5f4,#f7f5f4,#f7f6f6,#f7f6f6,#f7f7f7,#f7f7f7,#f7f7f7,#f7f7f7,#f7f7f7,#f7f7f7,#f7f7f7,#f7f7f7,#f7f7f7,#f7f7f7,#f7f7f7,#f7f7f7,#f7f7f7,#f7f7f7,#f7f7f7,#f7f7f7,#f7f7f7,#f7f7f7,#f7f7f7,#f6f7f7,#f6f7f7,#f5f6f7,#f5f6f7,#f5f6f7,#f5f6f7,#f6f7f7,#f7f7f7,#f7f7f7,#f7f5f4,#f8f4f2)"></i>
<i style="top:594px;background:linear-gradient(90deg,#f3f5f6,#f5f6f7,#f7f7f7,#f7f7f7,#f7f5f4,#f7f5f4,#f7f5f4,#f7f5f4,#f7f6f6,#f7f7f7,#f7f7f7,#f7f7f7,#f7f7f7,#f7f7f7,#f7f7f7,#f7f7f7,#f7f7f7,#f7f7f7,#f7f7f7,#f7f7f7,#f7f7f7,#f7f7f7,#f7f7f7,#f7f7f7,#f7f7f7,#f7f7f7,#f7f7f7,#f7f7f7,#f7f7f7,#f7f7f7,#f7f7f7,#f7f7f7,#f6f7f7,#f5f6f7,#f5f6f7,#f5f6f7,#f5f6f7,#f7f7f7,#f7f7f7,#f7f5f4,#f8f4f2)"></i>
<i style="top:596px;background:linear-gradient(90deg,#f5f6f7,#f7f7f7,#f7f7f7,#f7f5f4,#f7f5f4,#f7f5f4,#f7f6f6,#f7f7f7,#f7f7f7,#f7f7f7,#f7f7f7,#f7f7f7,#f7f7f7,#f7f7f7,#f7f7f7,#f7f7f7,#f7f7f7,#f7f7f7,#f7f7f7,#f7f7f7,#f7f7f7,#f7f7f7,#f7f7f7,#f7f7f7,#f7f7f7,#f7f7f7,#f7f7f7,#f7f7f7,#f7f7f7,#f7f7f7,#f7f7f7,#f7f7f7,#f7f7f7,#f7f7f7,#f6f7f7,#f5f6f7,#f5f6f7,#f5f6f7,#f7f7f7,#f7f7f7,#f7f5f4)"></i>
<i style="top:598px;background:linear-gradient(90deg,#f7f7f7,#f7f7f7,#f7f5f4,#f7f5f4,#f7f5f4,#f7f6f6,#f7f7f7,#f7f7f7,#f7f7f7,#f7f7f7,#f7f7f7,#f7f7f7,#f7f7f7,#f7f7f7,#f7f7f7,#f7f7f7,#f7f7f7,#f7f7f7,#f7f7f7,#f7f7f7,#f7f7f7,#f7f7f7,#f7f7f7,#f7f7f7,#f7f7f7,#f7f7f7,#f7f7f7,#f7f7f7,#f7f7f7,#f7f7f7,#f7f7f7,#f7f7f7,#f7f7f7,#f7f7f7,#f7f7f7,#f6f7f7,#f5f6f7,#f5f6f7,#f5f6f7,#f7f7f7,#f7f7f7)"></i>
<i style="top:600px;background:linear-gradient(90deg,#f7f7f7,#f7f6f6,#f7f5f4,#f7f5f4,#f7f6f6,#f7f7f7,#f7f7f7,#f7f7f7,#f7f7f7,#f7f7f7,#f7f7f7,#f6f7f7,#f6f7f7,#f6f7f7,#f6f7f7,#f7f7f7,#f7f7f7,#f7f7f7,#f7f7f7,#f7f7f7,#f7f7f7,#f7f7f7,#f7f7f7,#f7f7f7,#f7f7f7,#f7f7f7,#f7f6f6,#f7f6f6,#f7f6f6,#f7f6f6,#f7f7f7,#f7f7f7,#f7f7f7,#f7f7f7,#f7f7f7,#f7f7f7,#f6f7f7,#f5f6f7,#f5f6f7,#f6f7f7,#f7f7f7)"></i>
<i style="top:602px;background:linear-gradient(90deg,#f7f6f6,#f7f5f4,#f7f5f4,#f7f6f6,#f7f7f7,#f7f7f7,#f7f7f7,#f7f7f7,#f7f7f7,#f7f7f7,#f6f7f7,#f6f7f7,#f6f7f7,#f6f7f7,#f7f7f7,#f7f7f7,#f7f7f7,#f7f7f7,#f7f7f7,#f7f7f7,#f7f7f7,#f7f7f7,#f7f7f7,#f7f7f7,#f7f7f7,#f7f7f7,#f7f7f7,#f7f6f6,#f7f6f6,#f7f6f6,#f7f6f6,#f7f7f7,#f7f7f7,#f7f7f7,#f7f7f7,#f7f7f7,#f7f7f7,#f6f7f7,#f5f6f7,#f5f6f7,#f6f7f7)"></i>
<i style="top:604px;background:linear-gradient(90deg,#f7f5f4,#f7f5f4,#f7f6f6,#f7f7f7,#f7f7f7,#f7f7f7,#f7f7f7,#f7f7f7,#f6f7f7,#f6f7f7,#f6f7f7,#f6f7f7,#f7f7f7,#f7f7f7,#f7f7f7,#f7f7f7,#f7f7f7,#f7f7f7,#f7f7f7,#f7f7f7,#f7f7f7,#f7f7f7,#f7f7f7,#f7f7f7,#f7f7f7,#f7f7f7,#f7f7f7,#f7f7f7,#f7f7f7,#f7f6f6,#f7f6f6,#f7f6f6,#f7f6f6,#f7f7f7,#f7f7f7,#f7f7f7,#f7f7f7,#f7f7f7,#f6f7f7,#f5f6f7,#f5f6f7)"></i>
<i style="top:606px;background:linear-gradient(90deg,#f7f5f4,#f7f5f4,#f7f7f7,#f7f7f7,#f7f7f7,#f7f7f7,#f7f7f7,#f6f7f7,#f6f7f7,#f7f7f7,#f7f7f7,#f7f7f7,#f7f7f7,#f7f7f7,#f7f7f7,#f7f7f7,#f7f7f7,#f7f7f7,#f7f7f7,#f7f7f7,#f7f7f7,#f7f7f7,#f7f7f7,#f7f7f7,#f7f7f7,#f7f7f7,#f7f7f7,#f7f7f7,#f7f7f7,#f7f7f7,#f7f7f7,#f7f7f7,#f7f6f6,#f7f6f6,#f7f7f7,#f7f7f7,#f7f7f7,#f7f7f7,#f7f7f7,#f5f6f7,#f5f6f7)"></i>
<i style="top:608px;background:linear-gradient(90deg,#f7f5f4,#f7f7f7,#f7f7f7,#f7f7f7,#f7f7f7,#f6f7f7,#f6f7f7,#f7f7f7,#f7f7f7,#f7f7f7,#f7f7f7,#f7f7f7,#f7f7f7,#f7f7f7,#f7f7f7,#f7f7f7,#f7f7f7,#f7f7f7,#f7f7f7,#f7f7f7,#f7f7f7,#f7f7f7,#f7f7f7,#f7f7f7,#f7f7f7,#f7f7f7,#f7f7f7,#f7f7f7,#f7f7f7,#f7f7f7,#f7f7f7,#f7f7f7,#f7f7f7,#f7f7f7,#f7f6f6,#f7f6f6,#f7f7f7,#f7f7f7,#f7f7f7,#f7f7f7,#f5f6f7)"></i>
<i style="top:610px;background:linear-gradient(90deg,#f7f7f7,#f7f7f7,#f7f7f7,#f7f7f7,#f6f7f7,#f6f7f7,#f7f7f7,#f7f7f7,#f7f7f7,#f7f7f7,#f7f7f7,#f7f7f7,#f7f7f7,#f7f7f7,#f7f7f7,#f7f7f7,#f7f7f7,#f7f7f7,#f7f7f7,#f7f7f7,#f7f7f7,#f7f7f7,#f7f7f7,#f7f7f7,#f7f7f7,#f7f7f7,#f7f7f7,#f7f7f7,#f7f7f7,#f7f7f7,#f7f7f7,#f7f7f7,#f7f7f7,#f7f7f7,#f7f7f7,#f7f6f6,#f7f6f6,#f7f7f7,#f7f7f7,#f7f7f7,#f7f7f7)"></i>
<i style="top:612px;background:linear-gradient(90deg,#f7f7f7,#f7f7f7,#f7f7f7,#f7f7f7,#f6f7f7,#f7f7f7,#f7f7f7,#f7f7f7,#f7f7f7,#f7f7f7,#f7f7f7,#f7f7f7,#f7f7f7,#f7f7f7,#f7f7f7,#f7f7f7,#f7f7f7,#f7f7f7,#f7f7f7,#f7f7f7,#f7f7f7,#f7f7f7,#f7f7f7,#f7f7f7,#f7f7f7,#f7f7f7,#f7f7f7,#f7f7f7,#f7f7f7,#f7f7f7,#f7f7f7,#f7f7f7,#f7f7f7,#f7f7f7,#f7f7f7,#f7f7f7,#f7f6f6,#f7f7f7,#f7f7f7,#f7f7f7,#f7f7f7)"></i>
</div>
<div class="dg" style="-webkit-mask-image:linear-gradient(180deg,rgba(0,0,0,0),rgba(0,0,0,0),rgba(0,0,0,0),rgba(0,0,0,0),rgba(0,0,0,0),rgba(0,0,0,0),rgba(0,0,0,0),rgba(0,0,0,0),rgba(0,0,0,0),rgba(0,0,0,0),rgba(0,0,0,0),rgba(0,0,0,0),rgba(0,0,0,0),rgba(0,0,0,0),rgba(0,0,0,0.02),rgba(0,0,0,0.05),rgba(0,0,0,0.14),rgba(0,0,0,0.31),rgba(0,0,0,0.55),rgba(0,0,0,0.81),rgba(0,0,0,0.98),rgba(0,0,0,0.97),rgba(0,0,0,0.8),rgba(0,0,0,0.54),rgba(0,0,0,0.3));mask-image:linear-gradient(180deg,rgba(0,0,0,0),rgba(0,0,0,0),rgba(0,0,0,0),rgba(0,0,0,0),rgba(0,0,0,0),rgba(0,0,0,0),rgba(0,0,0,0),rgba(0,0,0,0),rgba(0,0,0,0),rgba(0,0,0,0),rgba(0,0,0,0),rgba(0,0,0,0),rgba(0,0,0,0),rgba(0,0,0,0),rgba(0,0,0,0.02),rgba(0,0,0,0.05),rgba(0,0,0,0.14),rgba(0,0,0,0.31),rgba(0,0,0,0.55),rgba(0,0,0,0.81),rgba(0,0,0,0.98),rgba(0,0,0,0.97),rgba(0,0,0,0.8),rgba(0,0,0,0.54),rgba(0,0,0,0.3))"><div class="dg" style="-webkit-mask-image:linear-gradient(90deg,rgba(0,0,0,1),rgba(0,0,0,0.98),rgba(0,0,0,0.91),rgba(0,0,0,0.81),rgba(0,0,0,0.68),rgba(0,0,0,0.55),rgba(0,0,0,0.43),rgba(0,0,0,0.31),rgba(0,0,0,0.22),rgba(0,0,0,0.15),rgba(0,0,0,0.09),rgba(0,0,0,0.06),rgba(0,0,0,0.03),rgba(0,0,0,0.02),rgba(0,0,0,0.01),rgba(0,0,0,0),rgba(0,0,0,0),rgba(0,0,0,0),rgba(0,0,0,0),rgba(0,0,0,0),rgba(0,0,0,0));mask-image:linear-gradient(90deg,rgba(0,0,0,1),rgba(0,0,0,0.98),rgba(0,0,0,0.91),rgba(0,0,0,0.81),rgba(0,0,0,0.68),rgba(0,0,0,0.55),rgba(0,0,0,0.43),rgba(0,0,0,0.31),rgba(0,0,0,0.22),rgba(0,0,0,0.15),rgba(0,0,0,0.09),rgba(0,0,0,0.06),rgba(0,0,0,0.03),rgba(0,0,0,0.02),rgba(0,0,0,0.01),rgba(0,0,0,0),rgba(0,0,0,0),rgba(0,0,0,0),rgba(0,0,0,0),rgba(0,0,0,0),rgba(0,0,0,0))"><div class="dg" style="background:repeating-linear-gradient(24.06deg,#fff8f2 0px,#fdfeff 2.54px,#eff7fc 5.08px,#e6f3fa 7.62px,#e1f1f9 10.15px,#e3f2fa 12.69px,#ecf6fb 15.23px,#f8fcfe 17.77px,#fffbf8 20.31px,#fff3eb 22.85px,#fff0e5 25.39px,#fff2e9 27.92px,#fff8f2 30.46px)"></div></div></div>
<div class="dg" style="-webkit-mask-image:linear-gradient(180deg,rgba(0,0,0,0),rgba(0,0,0,0),rgba(0,0,0,0),rgba(0,0,0,0),rgba(0,0,0,0),rgba(0,0,0,0),rgba(0,0,0,0),rgba(0,0,0,0),rgba(0,0,0,0),rgba(0,0,0,0),rgba(0,0,0,0),rgba(0,0,0,0),rgba(0,0,0,0),rgba(0,0,0,0),rgba(0,0,0,0.02),rgba(0,0,0,0.05),rgba(0,0,0,0.14),rgba(0,0,0,0.31),rgba(0,0,0,0.55),rgba(0,0,0,0.81),rgba(0,0,0,0.98),rgba(0,0,0,0.97),rgba(0,0,0,0.8),rgba(0,0,0,0.54),rgba(0,0,0,0.3));mask-image:linear-gradient(180deg,rgba(0,0,0,0),rgba(0,0,0,0),rgba(0,0,0,0),rgba(0,0,0,0),rgba(0,0,0,0),rgba(0,0,0,0),rgba(0,0,0,0),rgba(0,0,0,0),rgba(0,0,0,0),rgba(0,0,0,0),rgba(0,0,0,0),rgba(0,0,0,0),rgba(0,0,0,0),rgba(0,0,0,0),rgba(0,0,0,0.02),rgba(0,0,0,0.05),rgba(0,0,0,0.14),rgba(0,0,0,0.31),rgba(0,0,0,0.55),rgba(0,0,0,0.81),rgba(0,0,0,0.98),rgba(0,0,0,0.97),rgba(0,0,0,0.8),rgba(0,0,0,0.54),rgba(0,0,0,0.3))"><div class="dg" style="-webkit-mask-image:linear-gradient(90deg,rgba(0,0,0,0),rgba(0,0,0,0),rgba(0,0,0,0),rgba(0,0,0,0),rgba(0,0,0,0),rgba(0,0,0,0),rgba(0,0,0,0.01),rgba(0,0,0,0.02),rgba(0,0,0,0.03),rgba(0,0,0,0.06),rgba(0,0,0,0.09),rgba(0,0,0,0.15),rgba(0,0,0,0.22),rgba(0,0,0,0.31),rgba(0,0,0,0.43),rgba(0,0,0,0.55),rgba(0,0,0,0.68),rgba(0,0,0,0.81),rgba(0,0,0,0.91),rgba(0,0,0,0.98),rgba(0,0,0,1));mask-image:linear-gradient(90deg,rgba(0,0,0,0),rgba(0,0,0,0),rgba(0,0,0,0),rgba(0,0,0,0),rgba(0,0,0,0),rgba(0,0,0,0),rgba(0,0,0,0.01),rgba(0,0,0,0.02),rgba(0,0,0,0.03),rgba(0,0,0,0.06),rgba(0,0,0,0.09),rgba(0,0,0,0.15),rgba(0,0,0,0.22),rgba(0,0,0,0.31),rgba(0,0,0,0.43),rgba(0,0,0,0.55),rgba(0,0,0,0.68),rgba(0,0,0,0.81),rgba(0,0,0,0.91),rgba(0,0,0,0.98),rgba(0,0,0,1))"><div class="dg" style="background:repeating-linear-gradient(-24.06deg,#ecf6fb 0px,#f8fcfe 2.54px,#fffbf8 5.08px,#fff3eb 7.62px,#fff0e5 10.15px,#fff2e9 12.69px,#fff8f2 15.23px,#fdfeff 17.77px,#eff7fc 20.31px,#e6f3fa 22.85px,#e1f1f9 25.39px,#e3f2fa 27.92px,#ecf6fb 30.46px)"></div></div></div>
</div>
<div class="fld" style="left:1475.5px;top:168px;width:771.2px;height:692px"><div class="rw">
<i style="top:200px;background:linear-gradient(90deg,#f7f7f7,#f7f7f7,#f7f7f7,#f7f7f7,#f7f7f7,#f7f7f7,#f7f7f7,#f7f7f7,#f7f7f7,#f7f7f7,#f7f7f7,#f7f7f7,#f7f7f7,#f7f7f7,#f7f7f7,#f7f7f7,#f7f7f7,#f6f7f7,#f6f7f7,#f6f7f7,#f6f7f7,#f6f7f7,#f6f7f7,#f6f7f7,#f7f7f7,#f7f7f7,#f7f7f7,#f7f7f7,#f7f7f7,#f7f7f7,#f7f7f7,#f7f7f7,#f7f7f7,#f7f7f7,#f7f7f7,#f7f7f7,#f7f7f7,#f7f7f7,#f7f7f7,#f7f7f7,#f7f7f7)"></i>
<i style="top:202px;background:linear-gradient(90deg,#f7f7f7,#f7f7f7,#f7f7f7,#f7f7f7,#f7f7f7,#f7f7f7,#f7f7f7,#f7f7f7,#f7f7f7,#f7f7f7,#f7f7f7,#f7f7f7,#f7f7f7,#f7f7f7,#f6f7f7,#f6f7f7,#f6f7f7,#f6f7f7,#f5f6f7,#f5f6f7,#f5f6f7,#f5f6f7,#f5f6f7,#f6f7f7,#f6f7f7,#f6f7f7,#f6f7f7,#f7f7f7,#f7f7f7,#f7f7f7,#f7f7f7,#f7f7f7,#f7f7f7,#f7f7f7,#f7f7f7,#f7f7f7,#f7f7f7,#f7f7f7,#f7f7f7,#f7f7f7,#f7f7f7)"></i>
<i style="top:204px;background:linear-gradient(90deg,#f7f7f7,#f7f7f7,#f7f7f7,#f7f7f7,#f7f7f7,#f7f7f7,#f7f7f7,#f7f7f7,#f7f7f7,#f7f7f7,#f7f7f7,#f7f7f7,#f7f7f7,#f6f7f7,#f6f7f7,#f6f7f7,#f6f7f7,#f5f6f7,#f5f6f7,#f5f6f7,#f5f6f7,#f5f6f7,#f5f6f7,#f5f6f7,#f6f7f7,#f6f7f7,#f6f7f7,#f6f7f7,#f7f7f7,#f7f7f7,#f7f7f7,#f7f7f7,#f7f7f7,#f7f7f7,#f7f7f7,#f7f7f7,#f7f7f7,#f7f7f7,#f7f7f7,#f7f7f7,#f7f7f7)"></i>
<i style="top:206px;background:linear-gradient(90deg,#f7f7f7,#f7f7f7,#f7f7f7,#f7f7f7,#f7f7f7,#f7f7f7,#f7f7f7,#f7f7f7,#f7f7f7,#f7f7f7,#f7f7f7,#f7f7f7,#f7f7f7,#f6f7f7,#f6f7f7,#f6f7f7,#f6f7f7,#f6f7f7,#f6f7f7,#f6f7f7,#f6f7f7,#f6f7f7,#f6f7f7,#f6f7f7,#f6f7f7,#f6f7f7,#f6f7f7,#f6f7f7,#f7f7f7,#f7f7f7,#f7f7f7,#f7f7f7,#f7f7f7,#f7f7f7,#f7f7f7,#f7f7f7,#f7f7f7,#f7f7f7,#f7f7f7,#f7f7f7,#f7f7f7)"></i>
<i style="top:214px;background:linear-gradient(90deg,#f7f7f7,#f7f7f7,#f7f7f7,#f7f7f7,#f7f7f7,#f7f7f7,#f7f7f7,#f7f7f7,#f7f7f7,#f7f7f7,#f7f7f7,#f7f7f7,#f7f7f7,#f7f7f7,#f7f7f7,#f7f7f7,#f7f6f6,#f7f6f6,#f7f5f4,#f7f5f4,#f7f5f4,#f7f5f4,#f7f5f4,#f7f6f6,#f7f6f6,#f7f7f7,#f7f7f7,#f7f7f7,#f7f7f7,#f7f7f7,#f7f7f7,#f7f7f7,#f7f7f7,#f7f7f7,#f7f7f7,#f7f7f7,#f7f7f7,#f7f7f7,#f7f7f7,#f7f7f7,#f7f7f7)"></i>
<i style="top:216px;background:linear-gradient(90deg,#f7f7f7,#f7f7f7,#f7f7f7,#f7f7f7,#f7f7f7,#f7f7f7,#f7f7f7,#f7f7f7,#f7f7f7,#f7f7f7,#f7f7f7,#f7f7f7,#f7f7f7,#f7f7f7,#f7f6f6,#f7f5f4,#f7f5f4,#f7f5f4,#f7f5f4,#f7f5f4,#f7f5f4,#f7f5f4,#f7f5f4,#f7f5f4,#f7f5f4,#f7f5f4,#f7f6f6,#f7f7f7,#f7f7f7,#f7f7f7,#f7f7f7,#f7f7f7,#f7f7f7,#f7f7f7,#f7f7f7,#f7f7f7,#f7f7f7,#f7f7f7,#f7f7f7,#f7f7f7,#f7f7f7)"></i>
<i style="top:218px;background:linear-gradient(90deg,#f7f7f7,#f7f7f7,#f7f7f7,#f7f7f7,#f7f7f7,#f7f7f7,#f7f7f7,#f7f7f7,#f7f7f7,#f7f7f7,#f7f7f7,#f7f7f7,#f7f6f6,#f7f5f4,#f7f5f4,#f7f5f4,#f7f5f4,#f7f5f4,#f7f5f4,#f7f5f4,#f7f5f4,#f7f5f4,#f7f5f4,#f7f5f4,#f7f5f4,#f7f5f4,#f7f5f4,#f7f5f4,#f7f6f6,#f7f7f7,#f7f7f7,#f7f7f7,#f7f7f7,#f7f7f7,#f7f7f7,#f7f7f7,#f7f7f7,#f7f7f7,#f7f7f7,#f7f7f7,#f7f7f7)"></i>
<i style="top:220px;background:linear-gradient(90deg,#f7f7f7,#f7f7f7,#f7f7f7,#f7f7f7,#f7f7f7,#f7f7f7,#f7f7f7,#f7f7f7,#f7f7f7,#f7f7f7,#f7f7f7,#f7f6f6,#f7f5f4,#f7f5f4,#f7f5f4,#f7f5f4,#f7f5f4,#f7f5f4,#f7f5f4,#f7f5f4,#f7f5f4,#f7f5f4,#f7f5f4,#f7f5f4,#f7f5f4,#f7f5f4,#f7f5f4,#f7f5f4,#f7f5f4,#f7f6f6,#f7f7f7,#f7f7f7,#f7f7f7,#f7f7f7,#f7f7f7,#f7f7f7,#f7f7f7,#f7f7f7,#f7f7f7,#f7f7f7,#f7f7f7)"></i>
<i style="top:222px;background:linear-gradient(90deg,#f7f7f7,#f7f7f7,#f7f7f7,#f7f7f7,#f7f7f7,#f7f7f7,#f7f7f7,#f7f7f7,#f7f7f7,#f7f7f7,#f7f6f6,#f7f5f4,#f7f5f4,#f7f5f4,#f7f5f4,#f7f5f4,#f7f5f4,#f7f5f4,#f7f5f4,#f7f5f4,#f7f5f4,#f7f5f4,#f7f5f4,#f7f5f4,#f7f5f4,#f7f5f4,#f7f5f4,#f7f5f4,#f7f5f4,#f7f5f4,#f7f6f6,#f7f7f7,#f7f7f7,#f7f7f7,#f7f7f7,#f7f7f7,#f7f7f7,#f7f7f7,#f7f7f7,#f7f7f7,#f7f7f7)"></i>
<i style="top:224px;background:linear-gradient(90deg,#f7f7f7,#f7f7f7,#f7f7f7,#f7f7f7,#f7f7f7,#f7f7f7,#f7f7f7,#f7f7f7,#f7f7f7,#f7f7f7,#f7f6f6,#f7f6f6,#f7f6f6,#f7f6f6,#f7f6f6,#f7f6f6,#f7f7f7,#f7f7f7,#f7f7f7,#f7f7f7,#f7f7f7,#f7f7f7,#f7f7f7,#f7f7f7,#f7f7f7,#f7f6f6,#f7f6f6,#f7f6f6,#f7f6f6,#f7f6f6,#f7f6f6,#f7f7f7,#f7f7f7,#f7f7f7,#f7f7f7,#f7f7f7,#f7f7f7,#f7f7f7,#f7f7f7,#f7f7f7,#f7f7f7)"></i>
<i style="top:228px;background:linear-gradient(90deg,#f7f7f7,#f7f7f7,#f7f7f7,#f7f7f7,#f7f7f7,#f7f7f7,#f7f7f7,#f7f7f7,#f7f7f7,#f7f7f7,#f7f7f7,#f7f7f7,#f7f7f7,#f7f7f7,#f7f7f7,#f7f7f7,#f6f7f7,#f5f6f7,#f5f6f7,#f5f6f7,#f5f6f7,#f5f6f7,#f5f6f7,#f5f6f7,#f6f7f7,#f7f7f7,#f7f7f7,#f7f7f7,#f7f7f7,#f7f7f7,#f7f7f7,#f7f7f7,#f7f7f7,#f7f7f7,#f7f7f7,#f7f7f7,#f7f7f7,#f7f7f7,#f7f7f7,#f7f7f7,#f7f7f7)"></i>
<i style="top:230px;background:linear-gradient(90deg,#f7f7f7,#f7f7f7,#f7f7f7,#f7f7f7,#f7f7f7,#f7f7f7,#f7f7f7,#f7f7f7,#f7f7f7,#f7f7f7,#f7f7f7,#f7f7f7,#f7f7f7,#f6f7f7,#f5f6f7,#f5f6f7,#f5f6f7,#f5f6f7,#f5f6f7,#f5f6f7,#f5f6f7,#f5f6f7,#f5f6f7,#f5f6f7,#f5f6f7,#f5f6f7,#f5f6f7,#f6f7f7,#f7f7f7,#f7f7f7,#f7f7f7,#f7f7f7,#f7f7f7,#f7f7f7,#f7f7f7,#f7f7f7,#f7f7f7,#f7f7f7,#f7f7f7,#f7f7f7,#f7f7f7)"></i>
<i style="top:232px;background:linear-gradient(90deg,#f7f7f7,#f7f7f7,#f7f7f7,#f7f7f7,#f7f7f7,#f7f7f7,#f7f7f7,#f7f7f7,#f7f7f7,#f7f7f7,#f7f7f7,#f7f7f7,#f5f6f7,#f5f6f7,#f5f6f7,#f5f6f7,#f3f5f6,#f3f5f6,#f3f5f6,#f3f5f6,#f3f5f6,#f3f5f6,#f3f5f6,#f3f5f6,#f3f5f6,#f5f6f7,#f5f6f7,#f5f6f7,#f5f6f7,#f7f7f7,#f7f7f7,#f7f7f7,#f7f7f7,#f7f7f7,#f7f7f7,#f7f7f7,#f7f7f7,#f7f7f7,#f7f7f7,#f7f7f7,#f7f7f7)"></i>
<i style="top:234px;background:linear-gradient(90deg,#f7f7f7,#f7f7f7,#f7f7f7,#f7f7f7,#f7f7f7,#f7f7f7,#f7f7f7,#f7f7f7,#f7f7f7,#f7f7f7,#f6f7f7,#f5f6f7,#f5f6f7,#f5f6f7,#f3f5f6,#f3f5f6,#f3f5f6,#f3f5f6,#f3f5f6,#f3f5f6,#f3f5f6,#f3f5f6,#f3f5f6,#f3f5f6,#f3f5f6,#f3f5f6,#f3f5f6,#f5f6f7,#f5f6f7,#f5f6f7,#f6f7f7,#f7f7f7,#f7f7f7,#f7f7f7,#f7f7f7,#f7f7f7,#f7f7f7,#f7f7f7,#f7f7f7,#f7f7f7,#f7f7f7)"></i>
<i style="top:236px;background:linear-gradient(90deg,#f7f7f7,#f7f7f7,#f7f7f7,#f7f7f7,#f7f7f7,#f7f7f7,#f7f7f7,#f7f7f7,#f7f7f7,#f6f7f7,#f5f6f7,#f5f6f7,#f5f6f7,#f3f5f6,#f3f5f6,#f3f5f6,#f3f5f6,#f3f5f6,#f3f5f6,#f3f5f6,#f3f5f6,#f3f5f6,#f3f5f6,#f3f5f6,#f3f5f6,#f3f5f6,#f3f5f6,#f3f5f6,#f5f6f7,#f5f6f7,#f5f6f7,#f6f7f7,#f7f7f7,#f7f7f7,#f7f7f7,#f7f7f7,#f7f7f7,#f7f7f7,#f7f7f7,#f7f7f7,#f7f7f7)"></i>
<i style="top:238px;background:linear-gradient(90deg,#f7f7f7,#f7f7f7,#f7f7f7,#f7f7f7,#f7f7f7,#f7f7f7,#f7f7f7,#f7f7f7,#f6f7f7,#f5f6f7,#f5f6f7,#f5f6f7,#f5f6f7,#f5f6f7,#f5f6f7,#f5f6f7,#f5f6f7,#f5f6f7,#f5f6f7,#f5f6f7,#f5f6f7,#f5f6f7,#f5f6f7,#f5f6f7,#f5f6f7,#f5f6f7,#f5f6f7,#f5f6f7,#f5f6f7,#f5f6f7,#f5f6f7,#f5f6f7,#f6f7f7,#f7f7f7,#f7f7f7,#f7f7f7,#f7f7f7,#f7f7f7,#f7f7f7,#f7f7f7,#f7f7f7)"></i>
<i style="top:240px;background:linear-gradient(90deg,#f7f7f7,#f7f7f7,#f7f7f7,#f7f7f7,#f7f7f7,#f7f7f7,#f7f7f7,#f7f7f7,#f6f7f7,#f5f6f7,#f5f6f7,#f5f6f7,#f5f6f7,#f5f6f7,#f5f6f7,#f6f7f7,#f7f7f7,#f7f7f7,#f7f7f7,#f7f7f7,#f7f7f7,#f7f7f7,#f7f7f7,#f7f7f7,#f7f7f7,#f6f7f7,#f5f6f7,#f5f6f7,#f5f6f7,#f5f6f7,#f5f6f7,#f5f6f7,#f6f7f7,#f7f7f7,#f7f7f7,#f7f7f7,#f7f7f7,#f7f7f7,#f7f7f7,#f7f7f7,#f7f7f7)"></i>
<i style="top:242px;background:linear-gradient(90deg,#f7f7f7,#f7f7f7,#f7f7f7,#f7f7f7,#f7f7f7,#f7f7f7,#f7f7f7,#f7f7f7,#f6f7f7,#f5f6f7,#f5f6f7,#f6f7f7,#f7f7f7,#f7f7f7,#f7f7f7,#f7f7f7,#f7f7f7,#f7f6f6,#f7f5f4,#f7f5f4,#f7f5f4,#f7f5f4,#f7f5f4,#f7f6f6,#f7f7f7,#f7f7f7,#f7f7f7,#f7f7f7,#f7f7f7,#f6f7f7,#f5f6f7,#f5f6f7,#f6f7f7,#f7f7f7,#f7f7f7,#f7f7f7,#f7f7f7,#f7f7f7,#f7f7f7,#f7f7f7,#f7f7f7)"></i>
<i style="top:244px;background:linear-gradient(90deg,#f7f7f7,#f7f7f7,#f7f7f7,#f7f7f7,#f7f7f7,#f7f7f7,#f7f7f7,#f7f7f7,#f7f7f7,#f7f7f7,#f7f7f7,#f7f7f7,#f7f7f7,#f7f7f7,#f7f5f4,#f7f5f4,#f7f5f4,#f8f4f2,#f8f4f2,#f8f4f2,#f8f4f2,#f8f4f2,#f8f4f2,#f8f4f2,#f7f5f4,#f7f5f4,#f7f5f4,#f7f7f7,#f7f7f7,#f7f7f7,#f7f7f7,#f7f7f7,#f7f7f7,#f7f7f7,#f7f7f7,#f7f7f7,#f7f7f7,#f7f7f7,#f7f7f7,#f7f7f7,#f7f7f7)"></i>
<i style="top:246px;background:linear-gradient(90deg,#f7f7f7,#f7f7f7,#f7f7f7,#f7f7f7,#f7f7f7,#f7f7f7,#f7f7f7,#f7f7f7,#f7f7f7,#f7f7f7,#f7f7f7,#f7f7f7,#f7f5f4,#f7f5f4,#f8f4f2,#f8f4f2,#f8f3f0,#f8f3f0,#f8f3f0,#f8f3f0,#f8f3f0,#f8f3f0,#f8f3f0,#f8f3f0,#f8f3f0,#f8f4f2,#f8f4f2,#f7f5f4,#f7f5f4,#f7f7f7,#f7f7f7,#f7f7f7,#f7f7f7,#f7f7f7,#f7f7f7,#f7f7f7,#f7f7f7,#f7f7f7,#f7f7f7,#f7f7f7,#f7f7f7)"></i>
<i style="top:248px;background:linear-gradient(90deg,#f7f7f7,#f7f7f7,#f7f7f7,#f7f7f7,#f7f7f7,#f7f7f7,#f7f7f7,#f7f7f7,#f7f7f7,#f7f7f7,#f7f6f6,#f7f5f4,#f8f4f2,#f8f4f2,#f8f3f0,#f8f3f0,#f8f3f0,#f8f2ef,#f8f2ef,#f8f2ef,#f8f2ef,#f8f2ef,#f8f2ef,#f8f2ef,#f8f3f0,#f8f3f0,#f8f3f0,#f8f4f2,#f8f4f2,#f7f5f4,#f7f6f6,#f7f7f7,#f7f7f7,#f7f7f7,#f7f7f7,#f7f7f7,#f7f7f7,#f7f7f7,#f7f7f7,#f7f7f7,#f7f7f7)"></i>
<i style="top:250px;background:linear-gradient(90deg,#f7f7f7,#f7f7f7,#f7f7f7,#f7f7f7,#f7f7f7,#f7f7f7,#f7f7f7,#f7f7f7,#f7f7f7,#f7f5f4,#f7f5f4,#f8f4f2,#f8f4f2,#f8f3f0,#f8f3f0,#f8f3f0,#f8f2ef,#f8f2ef,#f8f2ef,#f8f2ef,#f8f2ef,#f8f2ef,#f8f2ef,#f8f2ef,#f8f2ef,#f8f3f0,#f8f3f0,#f8f3f0,#f8f4f2,#f8f4f2,#f7f5f4,#f7f5f4,#f7f7f7,#f7f7f7,#f7f7f7,#f7f7f7,#f7f7f7,#f7f7f7,#f7f7f7,#f7f7f7,#f7f7f7)"></i>
<i style="top:252px;background:linear-gradient(90deg,#f7f7f7,#f7f7f7,#f7f7f7,#f7f7f7,#f7f7f7,#f7f7f7,#f7f7f7,#f7f7f7,#f7f5f4,#f7f5f4,#f8f4f2,#f8f4f2,#f8f3f0,#f8f3f0,#f8f3f0,#f8f3f0,#f8f3f0,#f8f3f0,#f8f3f0,#f8f3f0,#f8f3f0,#f8f3f0,#f8f3f0,#f8f3f0,#f8f3f0,#f8f3f0,#f8f3f0,#f8f3f0,#f8f3f0,#f8f4f2,#f8f4f2,#f7f5f4,#f7f5f4,#f7f7f7,#f7f7f7,#f7f7f7,#f7f7f7,#f7f7f7,#f7f7f7,#f7f7f7,#f7f7f7)"></i>
<i style="top:254px;background:linear-gradient(90deg,#f7f7f7,#f7f7f7,#f7f7f7,#f7f7f7,#f7f7f7,#f7f7f7,#f7f7f7,#f7f6f6,#f7f5f4,#f7f5f4,#f8f4f2,#f8f4f2,#f8f4f2,#f8f4f2,#f8f4f2,#f8f4f2,#f8f4f2,#f8f4f2,#f7f5f4,#f7f5f4,#f7f5f4,#f7f5f4,#f7f5f4,#f8f4f2,#f8f4f2,#f8f4f2,#f8f4f2,#f8f4f2,#f8f4f2,#f8f4f2,#f8f4f2,#f7f5f4,#f7f5f4,#f7f6f6,#f7f7f7,#f7f7f7,#f7f7f7,#f7f7f7,#f7f7f7,#f7f7f7,#f7f7f7)"></i>
<i style="top:256px;background:linear-gradient(90deg,#f7f7f7,#f6f7f7,#f7f7f7,#f7f7f7,#f7f7f7,#f7f7f7,#f7f6f6,#f7f5f4,#f7f5f4,#f7f5f4,#f8f4f2,#f8f4f2,#f8f4f2,#f7f5f4,#f7f5f4,#f7f6f6,#f7f7f7,#f7f7f7,#f7f7f7,#f7f7f7,#f7f7f7,#f7f7f7,#f7f7f7,#f7f7f7,#f7f7f7,#f7f6f6,#f7f5f4,#f7f5f4,#f8f4f2,#f8f4f2,#f8f4f2,#f7f5f4,#f7f5f4,#f7f5f4,#f7f6f6,#f7f7f7,#f7f7f7,#f7f7f7,#f7f7f7,#f6f7f7,#f7f7f7)"></i>
<i style="top:258px;background:linear-gradient(90deg,#f7f7f7,#f7f7f7,#f7f7f7,#f7f7f7,#f7f7f7,#f7f7f7,#f7f6f6,#f7f5f4,#f7f5f4,#f7f5f4,#f7f5f4,#f7f5f4,#f7f7f7,#f7f7f7,#f7f7f7,#f5f6f7,#f5f6f7,#f3f5f6,#f3f5f6,#f3f5f6,#f3f5f6,#f3f5f6,#f3f5f6,#f3f5f6,#f5f6f7,#f5f6f7,#f7f7f7,#f7f7f7,#f7f7f7,#f7f5f4,#f7f5f4,#f7f5f4,#f7f5f4,#f7f5f4,#f7f6f6,#f7f7f7,#f7f7f7,#f7f7f7,#f7f7f7,#f7f7f7,#f7f7f7)"></i>
<i style="top:260px;background:linear-gradient(90deg,#f7f7f7,#f7f7f7,#f7f7f7,#f7f7f7,#f7f7f7,#f7f6f6,#f7f5f4,#f7f5f4,#f7f5f4,#f7f6f6,#f7f7f7,#f7f7f7,#f6f7f7,#f5f6f7,#f3f5f6,#f2f5f6,#f0f4f6,#f0f4f6,#f0f4f6,#eff3f5,#eff3f5,#eff3f5,#f0f4f6,#f0f4f6,#f0f4f6,#f2f5f6,#f3f5f6,#f5f6f7,#f6f7f7,#f7f7f7,#f7f7f7,#f7f6f6,#f7f5f4,#f7f5f4,#f7f5f4,#f7f6f6,#f7f7f7,#f7f7f7,#f7f7f7,#f7f7f7,#f7f7f7)"></i>
<i style="top:262px;background:linear-gradient(90deg,#f7f7f7,#f7f7f7,#f7f7f7,#f7f7f7,#f7f6f6,#f7f6f6,#f7f6f6,#f7f7f7,#f7f7f7,#f7f7f7,#f6f7f7,#f5f6f7,#f3f5f6,#f2f5f6,#f0f4f6,#eff3f5,#edf2f5,#edf2f5,#edf2f5,#edf2f5,#edf2f5,#edf2f5,#edf2f5,#edf2f5,#edf2f5,#eff3f5,#f0f4f6,#f2f5f6,#f3f5f6,#f5f6f7,#f6f7f7,#f7f7f7,#f7f7f7,#f7f7f7,#f7f6f6,#f7f6f6,#f7f6f6,#f7f7f7,#f7f7f7,#f7f7f7,#f7f7f7)"></i>
<i style="top:264px;background:linear-gradient(90deg,#f7f7f7,#f7f7f7,#f7f7f7,#f7f6f6,#f7f6f6,#f7f7f7,#f7f7f7,#f7f7f7,#f7f7f7,#f5f6f7,#f3f5f6,#f2f5f6,#f0f4f6,#eff3f5,#edf2f5,#edf2f5,#ecf2f5,#ecf2f5,#ecf2f5,#ecf2f5,#ecf2f5,#ecf2f5,#ecf2f5,#ecf2f5,#ecf2f5,#edf2f5,#edf2f5,#eff3f5,#f0f4f6,#f2f5f6,#f3f5f6,#f5f6f7,#f7f7f7,#f7f7f7,#f7f7f7,#f7f7f7,#f7f6f6,#f7f6f6,#f7f7f7,#f7f7f7,#f7f7f7)"></i>
<i style="top:266px;background:linear-gradient(90deg,#f7f7f7,#f7f7f7,#f7f5f4,#f7f5f4,#f7f6f6,#f7f7f7,#f7f7f7,#f7f7f7,#f5f6f7,#f3f5f6,#f2f5f6,#f0f4f6,#eff3f5,#eff3f5,#edf2f5,#edf2f5,#edf2f5,#edf2f5,#edf2f5,#edf2f5,#edf2f5,#edf2f5,#edf2f5,#edf2f5,#edf2f5,#edf2f5,#edf2f5,#eff3f5,#eff3f5,#f0f4f6,#f2f5f6,#f3f5f6,#f5f6f7,#f7f7f7,#f7f7f7,#f7f7f7,#f7f6f6,#f7f5f4,#f7f5f4,#f7f7f7,#f7f7f7)"></i>
<i style="top:268px;background:linear-gradient(90deg,#f7f7f7,#f7f5f4,#f7f5f4,#f7f5f4,#f7f7f7,#f7f7f7,#f7f7f7,#f5f6f7,#f3f5f6,#f2f5f6,#f2f5f6,#f0f4f6,#eff3f5,#eff3f5,#eff3f5,#eff3f5,#eff3f5,#eff3f5,#f0f4f6,#f0f4f6,#f0f4f6,#f0f4f6,#f0f4f6,#eff3f5,#eff3f5,#eff3f5,#eff3f5,#eff3f5,#eff3f5,#f0f4f6,#f2f5f6,#f2f5f6,#f3f5f6,#f5f6f7,#f7f7f7,#f7f7f7,#f7f7f7,#f7f5f4,#f7f5f4,#f7f5f4,#f7f7f7)"></i>
<i style="top:270px;background:linear-gradient(90deg,#f7f6f6,#f7f5f4,#f7f5f4,#f7f6f6,#f7f7f7,#f7f7f7,#f5f6f7,#f5f6f7,#f3f5f6,#f2f5f6,#f0f4f6,#f0f4f6,#f0f4f6,#f0f4f6,#f2f5f6,#f2f5f6,#f3f5f6,#f3f5f6,#f5f6f7,#f5f6f7,#f5f6f7,#f5f6f7,#f5f6f7,#f3f5f6,#f3f5f6,#f2f5f6,#f2f5f6,#f0f4f6,#f0f4f6,#f0f4f6,#f0f4f6,#f2f5f6,#f3f5f6,#f5f6f7,#f5f6f7,#f7f7f7,#f7f7f7,#f7f6f6,#f7f5f4,#f7f5f4,#f7f6f6)"></i>
<i style="top:272px;background:linear-gradient(90deg,#f7f5f4,#f7f5f4,#f7f5f4,#f7f7f7,#f7f7f7,#f6f7f7,#f5f6f7,#f3f5f6,#f3f5f6,#f2f5f6,#f2f5f6,#f2f5f6,#f3f5f6,#f3f5f6,#f5f6f7,#f7f7f7,#f7f7f7,#f7f5f4,#f8f4f2,#f8f4f2,#f8f4f2,#f8f4f2,#f8f4f2,#f7f5f4,#f7f7f7,#f7f7f7,#f5f6f7,#f3f5f6,#f3f5f6,#f2f5f6,#f2f5f6,#f2f5f6,#f3f5f6,#f3f5f6,#f5f6f7,#f6f7f7,#f7f7f7,#f7f7f7,#f7f5f4,#f7f5f4,#f7f5f4)"></i>
<i style="top:274px;background:linear-gradient(90deg,#f7f5f4,#f7f5f4,#f7f7f7,#f7f7f7,#f6f7f7,#f5f6f7,#f5f6f7,#f3f5f6,#f3f5f6,#f3f5f6,#f5f6f7,#f5f6f7,#f7f7f7,#f7f5f4,#f8f4f2,#f8f3f0,#f8f2ef,#f8f1ed,#f9f0eb,#f9f0eb,#f9f0eb,#f9f0eb,#f9f0eb,#f8f1ed,#f8f2ef,#f8f3f0,#f8f4f2,#f7f5f4,#f7f7f7,#f5f6f7,#f5f6f7,#f3f5f6,#f3f5f6,#f3f5f6,#f5f6f7,#f5f6f7,#f6f7f7,#f7f7f7,#f7f7f7,#f7f5f4,#f7f5f4)"></i>
<i style="top:276px;background:linear-gradient(90deg,#f7f5f4,#f7f7f7,#f7f7f7,#f7f7f7,#f5f6f7,#f5f6f7,#f5f6f7,#f5f6f7,#f5f6f7,#f6f7f7,#f7f7f7,#f7f5f4,#f8f4f2,#f8f2ef,#f9f0eb,#f9efe9,#f9eee7,#f9ede5,#f9ede5,#f9ebe3,#f9ebe3,#f9ebe3,#f9ede5,#f9ede5,#f9eee7,#f9efe9,#f9f0eb,#f8f2ef,#f8f4f2,#f7f5f4,#f7f7f7,#f6f7f7,#f5f6f7,#f5f6f7,#f5f6f7,#f5f6f7,#f5f6f7,#f7f7f7,#f7f7f7,#f7f7f7,#f7f5f4)"></i>
<i style="top:278px;background:linear-gradient(90deg,#f7f7f7,#f7f7f7,#f7f7f7,#f5f6f7,#f5f6f7,#f5f6f7,#f5f6f7,#f6f7f7,#f7f7f7,#f7f6f6,#f8f4f2,#f8f2ef,#f8f1ed,#f9efe9,#f9ede5,#f9ebe3,#faeae1,#faeae1,#fae9df,#fae9df,#fae9df,#fae9df,#fae9df,#faeae1,#faeae1,#f9ebe3,#f9ede5,#f9efe9,#f8f1ed,#f8f2ef,#f8f4f2,#f7f6f6,#f7f7f7,#f6f7f7,#f5f6f7,#f5f6f7,#f5f6f7,#f5f6f7,#f7f7f7,#f7f7f7,#f7f7f7)"></i>
<i style="top:280px;background:linear-gradient(90deg,#f7f7f7,#f7f7f7,#f5f6f7,#f5f6f7,#f5f6f7,#f5f6f7,#f7f7f7,#f7f7f7,#f7f5f4,#f8f4f2,#f8f2ef,#f9f0eb,#f9eee7,#f9ede5,#f9ebe3,#faeae1,#fae9df,#fae9df,#fae9df,#fae9df,#fae9df,#fae9df,#fae9df,#fae9df,#fae9df,#faeae1,#f9ebe3,#f9ede5,#f9eee7,#f9f0eb,#f8f2ef,#f8f4f2,#f7f5f4,#f7f7f7,#f7f7f7,#f5f6f7,#f5f6f7,#f5f6f7,#f5f6f7,#f7f7f7,#f7f7f7)"></i>
<i style="top:282px;background:linear-gradient(90deg,#f7f7f7,#f5f6f7,#f5f6f7,#f5f6f7,#f5f6f7,#f7f7f7,#f7f7f7,#f7f5f4,#f8f4f2,#f8f2ef,#f9f0eb,#f9efe9,#f9ede5,#f9ebe3,#faeae1,#faeae1,#faeae1,#faeae1,#f9ebe3,#f9ebe3,#f9ebe3,#f9ebe3,#f9ebe3,#faeae1,#faeae1,#faeae1,#faeae1,#f9ebe3,#f9ede5,#f9efe9,#f9f0eb,#f8f2ef,#f8f4f2,#f7f5f4,#f7f7f7,#f7f7f7,#f5f6f7,#f5f6f7,#f5f6f7,#f5f6f7,#f7f7f7)"></i>
<i style="top:284px;background:linear-gradient(90deg,#f5f6f7,#f5f6f7,#f3f5f6,#f5f6f7,#f7f7f7,#f7f7f7,#f7f5f4,#f8f4f2,#f8f2ef,#f8f1ed,#f9efe9,#f9eee7,#f9eee7,#f9ede5,#f9ede5,#f9eee7,#f9efe9,#f9efe9,#f9f0eb,#f9f0eb,#f9f0eb,#f9f0eb,#f9f0eb,#f9efe9,#f9efe9,#f9eee7,#f9ede5,#f9ede5,#f9eee7,#f9eee7,#f9efe9,#f8f1ed,#f8f2ef,#f8f4f2,#f7f5f4,#f7f7f7,#f7f7f7,#f5f6f7,#f3f5f6,#f5f6f7,#f5f6f7)"></i>
<i style="top:286px;background:linear-gradient(90deg,#f5f6f7,#f3f5f6,#f5f6f7,#f5f6f7,#f7f7f7,#f7f5f4,#f8f4f2,#f8f3f0,#f8f2ef,#f8f1ed,#f9f0eb,#f9efe9,#f9f0eb,#f9f0eb,#f8f1ed,#f8f3f0,#f8f4f2,#f7f5f4,#f7f7f7,#f7f7f7,#f7f7f7,#f7f7f7,#f7f7f7,#f7f5f4,#f8f4f2,#f8f3f0,#f8f1ed,#f9f0eb,#f9f0eb,#f9efe9,#f9f0eb,#f8f1ed,#f8f2ef,#f8f3f0,#f8f4f2,#f7f5f4,#f7f7f7,#f5f6f7,#f5f6f7,#f3f5f6,#f5f6f7)"></i>
<i style="top:288px;background:linear-gradient(90deg,#f3f5f6,#f3f5f6,#f5f6f7,#f7f7f7,#f7f6f6,#f7f5f4,#f8f4f2,#f8f3f0,#f8f2ef,#f8f1ed,#f8f1ed,#f8f2ef,#f8f3f0,#f7f5f4,#f7f7f7,#f3f5f6,#f2f5f6,#eff3f5,#edf2f5,#edf2f5,#ecf2f5,#edf2f5,#edf2f5,#eff3f5,#f2f5f6,#f3f5f6,#f7f7f7,#f7f5f4,#f8f3f0,#f8f2ef,#f8f1ed,#f8f1ed,#f8f2ef,#f8f3f0,#f8f4f2,#f7f5f4,#f7f6f6,#f7f7f7,#f5f6f7,#f3f5f6,#f3f5f6)"></i>
<i style="top:290px;background:linear-gradient(90deg,#f5f6f7,#f5f6f7,#f7f7f7,#f7f7f7,#f7f5f4,#f8f4f2,#f8f3f0,#f8f3f0,#f8f3f0,#f8f3f0,#f8f4f2,#f7f7f7,#f5f6f7,#f0f4f6,#edf2f5,#eaf1f5,#e7f0f4,#e4eef4,#e3edf3,#e3edf3,#e3edf3,#e3edf3,#e3edf3,#e4eef4,#e7f0f4,#eaf1f5,#edf2f5,#f0f4f6,#f5f6f7,#f7f7f7,#f8f4f2,#f8f3f0,#f8f3f0,#f8f3f0,#f8f3f0,#f8f4f2,#f7f5f4,#f7f7f7,#f7f7f7,#f5f6f7,#f5f6f7)"></i>
<i style="top:292px;background:linear-gradient(90deg,#f5f6f7,#f7f7f7,#f7f7f7,#f7f5f4,#f8f4f2,#f8f4f2,#f8f4f2,#f8f4f2,#f7f5f4,#f7f7f7,#f5f6f7,#f2f5f6,#edf2f5,#e9f0f4,#e4eef4,#e1edf3,#deebf2,#ddebf2,#dbeaf2,#dbeaf2,#dae9f2,#dbeaf2,#dbeaf2,#ddebf2,#deebf2,#e1edf3,#e4eef4,#e9f0f4,#edf2f5,#f2f5f6,#f5f6f7,#f7f7f7,#f7f5f4,#f8f4f2,#f8f4f2,#f8f4f2,#f8f4f2,#f7f5f4,#f7f7f7,#f7f7f7,#f5f6f7)"></i>
<i style="top:294px;background:linear-gradient(90deg,#f7f7f7,#f7f7f7,#f7f5f4,#f8f4f2,#f8f4f2,#f8f4f2,#f7f5f4,#f7f6f6,#f7f7f7,#f3f5f6,#eff3f5,#eaf1f5,#e6eff4,#e1edf3,#deebf2,#dbeaf2,#dae9f2,#d8e9f1,#d7e8f1,#d7e8f1,#d7e8f1,#d7e8f1,#d7e8f1,#d8e9f1,#dae9f2,#dbeaf2,#deebf2,#e1edf3,#e6eff4,#eaf1f5,#eff3f5,#f3f5f6,#f7f7f7,#f7f6f6,#f7f5f4,#f8f4f2,#f8f4f2,#f8f4f2,#f7f5f4,#f7f7f7,#f7f7f7)"></i>
<i style="top:296px;background:linear-gradient(90deg,#f7f7f7,#f7f5f4,#f8f4f2,#f8f4f2,#f8f4f2,#f7f5f4,#f7f7f7,#f5f6f7,#f2f5f6,#eff3f5,#eaf1f5,#e6eff4,#e1edf3,#deebf2,#dbeaf2,#dae9f2,#d8e9f1,#d8e9f1,#d8e9f1,#d8e9f1,#d8e9f1,#d8e9f1,#d8e9f1,#d8e9f1,#d8e9f1,#dae9f2,#dbeaf2,#deebf2,#e1edf3,#e6eff4,#eaf1f5,#eff3f5,#f2f5f6,#f5f6f7,#f7f7f7,#f7f5f4,#f8f4f2,#f8f4f2,#f8f4f2,#f7f5f4,#f7f7f7)"></i>
<i style="top:298px;background:linear-gradient(90deg,#f7f5f4,#f8f4f2,#f8f3f0,#f8f4f2,#f7f5f4,#f7f7f7,#f5f6f7,#f2f5f6,#eff3f5,#eaf1f5,#e6eff4,#e3edf3,#e0ecf3,#deebf2,#ddebf2,#ddebf2,#deebf2,#deebf2,#e0ecf3,#e0ecf3,#e0ecf3,#e0ecf3,#e0ecf3,#deebf2,#deebf2,#ddebf2,#ddebf2,#deebf2,#e0ecf3,#e3edf3,#e6eff4,#eaf1f5,#eff3f5,#f2f5f6,#f5f6f7,#f7f7f7,#f7f5f4,#f8f4f2,#f8f3f0,#f8f4f2,#f7f5f4)"></i>
<i style="top:300px;background:linear-gradient(90deg,#f8f4f2,#f8f3f0,#f8f3f0,#f8f4f2,#f7f7f7,#f6f7f7,#f3f5f6,#f0f4f6,#ecf2f5,#e9f0f4,#e6eff4,#e3edf3,#e3edf3,#e3edf3,#e4eef4,#e6eff4,#e9f0f4,#eaf1f5,#ecf2f5,#edf2f5,#edf2f5,#edf2f5,#ecf2f5,#eaf1f5,#e9f0f4,#e6eff4,#e4eef4,#e3edf3,#e3edf3,#e3edf3,#e6eff4,#e9f0f4,#ecf2f5,#f0f4f6,#f3f5f6,#f6f7f7,#f7f7f7,#f8f4f2,#f8f3f0,#f8f3f0,#f8f4f2)"></i>
<i style="top:302px;background:linear-gradient(90deg,#f8f4f2,#f8f3f0,#f8f4f2,#f7f5f4,#f7f7f7,#f3f5f6,#f0f4f6,#edf2f5,#ecf2f5,#e9f0f4,#e7f0f4,#e7f0f4,#e9f0f4,#ecf2f5,#eff3f5,#f3f5f6,#f7f7f7,#f7f5f4,#f8f3f0,#f8f2ef,#f8f2ef,#f8f2ef,#f8f3f0,#f7f5f4,#f7f7f7,#f3f5f6,#eff3f5,#ecf2f5,#e9f0f4,#e7f0f4,#e7f0f4,#e9f0f4,#ecf2f5,#edf2f5,#f0f4f6,#f3f5f6,#f7f7f7,#f7f5f4,#f8f4f2,#f8f3f0,#f8f4f2)"></i>
<i style="top:304px;background:linear-gradient(90deg,#f8f3f0,#f8f4f2,#f7f5f4,#f7f7f7,#f5f6f7,#f2f5f6,#f0f4f6,#edf2f5,#ecf2f5,#ecf2f5,#edf2f5,#f0f4f6,#f3f5f6,#f7f6f6,#f8f2ef,#f9efe9,#f9ebe3,#fae9df,#fae7dc,#fbe6da,#fbe6da,#fbe6da,#fae7dc,#fae9df,#f9ebe3,#f9efe9,#f8f2ef,#f7f6f6,#f3f5f6,#f0f4f6,#edf2f5,#ecf2f5,#ecf2f5,#edf2f5,#f0f4f6,#f2f5f6,#f5f6f7,#f7f7f7,#f7f5f4,#f8f4f2,#f8f3f0)"></i>
<i style="top:306px;background:linear-gradient(90deg,#f8f4f2,#f7f5f4,#f7f7f7,#f5f6f7,#f2f5f6,#f0f4f6,#f0f4f6,#eff3f5,#f0f4f6,#f2f5f6,#f5f6f7,#f7f5f4,#f8f1ed,#f9ebe3,#fae7dc,#fbe4d6,#fce0d0,#fcdecd,#fddcc9,#fddbc7,#fddbc7,#fddbc7,#fddcc9,#fcdecd,#fce0d0,#fbe4d6,#fae7dc,#f9ebe3,#f8f1ed,#f7f5f4,#f5f6f7,#f2f5f6,#f0f4f6,#eff3f5,#f0f4f6,#f0f4f6,#f2f5f6,#f5f6f7,#f7f7f7,#f7f5f4,#f8f4f2)"></i>
<i style="top:308px;background:linear-gradient(90deg,#f7f5f4,#f7f7f7,#f5f6f7,#f2f5f6,#f2f5f6,#f2f5f6,#f2f5f6,#f2f5f6,#f5f6f7,#f7f5f4,#f8f2ef,#f9ede5,#fae8de,#fbe3d4,#fcdecd,#fddbc7,#fcd5bf,#fbd0b9,#fbceb7,#fbceb7,#fbceb7,#fbceb7,#fbceb7,#fbd0b9,#fcd5bf,#fddbc7,#fcdecd,#fbe3d4,#fae8de,#f9ede5,#f8f2ef,#f7f5f4,#f5f6f7,#f2f5f6,#f2f5f6,#f2f5f6,#f2f5f6,#f2f5f6,#f5f6f7,#f7f7f7,#f7f5f4)"></i>
<i style="top:310px;background:linear-gradient(90deg,#f7f7f7,#f5f6f7,#f2f5f6,#f2f5f6,#f2f5f6,#f2f5f6,#f3f5f6,#f7f7f7,#f8f4f2,#f9f0eb,#f9ebe3,#fbe6da,#fce0d0,#fddcc9,#fcd7c2,#fbd0b9,#fbceb7,#fbccb4,#facab1,#facab1,#facab1,#facab1,#facab1,#fbccb4,#fbceb7,#fbd0b9,#fcd7c2,#fddcc9,#fce0d0,#fbe6da,#f9ebe3,#f9f0eb,#f8f4f2,#f7f7f7,#f3f5f6,#f2f5f6,#f2f5f6,#f2f5f6,#f2f5f6,#f5f6f7,#f7f7f7)"></i>
<i style="top:312px;background:linear-gradient(90deg,#f5f6f7,#f2f5f6,#f0f4f6,#f0f4f6,#f2f5f6,#f5f6f7,#f7f7f7,#f8f3f0,#f9f0eb,#f9ebe3,#fbe6da,#fce0d0,#fdddcb,#fdd9c4,#fcd5bf,#fcd3bc,#fcd3bc,#fcd3bc,#fcd3bc,#fcd5bf,#fcd5bf,#fcd5bf,#fcd3bc,#fcd3bc,#fcd3bc,#fcd3bc,#fcd5bf,#fdd9c4,#fdddcb,#fce0d0,#fbe6da,#f9ebe3,#f9f0eb,#f8f3f0,#f7f7f7,#f5f6f7,#f2f5f6,#f0f4f6,#f0f4f6,#f2f5f6,#f5f6f7)"></i>
<i style="top:314px;background:linear-gradient(90deg,#f3f5f6,#f0f4f6,#f0f4f6,#f2f5f6,#f3f5f6,#f7f7f7,#f8f4f2,#f9f0eb,#f9ebe3,#fae7dc,#fbe3d4,#fcdfcf,#fdddcb,#fddcc9,#fddcc9,#fdddcb,#fcdecd,#fce0d0,#fce2d2,#fbe3d4,#fbe3d4,#fbe3d4,#fce2d2,#fce0d0,#fcdecd,#fdddcb,#fddcc9,#fddcc9,#fdddcb,#fcdfcf,#fbe3d4,#fae7dc,#f9ebe3,#f9f0eb,#f8f4f2,#f7f7f7,#f3f5f6,#f2f5f6,#f0f4f6,#f0f4f6,#f3f5f6)"></i>
<i style="top:316px;background:linear-gradient(90deg,#f2f5f6,#f0f4f6,#f0f4f6,#f3f5f6,#f7f7f7,#f8f4f2,#f8f1ed,#f9eee7,#fae9df,#fbe6da,#fbe4d6,#fbe3d4,#fbe3d4,#fbe4d6,#fbe6da,#fae9df,#f9ede5,#f9efe9,#f8f1ed,#f8f2ef,#f8f3f0,#f8f2ef,#f8f1ed,#f9efe9,#f9ede5,#fae9df,#fbe6da,#fbe4d6,#fbe3d4,#fbe3d4,#fbe4d6,#fbe6da,#fae9df,#f9eee7,#f8f1ed,#f8f4f2,#f7f7f7,#f3f5f6,#f0f4f6,#f0f4f6,#f2f5f6)"></i>
<i style="top:318px;background:linear-gradient(90deg,#f0f4f6,#f0f4f6,#f2f5f6,#f6f7f7,#f7f5f4,#f8f2ef,#f9efe9,#f9ede5,#fae9df,#fae8de,#fae8de,#fae9df,#f9ebe3,#f9f0eb,#f8f4f2,#f5f6f7,#eff3f5,#eaf1f5,#e6eff4,#e4eef4,#e3edf3,#e4eef4,#e6eff4,#eaf1f5,#eff3f5,#f5f6f7,#f8f4f2,#f9f0eb,#f9ebe3,#fae9df,#fae8de,#fae8de,#fae9df,#f9ede5,#f9efe9,#f8f2ef,#f7f5f4,#f6f7f7,#f2f5f6,#f0f4f6,#f0f4f6)"></i>
<i style="top:320px;background:linear-gradient(90deg,#f0f4f6,#f2f5f6,#f5f6f7,#f7f5f4,#f8f3f0,#f8f1ed,#f9efe9,#f9ede5,#f9ede5,#f9ede5,#f9efe9,#f8f3f0,#f5f6f7,#edf2f5,#e4eef4,#ddebf2,#d7e8f1,#d1e5f0,#cce2ef,#cae1ee,#c7e0ed,#cae1ee,#cce2ef,#d1e5f0,#d7e8f1,#ddebf2,#e4eef4,#edf2f5,#f5f6f7,#f8f3f0,#f9efe9,#f9ede5,#f9ede5,#f9ede5,#f9efe9,#f8f1ed,#f8f3f0,#f7f5f4,#f5f6f7,#f2f5f6,#f0f4f6)"></i>
<i style="top:322px;background:linear-gradient(90deg,#f2f5f6,#f5f6f7,#f7f6f6,#f8f3f0,#f8f1ed,#f9f0eb,#f9f0eb,#f9f0eb,#f8f1ed,#f8f4f2,#f5f6f7,#ecf2f5,#e3edf3,#dae9f2,#cfe4ef,#c2ddec,#b8d8e9,#b1d5e7,#acd2e5,#a9d1e5,#a9d1e5,#a9d1e5,#acd2e5,#b1d5e7,#b8d8e9,#c2ddec,#cfe4ef,#dae9f2,#e3edf3,#ecf2f5,#f5f6f7,#f8f4f2,#f8f1ed,#f9f0eb,#f9f0eb,#f9f0eb,#f8f1ed,#f8f3f0,#f7f6f6,#f5f6f7,#f2f5f6)"></i>
<i style="top:324px;background:linear-gradient(90deg,#f5f6f7,#f7f7f7,#f8f3f0,#f8f1ed,#f8f1ed,#f8f1ed,#f8f2ef,#f8f3f0,#f7f7f7,#f0f4f6,#e7f0f4,#ddebf2,#d2e6f0,#c2ddec,#b6d7e8,#a9d1e5,#a2cde3,#9dcbe1,#9bc9e0,#9bc9e0,#9bc9e0,#9bc9e0,#9bc9e0,#9dcbe1,#a2cde3,#a9d1e5,#b6d7e8,#c2ddec,#d2e6f0,#ddebf2,#e7f0f4,#f0f4f6,#f7f7f7,#f8f3f0,#f8f2ef,#f8f1ed,#f8f1ed,#f8f1ed,#f8f3f0,#f7f7f7,#f5f6f7)"></i>
<i style="top:326px;background:linear-gradient(90deg,#f7f7f7,#f8f3f0,#f8f1ed,#f9f0eb,#f8f1ed,#f8f2ef,#f7f5f4,#f5f6f7,#edf2f5,#e4eef4,#dbeaf2,#d1e5f0,#c0dceb,#b3d6e8,#a9d1e5,#a2cde3,#a0cce2,#9dcbe1,#9dcbe1,#9dcbe1,#9dcbe1,#9dcbe1,#9dcbe1,#9dcbe1,#a0cce2,#a2cde3,#a9d1e5,#b3d6e8,#c0dceb,#d1e5f0,#dbeaf2,#e4eef4,#edf2f5,#f5f6f7,#f7f5f4,#f8f2ef,#f8f1ed,#f9f0eb,#f8f1ed,#f8f3f0,#f7f7f7)"></i>
<i style="top:328px;background:linear-gradient(90deg,#f8f4f2,#f8f1ed,#f9f0eb,#f8f1ed,#f8f2ef,#f7f5f4,#f5f6f7,#edf2f5,#e6eff4,#dbeaf2,#d2e6f0,#c5dfec,#b8d8e9,#b1d5e7,#aed3e6,#aed3e6,#aed3e6,#b1d5e7,#b3d6e8,#b6d7e8,#b6d7e8,#b6d7e8,#b3d6e8,#b1d5e7,#aed3e6,#aed3e6,#aed3e6,#b1d5e7,#b8d8e9,#c5dfec,#d2e6f0,#dbeaf2,#e6eff4,#edf2f5,#f5f6f7,#f7f5f4,#f8f2ef,#f8f1ed,#f9f0eb,#f8f1ed,#f8f4f2)"></i>
<i style="top:330px;background:linear-gradient(90deg,#f8f2ef,#f9f0eb,#f9f0eb,#f8f2ef,#f7f5f4,#f5f6f7,#eff3f5,#e7f0f4,#deebf2,#d7e8f1,#cfe4ef,#c7e0ed,#c2ddec,#c2ddec,#c5dfec,#cae1ee,#d1e5f0,#d5e7f1,#d8e9f1,#dae9f2,#dbeaf2,#dae9f2,#d8e9f1,#d5e7f1,#d1e5f0,#cae1ee,#c5dfec,#c2ddec,#c2ddec,#c7e0ed,#cfe4ef,#d7e8f1,#deebf2,#e7f0f4,#eff3f5,#f5f6f7,#f7f5f4,#f8f2ef,#f9f0eb,#f9f0eb,#f8f2ef)"></i>
<i style="top:332px;background:linear-gradient(90deg,#f9f0eb,#f9efe9,#f8f1ed,#f8f4f2,#f6f7f7,#f0f4f6,#eaf1f5,#e3edf3,#ddebf2,#d7e8f1,#d4e6f1,#d2e6f0,#d5e7f1,#dae9f2,#e0ecf3,#e7f0f4,#eff3f5,#f5f6f7,#f7f5f4,#f8f4f2,#f8f3f0,#f8f4f2,#f7f5f4,#f5f6f7,#eff3f5,#e7f0f4,#e0ecf3,#dae9f2,#d5e7f1,#d2e6f0,#d4e6f1,#d7e8f1,#ddebf2,#e3edf3,#eaf1f5,#f0f4f6,#f6f7f7,#f8f4f2,#f8f1ed,#f9efe9,#f9f0eb)"></i>
<i style="top:334px;background:linear-gradient(90deg,#f9f0eb,#f9f0eb,#f8f3f0,#f7f7f7,#f2f5f6,#ecf2f5,#e7f0f4,#e3edf3,#deebf2,#ddebf2,#deebf2,#e3edf3,#eaf1f5,#f3f5f6,#f8f2ef,#f9ebe3,#fbe5d8,#fcdfcf,#fddcc9,#fdd9c4,#fdd9c4,#fdd9c4,#fddcc9,#fcdfcf,#fbe5d8,#f9ebe3,#f8f2ef,#f3f5f6,#eaf1f5,#e3edf3,#deebf2,#ddebf2,#deebf2,#e3edf3,#e7f0f4,#ecf2f5,#f2f5f6,#f7f7f7,#f8f3f0,#f9f0eb,#f9f0eb)"></i>
<i style="top:336px;background:linear-gradient(90deg,#f8f1ed,#f8f2ef,#f7f7f7,#f2f5f6,#edf2f5,#eaf1f5,#e7f0f4,#e4eef4,#e4eef4,#e7f0f4,#eff3f5,#f7f7f7,#f9eee7,#fbe5d8,#fddcc9,#fbceb7,#f9c2a7,#f7b799,#f6b191,#f6af8e,#f5ac8b,#f6af8e,#f6b191,#f7b799,#f9c2a7,#fbceb7,#fddcc9,#fbe5d8,#f9eee7,#f7f7f7,#eff3f5,#e7f0f4,#e4eef4,#e4eef4,#e7f0f4,#eaf1f5,#edf2f5,#f2f5f6,#f7f7f7,#f8f2ef,#f8f1ed)"></i>
<i style="top:338px;background:linear-gradient(90deg,#f8f2ef,#f7f5f4,#f3f5f6,#eff3f5,#ecf2f5,#eaf1f5,#eaf1f5,#ecf2f5,#eff3f5,#f7f7f7,#f9f0eb,#fbe6da,#fddcc9,#facab1,#f7b99c,#f5aa89,#f19e7d,#ec9374,#ea8e70,#e98b6e,#e98b6e,#e98b6e,#ea8e70,#ec9374,#f19e7d,#f5aa89,#f7b99c,#facab1,#fddcc9,#fbe6da,#f9f0eb,#f7f7f7,#eff3f5,#ecf2f5,#eaf1f5,#eaf1f5,#ecf2f5,#eff3f5,#f3f5f6,#f7f5f4,#f8f2ef)"></i>
<i style="top:340px;background:linear-gradient(90deg,#f7f5f4,#f3f5f6,#eff3f5,#ecf2f5,#eaf1f5,#ecf2f5,#eff3f5,#f3f5f6,#f8f3f0,#f9ebe3,#fce2d2,#fcd5bf,#f8bfa4,#f6af8e,#f2a17f,#ec9374,#e8896c,#e58368,#e48066,#e48066,#e48066,#e48066,#e48066,#e58368,#e8896c,#ec9374,#f2a17f,#f6af8e,#f8bfa4,#fcd5bf,#fce2d2,#f9ebe3,#f8f3f0,#f3f5f6,#eff3f5,#ecf2f5,#eaf1f5,#ecf2f5,#eff3f5,#f3f5f6,#f7f5f4)"></i>
<i style="top:342px;background:linear-gradient(90deg,#f5f6f7,#eff3f5,#eaf1f5,#eaf1f5,#edf2f5,#f0f4f6,#f7f7f7,#f8f2ef,#faeae1,#fce0d0,#fcd3bc,#f8bfa4,#f6b191,#f3a481,#ef9979,#ec9374,#eb9172,#eb9172,#eb9172,#ec9374,#ec9374,#ec9374,#eb9172,#eb9172,#eb9172,#ec9374,#ef9979,#f3a481,#f6b191,#f8bfa4,#fcd3bc,#fce0d0,#faeae1,#f8f2ef,#f7f7f7,#f0f4f6,#edf2f5,#eaf1f5,#eaf1f5,#eff3f5,#f5f6f7)"></i>
<i style="top:344px;background:linear-gradient(90deg,#f0f4f6,#eaf1f5,#e9f0f4,#ecf2f5,#f0f4f6,#f7f7f7,#f8f2ef,#faeae1,#fbe3d4,#fdd9c4,#fac8af,#f7b99c,#f6b191,#f5aa89,#f5aa89,#f5ac8b,#f6b191,#f7b596,#f7b99c,#f8bda1,#f8bda1,#f8bda1,#f7b99c,#f7b596,#f6b191,#f5ac8b,#f5aa89,#f5aa89,#f6b191,#f7b99c,#fac8af,#fdd9c4,#fbe3d4,#faeae1,#f8f2ef,#f7f7f7,#f0f4f6,#ecf2f5,#e9f0f4,#eaf1f5,#f0f4f6)"></i>
<i style="top:346px;background:linear-gradient(90deg,#ecf2f5,#e9f0f4,#eaf1f5,#eff3f5,#f5f6f7,#f8f3f0,#f9ede5,#fbe5d8,#fdddcb,#fcd3bc,#fac8af,#f9c2a7,#f8bfa4,#f9c4a9,#fbccb4,#fcd5bf,#fdddcb,#fce2d2,#fbe5d8,#fae7dc,#fae8de,#fae7dc,#fbe5d8,#fce2d2,#fdddcb,#fcd5bf,#fbccb4,#f9c4a9,#f8bfa4,#f9c2a7,#fac8af,#fcd3bc,#fdddcb,#fbe5d8,#f9ede5,#f8f3f0,#f5f6f7,#eff3f5,#eaf1f5,#e9f0f4,#ecf2f5)"></i>
<i style="top:348px;background:linear-gradient(90deg,#eaf1f5,#e9f0f4,#edf2f5,#f3f5f6,#f8f4f2,#f9efe9,#fae8de,#fbe3d4,#fdddcb,#fcd7c2,#fcd5bf,#fdd9c4,#fcdecd,#fbe4d6,#f9ebe3,#f8f3f0,#f2f5f6,#eaf1f5,#e4eef4,#e0ecf3,#deebf2,#e0ecf3,#e4eef4,#eaf1f5,#f2f5f6,#f8f3f0,#f9ebe3,#fbe4d6,#fcdecd,#fdd9c4,#fcd5bf,#fcd7c2,#fdddcb,#fbe3d4,#fae8de,#f9efe9,#f8f4f2,#f3f5f6,#edf2f5,#e9f0f4,#eaf1f5)"></i>
<i style="top:350px;background:linear-gradient(90deg,#eaf1f5,#ecf2f5,#f2f5f6,#f7f5f4,#f9f0eb,#f9ebe3,#fae7dc,#fbe4d6,#fce2d2,#fce2d2,#fbe5d8,#f9ebe3,#f8f4f2,#edf2f5,#e0ecf3,#d2e6f0,#c2ddec,#b3d6e8,#a9d1e5,#a2cde3,#a2cde3,#a2cde3,#a9d1e5,#b3d6e8,#c2ddec,#d2e6f0,#e0ecf3,#edf2f5,#f8f4f2,#f9ebe3,#fbe5d8,#fce2d2,#fce2d2,#fbe4d6,#fae7dc,#f9ebe3,#f9f0eb,#f7f5f4,#f2f5f6,#ecf2f5,#eaf1f5)"></i>
<i style="top:352px;background:linear-gradient(90deg,#edf2f5,#f0f4f6,#f7f7f7,#f8f1ed,#f9ede5,#faeae1,#fae8de,#fae7dc,#fae9df,#f9eee7,#f7f5f4,#eaf1f5,#dbeaf2,#c7e0ed,#acd2e5,#96c7df,#81bad8,#71b0d3,#68abd0,#62a7ce,#5fa5cd,#62a7ce,#68abd0,#71b0d3,#81bad8,#96c7df,#acd2e5,#c7e0ed,#dbeaf2,#eaf1f5,#f7f5f4,#f9eee7,#fae9df,#fae7dc,#fae8de,#faeae1,#f9ede5,#f8f1ed,#f7f7f7,#f0f4f6,#edf2f5)"></i>
<i style="top:354px;background:linear-gradient(90deg,#f0f4f6,#f7f7f7,#f8f1ed,#f9eee7,#f9ebe3,#f9ebe3,#f9ebe3,#f9efe9,#f8f4f2,#eff3f5,#e0ecf3,#cfe4ef,#b1d5e7,#96c7df,#7bb6d6,#62a7ce,#4f9bc7,#4695c4,#4291c2,#408fc1,#408fc1,#408fc1,#4291c2,#4695c4,#4f9bc7,#62a7ce,#7bb6d6,#96c7df,#b1d5e7,#cfe4ef,#e0ecf3,#eff3f5,#f8f4f2,#f9efe9,#f9ebe3,#f9ebe3,#f9ebe3,#f9eee7,#f8f1ed,#f7f7f7,#f0f4f6)"></i>
<i style="top:356px;background:linear-gradient(90deg,#f7f7f7,#f8f2ef,#f9eee7,#f9ebe3,#f9ebe3,#f9eee7,#f8f2ef,#f7f7f7,#eaf1f5,#dbeaf2,#c7e0ed,#a9d1e5,#8dc2dc,#71b0d3,#5ca3cb,#4c99c6,#4393c3,#4291c2,#4291c2,#4291c2,#4291c2,#4291c2,#4291c2,#4291c2,#4393c3,#4c99c6,#5ca3cb,#71b0d3,#8dc2dc,#a9d1e5,#c7e0ed,#dbeaf2,#eaf1f5,#f7f7f7,#f8f2ef,#f9eee7,#f9ebe3,#f9ebe3,#f9eee7,#f8f2ef,#f7f7f7)"></i>
<i style="top:358px;background:linear-gradient(90deg,#f8f3f0,#f9eee7,#faeae1,#f9ebe3,#f9efe9,#f8f3f0,#f5f6f7,#e9f0f4,#dbeaf2,#c7e0ed,#acd2e5,#96c7df,#7bb6d6,#6bacd1,#62a7ce,#5fa5cd,#5fa5cd,#62a7ce,#68abd0,#6bacd1,#6eaed2,#6bacd1,#68abd0,#62a7ce,#5fa5cd,#5fa5cd,#62a7ce,#6bacd1,#7bb6d6,#96c7df,#acd2e5,#c7e0ed,#dbeaf2,#e9f0f4,#f5f6f7,#f8f3f0,#f9efe9,#f9ebe3,#faeae1,#f9eee7,#f8f3f0)"></i>
<i style="top:360px;background:linear-gradient(90deg,#f9efe9,#faeae1,#faeae1,#f9eee7,#f8f2ef,#f5f6f7,#eaf1f5,#deebf2,#cfe4ef,#b8d8e9,#a5cee3,#93c6de,#8ac0db,#87beda,#8ac0db,#93c6de,#9dcbe1,#a7d0e4,#aed3e6,#b3d6e8,#b6d7e8,#b3d6e8,#aed3e6,#a7d0e4,#9dcbe1,#93c6de,#8ac0db,#87beda,#8ac0db,#93c6de,#a5cee3,#b8d8e9,#cfe4ef,#deebf2,#eaf1f5,#f5f6f7,#f8f2ef,#f9eee7,#faeae1,#faeae1,#f9efe9)"></i>
<i style="top:362px;background:linear-gradient(90deg,#f9ebe3,#fae9df,#f9ebe3,#f8f1ed,#f7f7f7,#ecf2f5,#e1edf3,#d7e8f1,#c7e0ed,#b6d7e8,#acd2e5,#a9d1e5,#acd2e5,#b8d8e9,#c5dfec,#d4e6f1,#deebf2,#e7f0f4,#edf2f5,#f2f5f6,#f3f5f6,#f2f5f6,#edf2f5,#e7f0f4,#deebf2,#d4e6f1,#c5dfec,#b8d8e9,#acd2e5,#a9d1e5,#acd2e5,#b6d7e8,#c7e0ed,#d7e8f1,#e1edf3,#ecf2f5,#f7f7f7,#f8f1ed,#f9ebe3,#fae9df,#f9ebe3)"></i>
<i style="top:364px;background:linear-gradient(90deg,#faeae1,#faeae1,#f9efe9,#f7f6f6,#eff3f5,#e6eff4,#ddebf2,#d4e6f1,#cce2ef,#c5dfec,#c7e0ed,#d1e5f0,#dbeaf2,#e7f0f4,#f7f7f7,#f9eee7,#fbe4d6,#fddcc9,#fcd5bf,#fbceb7,#fbccb4,#fbceb7,#fcd5bf,#fddcc9,#fbe4d6,#f9eee7,#f7f7f7,#e7f0f4,#dbeaf2,#d1e5f0,#c7e0ed,#c5dfec,#cce2ef,#d4e6f1,#ddebf2,#e6eff4,#eff3f5,#f7f6f6,#f9efe9,#faeae1,#faeae1)"></i>
<i style="top:366px;background:linear-gradient(90deg,#f9ebe3,#f9efe9,#f8f4f2,#f0f4f6,#e9f0f4,#e1edf3,#ddebf2,#d8e9f1,#d7e8f1,#dae9f2,#e3edf3,#f0f4f6,#f9f0eb,#fbe3d4,#fbd0b9,#f8bb9e,#f5a886,#ee9677,#e98b6e,#e58368,#e58368,#e58368,#e98b6e,#ee9677,#f5a886,#f8bb9e,#fbd0b9,#fbe3d4,#f9f0eb,#f0f4f6,#e3edf3,#dae9f2,#d7e8f1,#d8e9f1,#ddebf2,#e1edf3,#e9f0f4,#f0f4f6,#f8f4f2,#f9efe9,#f9ebe3)"></i>
<i style="top:368px;background:linear-gradient(90deg,#f9efe9,#f8f3f0,#f2f5f6,#eaf1f5,#e4eef4,#e1edf3,#e0ecf3,#e1edf3,#e7f0f4,#f0f4f6,#f8f1ed,#fbe3d4,#fbceb7,#f6b394,#ee9677,#e27b62,#d86551,#d25849,#ce4f45,#cb4942,#c94741,#cb4942,#ce4f45,#d25849,#d86551,#e27b62,#ee9677,#f6b394,#fbceb7,#fbe3d4,#f8f1ed,#f0f4f6,#e7f0f4,#e1edf3,#e0ecf3,#e1edf3,#e4eef4,#eaf1f5,#f2f5f6,#f8f3f0,#f9efe9)"></i>
<i style="top:370px;background:linear-gradient(90deg,#f8f3f0,#f3f5f6,#eaf1f5,#e6eff4,#e4eef4,#e4eef4,#e9f0f4,#eff3f5,#f7f5f4,#fae9df,#fddcc9,#f8bfa4,#f2a17f,#e48066,#d86551,#cf5246,#c6413e,#c2383a,#c13639,#bf3338,#bf3338,#bf3338,#c13639,#c2383a,#c6413e,#cf5246,#d86551,#e48066,#f2a17f,#f8bfa4,#fddcc9,#fae9df,#f7f5f4,#eff3f5,#e9f0f4,#e4eef4,#e4eef4,#e6eff4,#eaf1f5,#f3f5f6,#f8f3f0)"></i>
<i style="top:372px;background:linear-gradient(90deg,#f5f6f7,#ecf2f5,#e4eef4,#e3edf3,#e6eff4,#ecf2f5,#f3f5f6,#f8f2ef,#fae7dc,#fcd7c2,#f8bb9e,#f19e7d,#e48066,#da6853,#d05548,#cc4c44,#c94741,#c94741,#c94741,#cb4942,#cb4942,#cb4942,#c94741,#c94741,#c94741,#cc4c44,#d05548,#da6853,#e48066,#f19e7d,#f8bb9e,#fcd7c2,#fae7dc,#f8f2ef,#f3f5f6,#ecf2f5,#e6eff4,#e3edf3,#e4eef4,#ecf2f5,#f5f6f7)"></i>
<i style="top:374px;background:linear-gradient(90deg,#edf2f5,#e6eff4,#e1edf3,#e4eef4,#ecf2f5,#f5f6f7,#f8f1ed,#fae7dc,#fddbc7,#f9c2a7,#f5a886,#ea8e70,#e27b62,#dd7059,#db6b55,#dc6e57,#de735c,#e27b62,#e58368,#e8896c,#e8896c,#e8896c,#e58368,#e27b62,#de735c,#dc6e57,#db6b55,#dd7059,#e27b62,#ea8e70,#f5a886,#f9c2a7,#fddbc7,#fae7dc,#f8f1ed,#f5f6f7,#ecf2f5,#e4eef4,#e1edf3,#e6eff4,#edf2f5)"></i>
<i style="top:376px;background:linear-gradient(90deg,#e7f0f4,#e1edf3,#e3edf3,#e9f0f4,#f3f5f6,#f8f2ef,#fae9df,#fcdecd,#fbccb4,#f7b799,#f5a886,#f09c7b,#ee9677,#ef9979,#f3a481,#f6af8e,#f8bb9e,#f9c6ac,#fbd0b9,#fcd5bf,#fcd7c2,#fcd5bf,#fbd0b9,#f9c6ac,#f8bb9e,#f6af8e,#f3a481,#ef9979,#ee9677,#f09c7b,#f5a886,#f7b799,#fbccb4,#fcdecd,#fae9df,#f8f2ef,#f3f5f6,#e9f0f4,#e3edf3,#e1edf3,#e7f0f4)"></i>
<i style="top:378px;background:linear-gradient(90deg,#e4eef4,#e1edf3,#e6eff4,#f0f4f6,#f8f4f2,#f9ebe3,#fbe3d4,#fdd9c4,#facab1,#f8bda1,#f7b799,#f7b99c,#f9c2a7,#fbd0b9,#fcdfcf,#fae9df,#f8f2ef,#f3f5f6,#eaf1f5,#e6eff4,#e4eef4,#e6eff4,#eaf1f5,#f3f5f6,#f8f2ef,#fae9df,#fcdfcf,#fbd0b9,#f9c2a7,#f7b99c,#f7b799,#f8bda1,#facab1,#fdd9c4,#fbe3d4,#f9ebe3,#f8f4f2,#f0f4f6,#e6eff4,#e1edf3,#e4eef4)"></i>
<i style="top:380px;background:linear-gradient(90deg,#e3edf3,#e4eef4,#edf2f5,#f7f5f4,#f9eee7,#fae7dc,#fce0d0,#fdd9c4,#fcd3bc,#fbd0b9,#fdd9c4,#fce0d0,#f9ebe3,#f7f7f7,#e4eef4,#d4e6f1,#bddbea,#a9d1e5,#9dcbe1,#96c7df,#93c6de,#96c7df,#9dcbe1,#a9d1e5,#bddbea,#d4e6f1,#e4eef4,#f7f7f7,#f9ebe3,#fce0d0,#fdd9c4,#fbd0b9,#fcd3bc,#fdd9c4,#fce0d0,#fae7dc,#f9eee7,#f7f5f4,#edf2f5,#e4eef4,#e3edf3)"></i>
<i style="top:382px;background:linear-gradient(90deg,#e6eff4,#ecf2f5,#f7f7f7,#f9f0eb,#fae9df,#fbe5d8,#fce2d2,#fcdfcf,#fce0d0,#fbe6da,#f9f0eb,#f0f4f6,#dbeaf2,#c0dceb,#a0cce2,#81bad8,#62a7ce,#4f9bc7,#4291c2,#3f8ec0,#3e8cbf,#3f8ec0,#4291c2,#4f9bc7,#62a7ce,#81bad8,#a0cce2,#c0dceb,#dbeaf2,#f0f4f6,#f9f0eb,#fbe6da,#fce0d0,#fcdfcf,#fce2d2,#fbe5d8,#fae9df,#f9f0eb,#f7f7f7,#ecf2f5,#e6eff4)"></i>
<i style="top:384px;background:linear-gradient(90deg,#ecf2f5,#f5f6f7,#f9f0eb,#faeae1,#fae7dc,#fbe6da,#fbe6da,#fae9df,#f9f0eb,#f3f5f6,#e1edf3,#c7e0ed,#a2cde3,#7bb6d6,#569fc9,#3e8cbf,#337eb8,#2c75b4,#2a71b2,#276eb0,#276eb0,#276eb0,#2a71b2,#2c75b4,#337eb8,#3e8cbf,#569fc9,#7bb6d6,#a2cde3,#c7e0ed,#e1edf3,#f3f5f6,#f9f0eb,#fae9df,#fbe6da,#fbe6da,#fae7dc,#faeae1,#f9f0eb,#f5f6f7,#ecf2f5)"></i>
<i style="top:386px;background:linear-gradient(90deg,#f5f6f7,#f8f1ed,#faeae1,#fae7dc,#fae7dc,#fae9df,#f9eee7,#f7f5f4,#ecf2f5,#d8e9f1,#bbdaea,#96c7df,#6bacd1,#4695c4,#3885bc,#2f79b5,#2a71b2,#276eb0,#266caf,#266caf,#266caf,#266caf,#266caf,#276eb0,#2a71b2,#2f79b5,#3885bc,#4695c4,#6bacd1,#96c7df,#bbdaea,#d8e9f1,#ecf2f5,#f7f5f4,#f9eee7,#fae9df,#fae7dc,#fae7dc,#faeae1,#f8f1ed,#f5f6f7)"></i>
<i style="top:388px;background:linear-gradient(90deg,#f8f2ef,#faeae1,#fbe6da,#fbe6da,#faeae1,#f9f0eb,#f7f7f7,#e9f0f4,#d7e8f1,#bbdaea,#98c8e0,#71b0d3,#4f9bc7,#3f8ec0,#3885bc,#3681ba,#3681ba,#3783bb,#3885bc,#3b88be,#3b88be,#3b88be,#3885bc,#3783bb,#3681ba,#3681ba,#3885bc,#3f8ec0,#4f9bc7,#71b0d3,#98c8e0,#bbdaea,#d7e8f1,#e9f0f4,#f7f7f7,#f9f0eb,#faeae1,#fbe6da,#fbe6da,#faeae1,#f8f2ef)"></i>
<i style="top:390px;background:linear-gradient(90deg,#f9ede5,#fbe6da,#fbe5d8,#fae8de,#f9efe9,#f7f7f7,#e9f0f4,#dae9f2,#c2ddec,#a5cee3,#87beda,#6bacd1,#5ca3cb,#569fc9,#569fc9,#5fa5cd,#6bacd1,#7bb6d6,#84bcd9,#8dc2dc,#8dc2dc,#8dc2dc,#84bcd9,#7bb6d6,#6bacd1,#5fa5cd,#569fc9,#569fc9,#5ca3cb,#6bacd1,#87beda,#a5cee3,#c2ddec,#dae9f2,#e9f0f4,#f7f7f7,#f9efe9,#fae8de,#fbe5d8,#fbe6da,#f9ede5)"></i>
<i style="top:392px;background:linear-gradient(90deg,#fae8de,#fbe4d6,#fbe6da,#f9eee7,#f7f6f6,#ecf2f5,#deebf2,#cfe4ef,#b6d7e8,#a0cce2,#90c4dd,#87beda,#8ac0db,#96c7df,#a5cee3,#b6d7e8,#cae1ee,#d5e7f1,#ddebf2,#e3edf3,#e4eef4,#e3edf3,#ddebf2,#d5e7f1,#cae1ee,#b6d7e8,#a5cee3,#96c7df,#8ac0db,#87beda,#90c4dd,#a0cce2,#b6d7e8,#cfe4ef,#deebf2,#ecf2f5,#f7f6f6,#f9eee7,#fbe6da,#fbe4d6,#fae8de)"></i>
<i style="top:394px;background:linear-gradient(90deg,#fbe6da,#fbe5d8,#faeae1,#f8f4f2,#eff3f5,#e3edf3,#d7e8f1,#c7e0ed,#b8d8e9,#aed3e6,#aed3e6,#b6d7e8,#c7e0ed,#dae9f2,#e9f0f4,#f7f5f4,#f9ebe3,#fbe3d4,#fddcc9,#fcd7c2,#fcd5bf,#fcd7c2,#fddcc9,#fbe3d4,#f9ebe3,#f7f5f4,#e9f0f4,#dae9f2,#c7e0ed,#b6d7e8,#aed3e6,#aed3e6,#b8d8e9,#c7e0ed,#d7e8f1,#e3edf3,#eff3f5,#f8f4f2,#faeae1,#fbe5d8,#fbe6da)"></i>
<i style="top:396px;background:linear-gradient(90deg,#fae7dc,#fae9df,#f8f2ef,#f2f5f6,#e6eff4,#ddebf2,#d5e7f1,#cfe4ef,#cae1ee,#cfe4ef,#d8e9f1,#e6eff4,#f7f7f7,#fae8de,#fdd9c4,#f8bfa4,#f5aa89,#ee9677,#e8896c,#e48066,#e37e64,#e48066,#e8896c,#ee9677,#f5aa89,#f8bfa4,#fdd9c4,#fae8de,#f7f7f7,#e6eff4,#d8e9f1,#cfe4ef,#cae1ee,#cfe4ef,#d5e7f1,#ddebf2,#e6eff4,#f2f5f6,#f8f2ef,#fae9df,#fae7dc)"></i>
<i style="top:398px;background:linear-gradient(90deg,#faeae1,#f9f0eb,#f3f5f6,#e9f0f4,#e1edf3,#dbeaf2,#dae9f2,#dae9f2,#deebf2,#e9f0f4,#f7f5f4,#fbe6da,#fbd0b9,#f6b394,#eb9172,#de735c,#d35a4a,#c94741,#c43b3c,#c13639,#c13639,#c13639,#c43b3c,#c94741,#d35a4a,#de735c,#eb9172,#f6b394,#fbd0b9,#fbe6da,#f7f5f4,#e9f0f4,#deebf2,#dae9f2,#dae9f2,#dbeaf2,#e1edf3,#e9f0f4,#f3f5f6,#f9f0eb,#faeae1)"></i>
<i style="top:400px;background:linear-gradient(90deg,#f9f0eb,#f5f6f7,#e9f0f4,#e1edf3,#deebf2,#e0ecf3,#e3edf3,#e9f0f4,#f5f6f7,#f9ede5,#fdddcb,#f8bda1,#f09c7b,#df765e,#d05548,#c43b3c,#bb2a34,#b61f2e,#b3192c,#b1182b,#b1182b,#b1182b,#b3192c,#b61f2e,#bb2a34,#c43b3c,#d05548,#df765e,#f09c7b,#f8bda1,#fdddcb,#f9ede5,#f5f6f7,#e9f0f4,#e3edf3,#e0ecf3,#deebf2,#e1edf3,#e9f0f4,#f5f6f7,#f9f0eb)"></i>
<i style="top:402px;background:linear-gradient(90deg,#f7f7f7,#eaf1f5,#e1edf3,#deebf2,#e0ecf3,#e6eff4,#eff3f5,#f8f4f2,#fae8de,#fcd7c2,#f7b799,#ec9374,#dd7059,#d05548,#c53e3d,#be3036,#bb2a34,#ba2832,#ba2832,#bb2a34,#bb2a34,#bb2a34,#ba2832,#ba2832,#bb2a34,#be3036,#c53e3d,#d05548,#dd7059,#ec9374,#f7b799,#fcd7c2,#fae8de,#f8f4f2,#eff3f5,#e6eff4,#e0ecf3,#deebf2,#e1edf3,#eaf1f5,#f7f7f7)"></i>
<i style="top:404px;background:linear-gradient(90deg,#ecf2f5,#e1edf3,#dbeaf2,#deebf2,#e6eff4,#f0f4f6,#f8f2ef,#fae7dc,#fdd9c4,#f8bb9e,#f19e7d,#e37e64,#da6853,#d25849,#ce4f45,#ce4f45,#d05548,#d55d4c,#d7634f,#da6853,#db6b55,#da6853,#d7634f,#d55d4c,#d05548,#ce4f45,#ce4f45,#d25849,#da6853,#e37e64,#f19e7d,#f8bb9e,#fdd9c4,#fae7dc,#f8f2ef,#f0f4f6,#e6eff4,#deebf2,#dbeaf2,#e1edf3,#ecf2f5)"></i>
<i style="top:406px;background:linear-gradient(90deg,#e4eef4,#dbeaf2,#dbeaf2,#e3edf3,#eff3f5,#f8f3f0,#fae9df,#fdddcb,#f9c6ac,#f6af8e,#ef9979,#e6866a,#e37e64,#e48066,#e8896c,#ee9677,#f3a481,#f6af8e,#f7b99c,#f8bfa4,#f9c2a7,#f8bfa4,#f7b99c,#f6af8e,#f3a481,#ee9677,#e8896c,#e48066,#e37e64,#e6866a,#ef9979,#f6af8e,#f9c6ac,#fdddcb,#fae9df,#f8f3f0,#eff3f5,#e3edf3,#dbeaf2,#dbeaf2,#e4eef4)"></i>
<i style="top:408px;background:linear-gradient(90deg,#deebf2,#dbeaf2,#e0ecf3,#ecf2f5,#f7f5f4,#f9ebe3,#fce2d2,#fcd5bf,#f9c2a7,#f6b394,#f5aa89,#f5aa89,#f6b191,#f8bda1,#fbd0b9,#fcdecd,#fae8de,#f9f0eb,#f7f5f4,#f3f5f6,#f2f5f6,#f3f5f6,#f7f5f4,#f9f0eb,#fae8de,#fcdecd,#fbd0b9,#f8bda1,#f6b191,#f5aa89,#f5aa89,#f6b394,#f9c2a7,#fcd5bf,#fce2d2,#f9ebe3,#f7f5f4,#ecf2f5,#e0ecf3,#dbeaf2,#deebf2)"></i>
<i style="top:410px;background:linear-gradient(90deg,#ddebf2,#deebf2,#e9f0f4,#f7f7f7,#f9eee7,#fbe6da,#fcdecd,#fcd3bc,#facab1,#f9c6ac,#facab1,#fcd7c2,#fbe3d4,#f9f0eb,#f0f4f6,#deebf2,#d1e5f0,#bddbea,#aed3e6,#a7d0e4,#a5cee3,#a7d0e4,#aed3e6,#bddbea,#d1e5f0,#deebf2,#f0f4f6,#f9f0eb,#fbe3d4,#fcd7c2,#facab1,#f9c6ac,#facab1,#fcd3bc,#fcdecd,#fbe6da,#f9eee7,#f7f7f7,#e9f0f4,#deebf2,#ddebf2)"></i>
<i style="top:412px;background:linear-gradient(90deg,#e0ecf3,#e6eff4,#f3f5f6,#f9f0eb,#fae8de,#fbe3d4,#fcdecd,#fddcc9,#fddcc9,#fce0d0,#fae9df,#f7f5f4,#e4eef4,#cfe4ef,#aed3e6,#90c4dd,#71b0d3,#5ca3cb,#4f9bc7,#4695c4,#4393c3,#4695c4,#4f9bc7,#5ca3cb,#71b0d3,#90c4dd,#aed3e6,#cfe4ef,#e4eef4,#f7f5f4,#fae9df,#fce0d0,#fddcc9,#fddcc9,#fcdecd,#fbe3d4,#fae8de,#f9f0eb,#f3f5f6,#e6eff4,#e0ecf3)"></i>
<i style="top:414px;background:linear-gradient(90deg,#e7f0f4,#f2f5f6,#f8f1ed,#fae9df,#fbe5d8,#fbe3d4,#fbe3d4,#fbe5d8,#f9ebe3,#f7f5f4,#e7f0f4,#d2e6f0,#acd2e5,#87beda,#5fa5cd,#4291c2,#3783bb,#307ab6,#2c75b4,#2a71b2,#2a71b2,#2a71b2,#2c75b4,#307ab6,#3783bb,#4291c2,#5fa5cd,#87beda,#acd2e5,#d2e6f0,#e7f0f4,#f7f5f4,#f9ebe3,#fbe5d8,#fbe3d4,#fbe3d4,#fbe5d8,#fae9df,#f8f1ed,#f2f5f6,#e7f0f4)"></i>
<i style="top:416px;background:linear-gradient(90deg,#f0f4f6,#f8f2ef,#fae9df,#fbe5d8,#fbe5d8,#fae7dc,#f9ebe3,#f8f2ef,#f0f4f6,#deebf2,#c2ddec,#9dcbe1,#71b0d3,#4c99c6,#3a87bd,#307ab6,#2a71b2,#276eb0,#246aae,#246aae,#246aae,#246aae,#246aae,#276eb0,#2a71b2,#307ab6,#3a87bd,#4c99c6,#71b0d3,#9dcbe1,#c2ddec,#deebf2,#f0f4f6,#f8f2ef,#f9ebe3,#fae7dc,#fbe5d8,#fbe5d8,#fae9df,#f8f2ef,#f0f4f6)"></i>
<i style="top:418px;background:linear-gradient(90deg,#f8f3f0,#faeae1,#fbe4d6,#fbe4d6,#fae7dc,#f9eee7,#f7f5f4,#ecf2f5,#dae9f2,#c0dceb,#9dcbe1,#75b2d4,#529dc8,#3e8cbf,#3783bb,#337eb8,#327cb7,#337eb8,#3480b9,#3681ba,#3783bb,#3681ba,#3480b9,#337eb8,#327cb7,#337eb8,#3783bb,#3e8cbf,#529dc8,#75b2d4,#9dcbe1,#c0dceb,#dae9f2,#ecf2f5,#f7f5f4,#f9eee7,#fae7dc,#fbe4d6,#fbe4d6,#faeae1,#f8f3f0)"></i>
<i style="top:420px;background:linear-gradient(90deg,#f9ebe3,#fbe4d6,#fce2d2,#fbe5d8,#f9ede5,#f7f5f4,#ecf2f5,#dbeaf2,#c5dfec,#a7d0e4,#87beda,#6bacd1,#569fc9,#4c99c6,#4c99c6,#529dc8,#5ca3cb,#68abd0,#71b0d3,#78b4d5,#7bb6d6,#78b4d5,#71b0d3,#68abd0,#5ca3cb,#529dc8,#4c99c6,#4c99c6,#569fc9,#6bacd1,#87beda,#a7d0e4,#c5dfec,#dbeaf2,#ecf2f5,#f7f5f4,#f9ede5,#fbe5d8,#fce2d2,#fbe4d6,#f9ebe3)"></i>
<i style="top:422px;background:linear-gradient(90deg,#fbe6da,#fce2d2,#fbe3d4,#faeae1,#f8f4f2,#edf2f5,#e0ecf3,#d1e5f0,#b6d7e8,#a0cce2,#8dc2dc,#81bad8,#81bad8,#8ac0db,#98c8e0,#a7d0e4,#b8d8e9,#c5dfec,#d1e5f0,#d5e7f1,#d7e8f1,#d5e7f1,#d1e5f0,#c5dfec,#b8d8e9,#a7d0e4,#98c8e0,#8ac0db,#81bad8,#81bad8,#8dc2dc,#a0cce2,#b6d7e8,#d1e5f0,#e0ecf3,#edf2f5,#f8f4f2,#faeae1,#fbe3d4,#fce2d2,#fbe6da)"></i>
<i style="top:424px;background:linear-gradient(90deg,#fbe3d4,#fce2d2,#fae7dc,#f8f1ed,#f0f4f6,#e4eef4,#d8e9f1,#c7e0ed,#b6d7e8,#acd2e5,#a7d0e4,#aed3e6,#bbdaea,#cfe4ef,#deebf2,#ecf2f5,#f7f5f4,#f9eee7,#fae7dc,#fbe4d6,#fbe3d4,#fbe4d6,#fae7dc,#f9eee7,#f7f5f4,#ecf2f5,#deebf2,#cfe4ef,#bbdaea,#aed3e6,#a7d0e4,#acd2e5,#b6d7e8,#c7e0ed,#d8e9f1,#e4eef4,#f0f4f6,#f8f1ed,#fae7dc,#fce2d2,#fbe3d4)"></i>
<i style="top:426px;background:linear-gradient(90deg,#fbe4d6,#fbe6da,#f9efe9,#f3f5f6,#e7f0f4,#deebf2,#d5e7f1,#cce2ef,#c7e0ed,#c7e0ed,#d2e6f0,#deebf2,#edf2f5,#f8f1ed,#fbe4d6,#fcd5bf,#f8bfa4,#f6b191,#f4a683,#f19e7d,#f09c7b,#f19e7d,#f4a683,#f6b191,#f8bfa4,#fcd5bf,#fbe4d6,#f8f1ed,#edf2f5,#deebf2,#d2e6f0,#c7e0ed,#c7e0ed,#cce2ef,#d5e7f1,#deebf2,#e7f0f4,#f3f5f6,#f9efe9,#fbe6da,#fbe4d6)"></i>
<i style="top:428px;background:linear-gradient(90deg,#fae7dc,#f9eee7,#f7f7f7,#eaf1f5,#e1edf3,#dbeaf2,#d8e9f1,#d7e8f1,#dbeaf2,#e4eef4,#f2f5f6,#f9eee7,#fcdecd,#f9c6ac,#f5aa89,#ea8e70,#e17860,#da6853,#d55d4c,#d25849,#d25849,#d25849,#d55d4c,#da6853,#e17860,#ea8e70,#f5aa89,#f9c6ac,#fcdecd,#f9eee7,#f2f5f6,#e4eef4,#dbeaf2,#d7e8f1,#d8e9f1,#dbeaf2,#e1edf3,#eaf1f5,#f7f7f7,#f9eee7,#fae7dc)"></i>
<i style="top:430px;background:linear-gradient(90deg,#f9eee7,#f7f7f7,#eaf1f5,#e1edf3,#deebf2,#deebf2,#e0ecf3,#e6eff4,#f0f4f6,#f8f1ed,#fbe4d6,#fbccb4,#f6af8e,#ea8e70,#dd7059,#d35a4a,#cb4942,#c53e3d,#c2383a,#c13639,#c13639,#c13639,#c2383a,#c53e3d,#cb4942,#d35a4a,#dd7059,#ea8e70,#f6af8e,#fbccb4,#fbe4d6,#f8f1ed,#f0f4f6,#e6eff4,#e0ecf3,#deebf2,#deebf2,#e1edf3,#eaf1f5,#f7f7f7,#f9eee7)"></i>
<i style="top:432px;background:linear-gradient(90deg,#f7f5f4,#ecf2f5,#e1edf3,#ddebf2,#e0ecf3,#e4eef4,#ecf2f5,#f7f7f7,#f9ede5,#fcdecd,#f9c6ac,#f5a886,#e8896c,#db6b55,#d25849,#cb4942,#c6413e,#c53e3d,#c53e3d,#c53e3d,#c53e3d,#c53e3d,#c53e3d,#c53e3d,#c6413e,#cb4942,#d25849,#db6b55,#e8896c,#f5a886,#f9c6ac,#fcdecd,#f9ede5,#f7f7f7,#ecf2f5,#e4eef4,#e0ecf3,#ddebf2,#e1edf3,#ecf2f5,#f7f5f4)"></i>
<i style="top:434px;background:linear-gradient(90deg,#edf2f5,#e1edf3,#dbeaf2,#ddebf2,#e4eef4,#eff3f5,#f7f5f4,#faeae1,#fcdecd,#fac8af,#f5ac8b,#eb9172,#e27b62,#db6b55,#d7634f,#d6604d,#d7634f,#da6853,#dc6e57,#dd7059,#de735c,#dd7059,#dc6e57,#da6853,#d7634f,#d6604d,#d7634f,#db6b55,#e27b62,#eb9172,#f5ac8b,#fac8af,#fcdecd,#faeae1,#f7f5f4,#eff3f5,#e4eef4,#ddebf2,#dbeaf2,#e1edf3,#edf2f5)"></i>
<i style="top:436px;background:linear-gradient(90deg,#e4eef4,#dbeaf2,#dae9f2,#e1edf3,#edf2f5,#f7f5f4,#f9ebe3,#fce0d0,#fbd0b9,#f7b99c,#f4a683,#ec9374,#e98b6e,#e8896c,#ea8e70,#ef9979,#f3a481,#f5ac8b,#f7b596,#f7b99c,#f8bb9e,#f7b99c,#f7b596,#f5ac8b,#f3a481,#ef9979,#ea8e70,#e8896c,#e98b6e,#ec9374,#f4a683,#f7b99c,#fbd0b9,#fce0d0,#f9ebe3,#f7f5f4,#edf2f5,#e1edf3,#dae9f2,#dbeaf2,#e4eef4)"></i>
<i style="top:438px;background:linear-gradient(90deg,#deebf2,#d8e9f1,#ddebf2,#e9f0f4,#f7f7f7,#f9eee7,#fbe5d8,#fddbc7,#fac8af,#f7b99c,#f6b191,#f6af8e,#f6b394,#f8bda1,#facab1,#fdd9c4,#fce2d2,#fae8de,#f9ede5,#f9f0eb,#f8f1ed,#f9f0eb,#f9ede5,#fae8de,#fce2d2,#fdd9c4,#facab1,#f8bda1,#f6b394,#f6af8e,#f6b191,#f7b99c,#fac8af,#fddbc7,#fbe5d8,#f9eee7,#f7f7f7,#e9f0f4,#ddebf2,#d8e9f1,#deebf2)"></i>
<i style="top:440px;background:linear-gradient(90deg,#dbeaf2,#dbeaf2,#e6eff4,#f3f5f6,#f9f0eb,#fae8de,#fce0d0,#fdd9c4,#fbceb7,#facab1,#fbccb4,#fcd5bf,#fcdfcf,#fae9df,#f8f3f0,#edf2f5,#e1edf3,#d8e9f1,#d1e5f0,#cae1ee,#c7e0ed,#cae1ee,#d1e5f0,#d8e9f1,#e1edf3,#edf2f5,#f8f3f0,#fae9df,#fcdfcf,#fcd5bf,#fbccb4,#facab1,#fbceb7,#fdd9c4,#fce0d0,#fae8de,#f9f0eb,#f3f5f6,#e6eff4,#dbeaf2,#dbeaf2)"></i>
<i style="top:442px;background:linear-gradient(90deg,#deebf2,#e3edf3,#f0f4f6,#f8f2ef,#faeae1,#fbe5d8,#fce0d0,#fdddcb,#fdddcb,#fcdfcf,#fbe6da,#f9f0eb,#f0f4f6,#e0ecf3,#cfe4ef,#b6d7e8,#a2cde3,#93c6de,#87beda,#81bad8,#7eb8d7,#81bad8,#87beda,#93c6de,#a2cde3,#b6d7e8,#cfe4ef,#e0ecf3,#f0f4f6,#f9f0eb,#fbe6da,#fcdfcf,#fdddcb,#fdddcb,#fce0d0,#fbe5d8,#faeae1,#f8f2ef,#f0f4f6,#e3edf3,#deebf2)"></i>
<i style="top:444px;background:linear-gradient(90deg,#e4eef4,#eff3f5,#f8f3f0,#f9ebe3,#fae7dc,#fbe5d8,#fbe4d6,#fbe5d8,#fae9df,#f8f1ed,#f0f4f6,#deebf2,#cae1ee,#acd2e5,#90c4dd,#78b4d5,#62a7ce,#569fc9,#4c99c6,#4997c5,#4695c4,#4997c5,#4c99c6,#569fc9,#62a7ce,#78b4d5,#90c4dd,#acd2e5,#cae1ee,#deebf2,#f0f4f6,#f8f1ed,#fae9df,#fbe5d8,#fbe4d6,#fbe5d8,#fae7dc,#f9ebe3,#f8f3f0,#eff3f5,#e4eef4)"></i>
<i style="top:446px;background:linear-gradient(90deg,#edf2f5,#f8f4f2,#f9ebe3,#fbe6da,#fbe6da,#fae7dc,#faeae1,#f9f0eb,#f6f7f7,#e7f0f4,#d5e7f1,#bbdaea,#9dcbe1,#7eb8d7,#65a9cf,#529dc8,#4393c3,#408fc1,#3f8ec0,#3f8ec0,#3f8ec0,#3f8ec0,#3f8ec0,#408fc1,#4393c3,#529dc8,#65a9cf,#7eb8d7,#9dcbe1,#bbdaea,#d5e7f1,#e7f0f4,#f6f7f7,#f9f0eb,#faeae1,#fae7dc,#fbe6da,#fbe6da,#f9ebe3,#f8f4f2,#edf2f5)"></i>
<i style="top:448px;background:linear-gradient(90deg,#f7f5f4,#f9ebe3,#fbe6da,#fbe5d8,#fae8de,#f9ede5,#f8f3f0,#f2f5f6,#e3edf3,#d2e6f0,#b6d7e8,#9bc9e0,#81bad8,#68abd0,#59a1ca,#529dc8,#4f9bc7,#4f9bc7,#529dc8,#529dc8,#569fc9,#529dc8,#529dc8,#4f9bc7,#4f9bc7,#529dc8,#59a1ca,#68abd0,#81bad8,#9bc9e0,#b6d7e8,#d2e6f0,#e3edf3,#f2f5f6,#f8f3f0,#f9ede5,#fae8de,#fbe5d8,#fbe6da,#f9ebe3,#f7f5f4)"></i>
<i style="top:450px;background:linear-gradient(90deg,#f9eee7,#fbe6da,#fbe3d4,#fbe6da,#f9ede5,#f8f3f0,#f0f4f6,#e3edf3,#d4e6f1,#bddbea,#a5cee3,#90c4dd,#81bad8,#78b4d5,#75b2d4,#78b4d5,#7eb8d7,#84bcd9,#8dc2dc,#90c4dd,#93c6de,#90c4dd,#8dc2dc,#84bcd9,#7eb8d7,#78b4d5,#75b2d4,#78b4d5,#81bad8,#90c4dd,#a5cee3,#bddbea,#d4e6f1,#e3edf3,#f0f4f6,#f8f3f0,#f9ede5,#fbe6da,#fbe3d4,#fbe6da,#f9eee7)"></i>
<i style="top:452px;background:linear-gradient(90deg,#fae7dc,#fce2d2,#fbe3d4,#fae9df,#f8f2ef,#f2f5f6,#e6eff4,#dae9f2,#cae1ee,#b6d7e8,#a7d0e4,#9dcbe1,#9bc9e0,#a0cce2,#a7d0e4,#b1d5e7,#bddbea,#c7e0ed,#cfe4ef,#d4e6f1,#d4e6f1,#d4e6f1,#cfe4ef,#c7e0ed,#bddbea,#b1d5e7,#a7d0e4,#a0cce2,#9bc9e0,#9dcbe1,#a7d0e4,#b6d7e8,#cae1ee,#dae9f2,#e6eff4,#f2f5f6,#f8f2ef,#fae9df,#fbe3d4,#fce2d2,#fae7dc)"></i>
<i style="top:454px;background:linear-gradient(90deg,#fbe4d6,#fce2d2,#fae7dc,#f9f0eb,#f5f6f7,#e9f0f4,#deebf2,#d4e6f1,#c7e0ed,#bddbea,#b8d8e9,#bbdaea,#c5dfec,#d1e5f0,#dbeaf2,#e6eff4,#eff3f5,#f7f7f7,#f8f3f0,#f9f0eb,#f9f0eb,#f9f0eb,#f8f3f0,#f7f7f7,#eff3f5,#e6eff4,#dbeaf2,#d1e5f0,#c5dfec,#bbdaea,#b8d8e9,#bddbea,#c7e0ed,#d4e6f1,#deebf2,#e9f0f4,#f5f6f7,#f9f0eb,#fae7dc,#fce2d2,#fbe4d6)"></i>
<i style="top:456px;background:linear-gradient(90deg,#fbe4d6,#fbe6da,#f9eee7,#f7f7f7,#ecf2f5,#e3edf3,#dbeaf2,#d5e7f1,#d2e6f0,#d1e5f0,#d5e7f1,#ddebf2,#e9f0f4,#f5f6f7,#f9efe9,#fbe6da,#fcdecd,#fcd7c2,#fbceb7,#facab1,#facab1,#facab1,#fbceb7,#fcd7c2,#fcdecd,#fbe6da,#f9efe9,#f5f6f7,#e9f0f4,#ddebf2,#d5e7f1,#d1e5f0,#d2e6f0,#d5e7f1,#dbeaf2,#e3edf3,#ecf2f5,#f7f7f7,#f9eee7,#fbe6da,#fbe4d6)"></i>
<i style="top:458px;background:linear-gradient(90deg,#fae7dc,#f9ebe3,#f7f5f4,#edf2f5,#e6eff4,#e1edf3,#ddebf2,#ddebf2,#deebf2,#e4eef4,#edf2f5,#f8f4f2,#faeae1,#fcdfcf,#fbd0b9,#f8bfa4,#f6b394,#f5aa89,#f3a481,#f19e7d,#f19e7d,#f19e7d,#f3a481,#f5aa89,#f6b394,#f8bfa4,#fbd0b9,#fcdfcf,#faeae1,#f8f4f2,#edf2f5,#e4eef4,#deebf2,#ddebf2,#ddebf2,#e1edf3,#e6eff4,#edf2f5,#f7f5f4,#f9ebe3,#fae7dc)"></i>
<i style="top:460px;background:linear-gradient(90deg,#f9ede5,#f8f4f2,#eff3f5,#e6eff4,#e3edf3,#e1edf3,#e3edf3,#e7f0f4,#edf2f5,#f7f6f6,#f9ede5,#fce2d2,#fcd3bc,#f8bda1,#f5ac8b,#f19e7d,#eb9172,#e8896c,#e6866a,#e58368,#e58368,#e58368,#e6866a,#e8896c,#eb9172,#f19e7d,#f5ac8b,#f8bda1,#fcd3bc,#fce2d2,#f9ede5,#f7f6f6,#edf2f5,#e7f0f4,#e3edf3,#e1edf3,#e3edf3,#e6eff4,#eff3f5,#f8f4f2,#f9ede5)"></i>
<i style="top:462px;background:linear-gradient(90deg,#f8f3f0,#f0f4f6,#e6eff4,#e1edf3,#e3edf3,#e7f0f4,#ecf2f5,#f3f5f6,#f8f2ef,#fae8de,#fdddcb,#facab1,#f7b799,#f5a886,#ef9979,#ea8e70,#e8896c,#e6866a,#e6866a,#e6866a,#e6866a,#e6866a,#e6866a,#e6866a,#e8896c,#ea8e70,#ef9979,#f5a886,#f7b799,#facab1,#fdddcb,#fae8de,#f8f2ef,#f3f5f6,#ecf2f5,#e7f0f4,#e3edf3,#e1edf3,#e6eff4,#f0f4f6,#f8f3f0)"></i>
<i style="top:464px;background:linear-gradient(90deg,#f2f5f6,#e6eff4,#e0ecf3,#e0ecf3,#e6eff4,#edf2f5,#f7f7f7,#f9f0eb,#fae7dc,#fdddcb,#fbccb4,#f8bb9e,#f6af8e,#f3a481,#f19e7d,#f09c7b,#f09c7b,#f19e7d,#f2a17f,#f3a481,#f3a481,#f3a481,#f2a17f,#f19e7d,#f09c7b,#f09c7b,#f19e7d,#f3a481,#f6af8e,#f8bb9e,#fbccb4,#fdddcb,#fae7dc,#f9f0eb,#f7f7f7,#edf2f5,#e6eff4,#e0ecf3,#e0ecf3,#e6eff4,#f2f5f6)"></i>
<i style="top:466px;background:linear-gradient(90deg,#e7f0f4,#deebf2,#ddebf2,#e3edf3,#ecf2f5,#f7f7f7,#f9f0eb,#fae8de,#fcdfcf,#fcd5bf,#f9c6ac,#f8bb9e,#f7b596,#f6b394,#f7b596,#f7b99c,#f8bfa4,#f9c4a9,#fac8af,#fbccb4,#fbceb7,#fbccb4,#fac8af,#f9c4a9,#f8bfa4,#f7b99c,#f7b596,#f6b394,#f7b596,#f8bb9e,#f9c6ac,#fcd5bf,#fcdfcf,#fae8de,#f9f0eb,#f7f7f7,#ecf2f5,#e3edf3,#ddebf2,#deebf2,#e7f0f4)"></i>
<i style="top:468px;background:linear-gradient(90deg,#e1edf3,#ddebf2,#e0ecf3,#e9f0f4,#f5f6f7,#f8f2ef,#faeae1,#fbe4d6,#fdddcb,#fcd3bc,#fbccb4,#facab1,#facab1,#fbd0b9,#fdd9c4,#fcdecd,#fbe3d4,#fae7dc,#faeae1,#f9ede5,#f9ede5,#f9ede5,#faeae1,#fae7dc,#fbe3d4,#fcdecd,#fdd9c4,#fbd0b9,#facab1,#facab1,#fbccb4,#fcd3bc,#fdddcb,#fbe4d6,#faeae1,#f8f2ef,#f5f6f7,#e9f0f4,#e0ecf3,#ddebf2,#e1edf3)"></i>
<i style="top:470px;background:linear-gradient(90deg,#deebf2,#deebf2,#e6eff4,#f2f5f6,#f8f3f0,#f9ede5,#fae7dc,#fbe3d4,#fcdecd,#fddcc9,#fddcc9,#fcdecd,#fbe4d6,#fae9df,#f9f0eb,#f7f6f6,#f0f4f6,#eaf1f5,#e6eff4,#e3edf3,#e3edf3,#e3edf3,#e6eff4,#eaf1f5,#f0f4f6,#f7f6f6,#f9f0eb,#fae9df,#fbe4d6,#fcdecd,#fddcc9,#fddcc9,#fcdecd,#fbe3d4,#fae7dc,#f9ede5,#f8f3f0,#f2f5f6,#e6eff4,#deebf2,#deebf2)"></i>
<i style="top:472px;background:linear-gradient(90deg,#e0ecf3,#e4eef4,#eff3f5,#f7f5f4,#f9efe9,#faeae1,#fae7dc,#fbe5d8,#fbe4d6,#fbe5d8,#fae9df,#f9efe9,#f7f5f4,#edf2f5,#e4eef4,#dae9f2,#d2e6f0,#cae1ee,#c5dfec,#c0dceb,#c0dceb,#c0dceb,#c5dfec,#cae1ee,#d2e6f0,#dae9f2,#e4eef4,#edf2f5,#f7f5f4,#f9efe9,#fae9df,#fbe5d8,#fbe4d6,#fbe5d8,#fae7dc,#faeae1,#f9efe9,#f7f5f4,#eff3f5,#e4eef4,#e0ecf3)"></i>
<i style="top:474px;background:linear-gradient(90deg,#e4eef4,#edf2f5,#f7f6f6,#f9efe9,#f9ebe3,#fae9df,#fae9df,#fae9df,#f9ebe3,#f8f1ed,#f7f7f7,#ecf2f5,#e1edf3,#d5e7f1,#cae1ee,#bbdaea,#b1d5e7,#a9d1e5,#a5cee3,#a2cde3,#a2cde3,#a2cde3,#a5cee3,#a9d1e5,#b1d5e7,#bbdaea,#cae1ee,#d5e7f1,#e1edf3,#ecf2f5,#f7f7f7,#f8f1ed,#f9ebe3,#fae9df,#fae9df,#fae9df,#f9ebe3,#f9efe9,#f7f6f6,#edf2f5,#e4eef4)"></i>
<i style="top:476px;background:linear-gradient(90deg,#edf2f5,#f7f7f7,#f9efe9,#f9ebe3,#faeae1,#f9ebe3,#f9eee7,#f8f1ed,#f7f5f4,#f0f4f6,#e6eff4,#dae9f2,#cce2ef,#bddbea,#b1d5e7,#a7d0e4,#a0cce2,#9bc9e0,#9bc9e0,#98c8e0,#98c8e0,#98c8e0,#9bc9e0,#9bc9e0,#a0cce2,#a7d0e4,#b1d5e7,#bddbea,#cce2ef,#dae9f2,#e6eff4,#f0f4f6,#f7f5f4,#f8f1ed,#f9eee7,#f9ebe3,#faeae1,#f9ebe3,#f9efe9,#f7f7f7,#edf2f5)"></i>
<i style="top:478px;background:linear-gradient(90deg,#f7f7f7,#f9f0eb,#faeae1,#fae9df,#f9ebe3,#f9efe9,#f8f3f0,#f6f7f7,#edf2f5,#e3edf3,#d8e9f1,#cce2ef,#bddbea,#b1d5e7,#a9d1e5,#a5cee3,#a2cde3,#a2cde3,#a2cde3,#a5cee3,#a5cee3,#a5cee3,#a2cde3,#a2cde3,#a2cde3,#a5cee3,#a9d1e5,#b1d5e7,#bddbea,#cce2ef,#d8e9f1,#e3edf3,#edf2f5,#f6f7f7,#f8f3f0,#f9efe9,#f9ebe3,#fae9df,#faeae1,#f9f0eb,#f7f7f7)"></i>
<i style="top:480px;background:linear-gradient(90deg,#f8f1ed,#faeae1,#fae7dc,#fae9df,#f9eee7,#f8f3f0,#f5f6f7,#ecf2f5,#e3edf3,#dae9f2,#d1e5f0,#c5dfec,#bbdaea,#b6d7e8,#b3d6e8,#b3d6e8,#b6d7e8,#bbdaea,#bddbea,#c0dceb,#c0dceb,#c0dceb,#bddbea,#bbdaea,#b6d7e8,#b3d6e8,#b3d6e8,#b6d7e8,#bbdaea,#c5dfec,#d1e5f0,#dae9f2,#e3edf3,#ecf2f5,#f5f6f7,#f8f3f0,#f9eee7,#fae9df,#fae7dc,#faeae1,#f8f1ed)"></i>
<i style="top:482px;background:linear-gradient(90deg,#f9ebe3,#fbe6da,#fae7dc,#f9ebe3,#f8f2ef,#f5f6f7,#edf2f5,#e6eff4,#ddebf2,#d5e7f1,#cfe4ef,#cae1ee,#c7e0ed,#c7e0ed,#cce2ef,#d1e5f0,#d5e7f1,#d8e9f1,#dbeaf2,#ddebf2,#deebf2,#ddebf2,#dbeaf2,#d8e9f1,#d5e7f1,#d1e5f0,#cce2ef,#c7e0ed,#c7e0ed,#cae1ee,#cfe4ef,#d5e7f1,#ddebf2,#e6eff4,#edf2f5,#f5f6f7,#f8f2ef,#f9ebe3,#fae7dc,#fbe6da,#f9ebe3)"></i>
<i style="top:484px;background:linear-gradient(90deg,#fae8de,#fbe6da,#fae9df,#f9f0eb,#f7f7f7,#eff3f5,#e9f0f4,#e3edf3,#ddebf2,#d8e9f1,#d5e7f1,#d7e8f1,#d8e9f1,#ddebf2,#e3edf3,#e7f0f4,#edf2f5,#f2f5f6,#f5f6f7,#f7f7f7,#f7f7f7,#f7f7f7,#f5f6f7,#f2f5f6,#edf2f5,#e7f0f4,#e3edf3,#ddebf2,#d8e9f1,#d7e8f1,#d5e7f1,#d8e9f1,#ddebf2,#e3edf3,#e9f0f4,#eff3f5,#f7f7f7,#f9f0eb,#fae9df,#fbe6da,#fae8de)"></i>
<i style="top:486px;background:linear-gradient(90deg,#fae7dc,#fae8de,#f9eee7,#f7f5f4,#f2f5f6,#ecf2f5,#e6eff4,#e3edf3,#e0ecf3,#e0ecf3,#e1edf3,#e4eef4,#eaf1f5,#f2f5f6,#f7f6f6,#f8f1ed,#f9eee7,#faeae1,#fae8de,#fae7dc,#fbe6da,#fae7dc,#fae8de,#faeae1,#f9eee7,#f8f1ed,#f7f6f6,#f2f5f6,#eaf1f5,#e4eef4,#e1edf3,#e0ecf3,#e0ecf3,#e3edf3,#e6eff4,#ecf2f5,#f2f5f6,#f7f5f4,#f9eee7,#fae8de,#fae7dc)"></i>
<i style="top:488px;background:linear-gradient(90deg,#fae9df,#f9ede5,#f8f4f2,#f2f5f6,#ecf2f5,#e9f0f4,#e7f0f4,#e6eff4,#e7f0f4,#e9f0f4,#eff3f5,#f5f6f7,#f8f3f0,#f9ede5,#fae8de,#fbe3d4,#fcdfcf,#fddcc9,#fddbc7,#fdd9c4,#fdd9c4,#fdd9c4,#fddbc7,#fddcc9,#fcdfcf,#fbe3d4,#fae8de,#f9ede5,#f8f3f0,#f5f6f7,#eff3f5,#e9f0f4,#e7f0f4,#e6eff4,#e7f0f4,#e9f0f4,#ecf2f5,#f2f5f6,#f8f4f2,#f9ede5,#fae9df)"></i>
<i style="top:490px;background:linear-gradient(90deg,#f9eee7,#f8f3f0,#f3f5f6,#ecf2f5,#eaf1f5,#e9f0f4,#eaf1f5,#ecf2f5,#f0f4f6,#f5f6f7,#f8f3f0,#f9eee7,#fae7dc,#fce2d2,#fdddcb,#fcd7c2,#fcd3bc,#fbceb7,#fbccb4,#fbccb4,#fbccb4,#fbccb4,#fbccb4,#fbceb7,#fcd3bc,#fcd7c2,#fdddcb,#fce2d2,#fae7dc,#f9eee7,#f8f3f0,#f5f6f7,#f0f4f6,#ecf2f5,#eaf1f5,#e9f0f4,#eaf1f5,#ecf2f5,#f3f5f6,#f8f3f0,#f9eee7)"></i>
<i style="top:492px;background:linear-gradient(90deg,#f8f3f0,#f3f5f6,#ecf2f5,#e9f0f4,#e9f0f4,#ecf2f5,#eff3f5,#f3f5f6,#f7f5f4,#f8f1ed,#faeae1,#fbe5d8,#fcdfcf,#fddbc7,#fcd5bf,#fbd0b9,#fbceb7,#fbccb4,#fbccb4,#fbccb4,#fbccb4,#fbccb4,#fbccb4,#fbccb4,#fbceb7,#fbd0b9,#fcd5bf,#fddbc7,#fcdfcf,#fbe5d8,#faeae1,#f8f1ed,#f7f5f4,#f3f5f6,#eff3f5,#ecf2f5,#e9f0f4,#e9f0f4,#ecf2f5,#f3f5f6,#f8f3f0)"></i>
<i style="top:494px;background:linear-gradient(90deg,#f5f6f7,#ecf2f5,#e7f0f4,#e7f0f4,#eaf1f5,#f0f4f6,#f5f6f7,#f8f4f2,#f9f0eb,#faeae1,#fbe5d8,#fce0d0,#fddcc9,#fdd9c4,#fcd5bf,#fcd5bf,#fcd5bf,#fcd5bf,#fcd7c2,#fcd7c2,#fcd7c2,#fcd7c2,#fcd7c2,#fcd5bf,#fcd5bf,#fcd5bf,#fcd5bf,#fdd9c4,#fddcc9,#fce0d0,#fbe5d8,#faeae1,#f9f0eb,#f8f4f2,#f5f6f7,#f0f4f6,#eaf1f5,#e7f0f4,#e7f0f4,#ecf2f5,#f5f6f7)"></i>
<i style="top:496px;background:linear-gradient(90deg,#edf2f5,#e6eff4,#e4eef4,#e9f0f4,#eff3f5,#f5f6f7,#f8f4f2,#f9f0eb,#f9ebe3,#fae7dc,#fbe3d4,#fcdfcf,#fcdecd,#fdddcb,#fdddcb,#fcdecd,#fcdfcf,#fce0d0,#fce2d2,#fbe3d4,#fbe3d4,#fbe3d4,#fce2d2,#fce0d0,#fcdfcf,#fcdecd,#fdddcb,#fdddcb,#fcdecd,#fcdfcf,#fbe3d4,#fae7dc,#f9ebe3,#f9f0eb,#f8f4f2,#f5f6f7,#eff3f5,#e9f0f4,#e4eef4,#e6eff4,#edf2f5)"></i>
<i style="top:498px;background:linear-gradient(90deg,#e7f0f4,#e4eef4,#e6eff4,#ecf2f5,#f3f5f6,#f7f5f4,#f8f1ed,#f9eee7,#fae9df,#fbe6da,#fbe4d6,#fbe3d4,#fbe4d6,#fbe5d8,#fbe6da,#fae8de,#faeae1,#f9ede5,#f9eee7,#f9efe9,#f9f0eb,#f9efe9,#f9eee7,#f9ede5,#faeae1,#fae8de,#fbe6da,#fbe5d8,#fbe4d6,#fbe3d4,#fbe4d6,#fbe6da,#fae9df,#f9eee7,#f8f1ed,#f7f5f4,#f3f5f6,#ecf2f5,#e6eff4,#e4eef4,#e7f0f4)"></i>
<i style="top:500px;background:linear-gradient(90deg,#e6eff4,#e4eef4,#e9f0f4,#f2f5f6,#f7f6f6,#f8f2ef,#f9efe9,#f9ede5,#faeae1,#fae8de,#fae8de,#fae9df,#f9ebe3,#f9eee7,#f8f1ed,#f8f4f2,#f7f7f7,#f5f6f7,#f3f5f6,#f2f5f6,#f0f4f6,#f2f5f6,#f3f5f6,#f5f6f7,#f7f7f7,#f8f4f2,#f8f1ed,#f9eee7,#f9ebe3,#fae9df,#fae8de,#fae8de,#faeae1,#f9ede5,#f9efe9,#f8f2ef,#f7f6f6,#f2f5f6,#e9f0f4,#e4eef4,#e6eff4)"></i>
<i style="top:502px;background:linear-gradient(90deg,#e6eff4,#e9f0f4,#eff3f5,#f7f7f7,#f8f3f0,#f9f0eb,#f9efe9,#f9eee7,#f9ede5,#f9ede5,#f9efe9,#f8f1ed,#f8f4f2,#f6f7f7,#f0f4f6,#edf2f5,#e9f0f4,#e6eff4,#e4eef4,#e3edf3,#e3edf3,#e3edf3,#e4eef4,#e6eff4,#e9f0f4,#edf2f5,#f0f4f6,#f6f7f7,#f8f4f2,#f8f1ed,#f9efe9,#f9ede5,#f9ede5,#f9eee7,#f9efe9,#f9f0eb,#f8f3f0,#f7f7f7,#eff3f5,#e9f0f4,#e6eff4)"></i>
<i style="top:504px;background:linear-gradient(90deg,#e9f0f4,#eff3f5,#f7f7f7,#f8f3f0,#f8f1ed,#f9f0eb,#f9f0eb,#f9f0eb,#f8f1ed,#f8f2ef,#f7f5f4,#f5f6f7,#eff3f5,#eaf1f5,#e6eff4,#e1edf3,#deebf2,#ddebf2,#dbeaf2,#dae9f2,#dae9f2,#dae9f2,#dbeaf2,#ddebf2,#deebf2,#e1edf3,#e6eff4,#eaf1f5,#eff3f5,#f5f6f7,#f7f5f4,#f8f2ef,#f8f1ed,#f9f0eb,#f9f0eb,#f9f0eb,#f8f1ed,#f8f3f0,#f7f7f7,#eff3f5,#e9f0f4)"></i>
<i style="top:506px;background:linear-gradient(90deg,#eff3f5,#f5f6f7,#f8f3f0,#f9f0eb,#f9f0eb,#f9f0eb,#f8f1ed,#f8f3f0,#f7f5f4,#f5f6f7,#f0f4f6,#ecf2f5,#e6eff4,#e1edf3,#deebf2,#dbeaf2,#d8e9f1,#d8e9f1,#d7e8f1,#d7e8f1,#d7e8f1,#d7e8f1,#d7e8f1,#d8e9f1,#d8e9f1,#dbeaf2,#deebf2,#e1edf3,#e6eff4,#ecf2f5,#f0f4f6,#f5f6f7,#f7f5f4,#f8f3f0,#f8f1ed,#f9f0eb,#f9f0eb,#f9f0eb,#f8f3f0,#f5f6f7,#eff3f5)"></i>
<i style="top:508px;background:linear-gradient(90deg,#f5f6f7,#f8f3f0,#f9efe9,#f9efe9,#f9f0eb,#f8f2ef,#f8f4f2,#f7f7f7,#f3f5f6,#eff3f5,#eaf1f5,#e4eef4,#e1edf3,#ddebf2,#dbeaf2,#dae9f2,#d8e9f1,#d8e9f1,#d8e9f1,#dae9f2,#dae9f2,#dae9f2,#d8e9f1,#d8e9f1,#d8e9f1,#dae9f2,#dbeaf2,#ddebf2,#e1edf3,#e4eef4,#eaf1f5,#eff3f5,#f3f5f6,#f7f7f7,#f8f4f2,#f8f2ef,#f9f0eb,#f9efe9,#f9efe9,#f8f3f0,#f5f6f7)"></i>
<i style="top:510px;background:linear-gradient(90deg,#f8f4f2,#f9efe9,#f9ede5,#f9eee7,#f8f1ed,#f8f4f2,#f7f7f7,#f3f5f6,#eff3f5,#eaf1f5,#e6eff4,#e3edf3,#e0ecf3,#deebf2,#ddebf2,#ddebf2,#deebf2,#deebf2,#e0ecf3,#e0ecf3,#e0ecf3,#e0ecf3,#e0ecf3,#deebf2,#deebf2,#ddebf2,#ddebf2,#deebf2,#e0ecf3,#e3edf3,#e6eff4,#eaf1f5,#eff3f5,#f3f5f6,#f7f7f7,#f8f4f2,#f8f1ed,#f9eee7,#f9ede5,#f9efe9,#f8f4f2)"></i>
<i style="top:512px;background:linear-gradient(90deg,#f9f0eb,#f9ede5,#f9ede5,#f9f0eb,#f8f3f0,#f7f7f7,#f3f5f6,#f0f4f6,#ecf2f5,#e9f0f4,#e6eff4,#e4eef4,#e3edf3,#e3edf3,#e4eef4,#e4eef4,#e6eff4,#e7f0f4,#e9f0f4,#eaf1f5,#eaf1f5,#eaf1f5,#e9f0f4,#e7f0f4,#e6eff4,#e4eef4,#e4eef4,#e3edf3,#e3edf3,#e4eef4,#e6eff4,#e9f0f4,#ecf2f5,#f0f4f6,#f3f5f6,#f7f7f7,#f8f3f0,#f9f0eb,#f9ede5,#f9ede5,#f9f0eb)"></i>
<i style="top:514px;background:linear-gradient(90deg,#f9eee7,#f9ebe3,#f9eee7,#f8f2ef,#f7f5f4,#f5f6f7,#f0f4f6,#edf2f5,#ecf2f5,#e9f0f4,#e7f0f4,#e7f0f4,#e9f0f4,#eaf1f5,#ecf2f5,#eff3f5,#f0f4f6,#f2f5f6,#f3f5f6,#f5f6f7,#f5f6f7,#f5f6f7,#f3f5f6,#f2f5f6,#f0f4f6,#eff3f5,#ecf2f5,#eaf1f5,#e9f0f4,#e7f0f4,#e7f0f4,#e9f0f4,#ecf2f5,#edf2f5,#f0f4f6,#f5f6f7,#f7f5f4,#f8f2ef,#f9eee7,#f9ebe3,#f9eee7)"></i>
<i style="top:516px;background:linear-gradient(90deg,#f9ede5,#f9ede5,#f9f0eb,#f8f4f2,#f5f6f7,#f2f5f6,#eff3f5,#edf2f5,#ecf2f5,#ecf2f5,#ecf2f5,#edf2f5,#f0f4f6,#f3f5f6,#f5f6f7,#f7f7f7,#f8f4f2,#f8f3f0,#f8f2ef,#f8f2ef,#f8f2ef,#f8f2ef,#f8f2ef,#f8f3f0,#f8f4f2,#f7f7f7,#f5f6f7,#f3f5f6,#f0f4f6,#edf2f5,#ecf2f5,#ecf2f5,#ecf2f5,#edf2f5,#eff3f5,#f2f5f6,#f5f6f7,#f8f4f2,#f9f0eb,#f9ede5,#f9ede5)"></i>
<i style="top:518px;background:linear-gradient(90deg,#f9eee7,#f9f0eb,#f8f4f2,#f6f7f7,#f2f5f6,#f0f4f6,#f0f4f6,#eff3f5,#eff3f5,#f0f4f6,#f2f5f6,#f5f6f7,#f7f7f7,#f8f4f2,#f8f2ef,#f9f0eb,#f9efe9,#f9eee7,#f9ede5,#f9ede5,#f9ede5,#f9ede5,#f9ede5,#f9eee7,#f9efe9,#f9f0eb,#f8f2ef,#f8f4f2,#f7f7f7,#f5f6f7,#f2f5f6,#f0f4f6,#eff3f5,#eff3f5,#f0f4f6,#f0f4f6,#f2f5f6,#f6f7f7,#f8f4f2,#f9f0eb,#f9eee7)"></i>
<i style="top:520px;background:linear-gradient(90deg,#f9f0eb,#f8f3f0,#f7f7f7,#f2f5f6,#f0f4f6,#f0f4f6,#f0f4f6,#f2f5f6,#f3f5f6,#f5f6f7,#f7f7f7,#f8f4f2,#f8f2ef,#f9f0eb,#f9eee7,#f9ebe3,#faeae1,#faeae1,#fae9df,#fae9df,#fae9df,#fae9df,#fae9df,#faeae1,#faeae1,#f9ebe3,#f9eee7,#f9f0eb,#f8f2ef,#f8f4f2,#f7f7f7,#f5f6f7,#f3f5f6,#f2f5f6,#f0f4f6,#f0f4f6,#f0f4f6,#f2f5f6,#f7f7f7,#f8f3f0,#f9f0eb)"></i>
<i style="top:522px;background:linear-gradient(90deg,#f8f3f0,#f7f7f7,#f2f5f6,#eff3f5,#f0f4f6,#f2f5f6,#f3f5f6,#f5f6f7,#f7f7f7,#f7f5f4,#f8f3f0,#f8f1ed,#f9efe9,#f9ede5,#f9ebe3,#faeae1,#fae9df,#fae9df,#fae9df,#fae9df,#fae9df,#fae9df,#fae9df,#fae9df,#fae9df,#faeae1,#f9ebe3,#f9ede5,#f9efe9,#f8f1ed,#f8f3f0,#f7f5f4,#f7f7f7,#f5f6f7,#f3f5f6,#f2f5f6,#f0f4f6,#eff3f5,#f2f5f6,#f7f7f7,#f8f3f0)"></i>
<i style="top:524px;background:linear-gradient(90deg,#f7f7f7,#f2f5f6,#edf2f5,#edf2f5,#f0f4f6,#f3f5f6,#f5f6f7,#f7f7f7,#f8f4f2,#f8f2ef,#f9f0eb,#f9efe9,#f9ede5,#f9ebe3,#faeae1,#faeae1,#faeae1,#faeae1,#faeae1,#faeae1,#faeae1,#faeae1,#faeae1,#faeae1,#faeae1,#faeae1,#faeae1,#f9ebe3,#f9ede5,#f9efe9,#f9f0eb,#f8f2ef,#f8f4f2,#f7f7f7,#f5f6f7,#f3f5f6,#f0f4f6,#edf2f5,#edf2f5,#f2f5f6,#f7f7f7)"></i>
<i style="top:526px;background:linear-gradient(90deg,#f2f5f6,#edf2f5,#ecf2f5,#eff3f5,#f2f5f6,#f5f6f7,#f7f7f7,#f8f4f2,#f8f3f0,#f8f1ed,#f9efe9,#f9eee7,#f9ede5,#f9ede5,#f9ede5,#f9ede5,#f9eee7,#f9eee7,#f9eee7,#f9efe9,#f9efe9,#f9efe9,#f9eee7,#f9eee7,#f9eee7,#f9ede5,#f9ede5,#f9ede5,#f9ede5,#f9eee7,#f9efe9,#f8f1ed,#f8f3f0,#f8f4f2,#f7f7f7,#f5f6f7,#f2f5f6,#eff3f5,#ecf2f5,#edf2f5,#f2f5f6)"></i>
<i style="top:528px;background:linear-gradient(90deg,#eff3f5,#ecf2f5,#ecf2f5,#f0f4f6,#f5f6f7,#f7f7f7,#f7f5f4,#f8f3f0,#f8f2ef,#f8f1ed,#f9f0eb,#f9efe9,#f9efe9,#f9efe9,#f9f0eb,#f8f1ed,#f8f1ed,#f8f2ef,#f8f3f0,#f8f3f0,#f8f3f0,#f8f3f0,#f8f3f0,#f8f2ef,#f8f1ed,#f8f1ed,#f9f0eb,#f9efe9,#f9efe9,#f9efe9,#f9f0eb,#f8f1ed,#f8f2ef,#f8f3f0,#f7f5f4,#f7f7f7,#f5f6f7,#f0f4f6,#ecf2f5,#ecf2f5,#eff3f5)"></i>
<i style="top:530px;background:linear-gradient(90deg,#ecf2f5,#ecf2f5,#eff3f5,#f3f5f6,#f7f7f7,#f7f5f4,#f8f4f2,#f8f3f0,#f8f2ef,#f8f1ed,#f8f1ed,#f8f1ed,#f8f2ef,#f8f3f0,#f8f4f2,#f7f5f4,#f7f5f4,#f7f7f7,#f7f7f7,#f7f7f7,#f7f7f7,#f7f7f7,#f7f7f7,#f7f7f7,#f7f5f4,#f7f5f4,#f8f4f2,#f8f3f0,#f8f2ef,#f8f1ed,#f8f1ed,#f8f1ed,#f8f2ef,#f8f3f0,#f8f4f2,#f7f5f4,#f7f7f7,#f3f5f6,#eff3f5,#ecf2f5,#ecf2f5)"></i>
<i style="top:532px;background:linear-gradient(90deg,#ecf2f5,#edf2f5,#f2f5f6,#f6f7f7,#f7f5f4,#f8f4f2,#f8f3f0,#f8f3f0,#f8f3f0,#f8f3f0,#f8f3f0,#f8f4f2,#f7f5f4,#f7f7f7,#f7f7f7,#f5f6f7,#f3f5f6,#f2f5f6,#f2f5f6,#f0f4f6,#f0f4f6,#f0f4f6,#f2f5f6,#f2f5f6,#f3f5f6,#f5f6f7,#f7f7f7,#f7f7f7,#f7f5f4,#f8f4f2,#f8f3f0,#f8f3f0,#f8f3f0,#f8f3f0,#f8f3f0,#f8f4f2,#f7f5f4,#f6f7f7,#f2f5f6,#edf2f5,#ecf2f5)"></i>
<i style="top:534px;background:linear-gradient(90deg,#edf2f5,#f0f4f6,#f5f6f7,#f7f5f4,#f8f4f2,#f8f4f2,#f8f4f2,#f8f4f2,#f8f4f2,#f7f5f4,#f7f5f4,#f7f7f7,#f5f6f7,#f3f5f6,#f2f5f6,#f0f4f6,#eff3f5,#eff3f5,#edf2f5,#edf2f5,#edf2f5,#edf2f5,#edf2f5,#eff3f5,#eff3f5,#f0f4f6,#f2f5f6,#f3f5f6,#f5f6f7,#f7f7f7,#f7f5f4,#f7f5f4,#f8f4f2,#f8f4f2,#f8f4f2,#f8f4f2,#f8f4f2,#f7f5f4,#f5f6f7,#f0f4f6,#edf2f5)"></i>
<i style="top:536px;background:linear-gradient(90deg,#f0f4f6,#f5f6f7,#f7f5f4,#f8f4f2,#f8f3f0,#f8f4f2,#f8f4f2,#f7f5f4,#f7f6f6,#f7f7f7,#f5f6f7,#f3f5f6,#f2f5f6,#f0f4f6,#eff3f5,#edf2f5,#edf2f5,#ecf2f5,#ecf2f5,#ecf2f5,#ecf2f5,#ecf2f5,#ecf2f5,#ecf2f5,#edf2f5,#edf2f5,#eff3f5,#f0f4f6,#f2f5f6,#f3f5f6,#f5f6f7,#f7f7f7,#f7f6f6,#f7f5f4,#f8f4f2,#f8f4f2,#f8f3f0,#f8f4f2,#f7f5f4,#f5f6f7,#f0f4f6)"></i>
<i style="top:538px;background:linear-gradient(90deg,#f5f6f7,#f7f5f4,#f8f3f0,#f8f3f0,#f8f3f0,#f8f4f2,#f7f5f4,#f7f7f7,#f7f7f7,#f5f6f7,#f3f5f6,#f2f5f6,#eff3f5,#eff3f5,#edf2f5,#edf2f5,#ecf2f5,#ecf2f5,#ecf2f5,#ecf2f5,#ecf2f5,#ecf2f5,#ecf2f5,#ecf2f5,#ecf2f5,#edf2f5,#edf2f5,#eff3f5,#eff3f5,#f2f5f6,#f3f5f6,#f5f6f7,#f7f7f7,#f7f7f7,#f7f5f4,#f8f4f2,#f8f3f0,#f8f3f0,#f8f3f0,#f7f5f4,#f5f6f7)"></i>
<i style="top:540px;background:linear-gradient(90deg,#f7f5f4,#f8f3f0,#f8f2ef,#f8f2ef,#f8f4f2,#f7f5f4,#f7f7f7,#f7f7f7,#f5f6f7,#f3f5f6,#f2f5f6,#f0f4f6,#eff3f5,#eff3f5,#edf2f5,#edf2f5,#edf2f5,#eff3f5,#eff3f5,#eff3f5,#eff3f5,#eff3f5,#eff3f5,#eff3f5,#edf2f5,#edf2f5,#edf2f5,#eff3f5,#eff3f5,#f0f4f6,#f2f5f6,#f3f5f6,#f5f6f7,#f7f7f7,#f7f7f7,#f7f5f4,#f8f4f2,#f8f2ef,#f8f2ef,#f8f3f0,#f7f5f4)"></i>
<i style="top:542px;background:linear-gradient(90deg,#f8f3f0,#f8f1ed,#f8f1ed,#f8f3f0,#f8f4f2,#f7f7f7,#f7f7f7,#f5f6f7,#f3f5f6,#f2f5f6,#f0f4f6,#f0f4f6,#f0f4f6,#f0f4f6,#f0f4f6,#f0f4f6,#f0f4f6,#f2f5f6,#f2f5f6,#f2f5f6,#f2f5f6,#f2f5f6,#f2f5f6,#f2f5f6,#f0f4f6,#f0f4f6,#f0f4f6,#f0f4f6,#f0f4f6,#f0f4f6,#f0f4f6,#f2f5f6,#f3f5f6,#f5f6f7,#f7f7f7,#f7f7f7,#f8f4f2,#f8f3f0,#f8f1ed,#f8f1ed,#f8f3f0)"></i>
<i style="top:544px;background:linear-gradient(90deg,#f8f2ef,#f8f1ed,#f8f2ef,#f8f4f2,#f7f6f6,#f7f7f7,#f5f6f7,#f3f5f6,#f3f5f6,#f2f5f6,#f2f5f6,#f2f5f6,#f2f5f6,#f2f5f6,#f3f5f6,#f3f5f6,#f3f5f6,#f5f6f7,#f5f6f7,#f5f6f7,#f5f6f7,#f5f6f7,#f5f6f7,#f5f6f7,#f3f5f6,#f3f5f6,#f3f5f6,#f2f5f6,#f2f5f6,#f2f5f6,#f2f5f6,#f2f5f6,#f3f5f6,#f3f5f6,#f5f6f7,#f7f7f7,#f7f6f6,#f8f4f2,#f8f2ef,#f8f1ed,#f8f2ef)"></i>
<i style="top:546px;background:linear-gradient(90deg,#f8f1ed,#f8f1ed,#f8f3f0,#f7f5f4,#f7f7f7,#f5f6f7,#f5f6f7,#f3f5f6,#f3f5f6,#f3f5f6,#f3f5f6,#f3f5f6,#f5f6f7,#f5f6f7,#f6f7f7,#f7f7f7,#f7f7f7,#f7f7f7,#f7f6f6,#f7f5f4,#f7f5f4,#f7f5f4,#f7f6f6,#f7f7f7,#f7f7f7,#f7f7f7,#f6f7f7,#f5f6f7,#f5f6f7,#f3f5f6,#f3f5f6,#f3f5f6,#f3f5f6,#f3f5f6,#f5f6f7,#f5f6f7,#f7f7f7,#f7f5f4,#f8f3f0,#f8f1ed,#f8f1ed)"></i>
<i style="top:548px;background:linear-gradient(90deg,#f8f1ed,#f8f2ef,#f8f4f2,#f7f7f7,#f5f6f7,#f5f6f7,#f5f6f7,#f5f6f7,#f5f6f7,#f5f6f7,#f5f6f7,#f6f7f7,#f7f7f7,#f7f7f7,#f7f5f4,#f7f5f4,#f8f4f2,#f8f4f2,#f8f4f2,#f8f4f2,#f8f4f2,#f8f4f2,#f8f4f2,#f8f4f2,#f8f4f2,#f7f5f4,#f7f5f4,#f7f7f7,#f7f7f7,#f6f7f7,#f5f6f7,#f5f6f7,#f5f6f7,#f5f6f7,#f5f6f7,#f5f6f7,#f5f6f7,#f7f7f7,#f8f4f2,#f8f2ef,#f8f1ed)"></i>
<i style="top:550px;background:linear-gradient(90deg,#f8f3f0,#f8f4f2,#f7f7f7,#f5f6f7,#f5f6f7,#f5f6f7,#f5f6f7,#f5f6f7,#f5f6f7,#f7f7f7,#f7f7f7,#f7f7f7,#f7f5f4,#f8f4f2,#f8f4f2,#f8f3f0,#f8f3f0,#f8f3f0,#f8f3f0,#f8f3f0,#f8f2ef,#f8f3f0,#f8f3f0,#f8f3f0,#f8f3f0,#f8f3f0,#f8f4f2,#f8f4f2,#f7f5f4,#f7f7f7,#f7f7f7,#f7f7f7,#f5f6f7,#f5f6f7,#f5f6f7,#f5f6f7,#f5f6f7,#f5f6f7,#f7f7f7,#f8f4f2,#f8f3f0)"></i>
<i style="top:552px;background:linear-gradient(90deg,#f8f4f2,#f7f7f7,#f5f6f7,#f3f5f6,#f3f5f6,#f5f6f7,#f5f6f7,#f7f7f7,#f7f7f7,#f7f7f7,#f7f5f4,#f7f5f4,#f8f4f2,#f8f3f0,#f8f3f0,#f8f3f0,#f8f2ef,#f8f2ef,#f8f2ef,#f8f2ef,#f8f2ef,#f8f2ef,#f8f2ef,#f8f2ef,#f8f2ef,#f8f3f0,#f8f3f0,#f8f3f0,#f8f4f2,#f7f5f4,#f7f5f4,#f7f7f7,#f7f7f7,#f7f7f7,#f5f6f7,#f5f6f7,#f3f5f6,#f3f5f6,#f5f6f7,#f7f7f7,#f8f4f2)"></i>
<i style="top:554px;background:linear-gradient(90deg,#f7f7f7,#f5f6f7,#f3f5f6,#f3f5f6,#f3f5f6,#f5f6f7,#f7f7f7,#f7f7f7,#f7f7f7,#f7f5f4,#f7f5f4,#f8f4f2,#f8f3f0,#f8f3f0,#f8f3f0,#f8f3f0,#f8f3f0,#f8f3f0,#f8f3f0,#f8f3f0,#f8f3f0,#f8f3f0,#f8f3f0,#f8f3f0,#f8f3f0,#f8f3f0,#f8f3f0,#f8f3f0,#f8f3f0,#f8f4f2,#f7f5f4,#f7f5f4,#f7f7f7,#f7f7f7,#f7f7f7,#f5f6f7,#f3f5f6,#f3f5f6,#f3f5f6,#f5f6f7,#f7f7f7)"></i>
<i style="top:556px;background:linear-gradient(90deg,#f5f6f7,#f2f5f6,#f2f5f6,#f3f5f6,#f5f6f7,#f7f7f7,#f7f7f7,#f7f7f7,#f7f5f4,#f7f5f4,#f8f4f2,#f8f4f2,#f8f3f0,#f8f3f0,#f8f3f0,#f8f3f0,#f8f3f0,#f8f3f0,#f8f4f2,#f8f4f2,#f8f4f2,#f8f4f2,#f8f4f2,#f8f3f0,#f8f3f0,#f8f3f0,#f8f3f0,#f8f3f0,#f8f3f0,#f8f4f2,#f8f4f2,#f7f5f4,#f7f5f4,#f7f7f7,#f7f7f7,#f7f7f7,#f5f6f7,#f3f5f6,#f2f5f6,#f2f5f6,#f5f6f7)"></i>
<i style="top:558px;background:linear-gradient(90deg,#f3f5f6,#f2f5f6,#f2f5f6,#f3f5f6,#f5f6f7,#f7f7f7,#f7f7f7,#f7f5f4,#f7f5f4,#f7f5f4,#f8f4f2,#f8f4f2,#f8f4f2,#f8f4f2,#f8f4f2,#f8f4f2,#f7f5f4,#f7f5f4,#f7f5f4,#f7f5f4,#f7f5f4,#f7f5f4,#f7f5f4,#f7f5f4,#f7f5f4,#f8f4f2,#f8f4f2,#f8f4f2,#f8f4f2,#f8f4f2,#f8f4f2,#f7f5f4,#f7f5f4,#f7f5f4,#f7f7f7,#f7f7f7,#f5f6f7,#f3f5f6,#f2f5f6,#f2f5f6,#f3f5f6)"></i>
<i style="top:560px;background:linear-gradient(90deg,#f2f5f6,#f2f5f6,#f2f5f6,#f5f6f7,#f7f7f7,#f7f7f7,#f7f6f6,#f7f5f4,#f7f5f4,#f7f5f4,#f7f5f4,#f7f5f4,#f7f5f4,#f7f5f4,#f7f5f4,#f7f6f6,#f7f7f7,#f7f7f7,#f7f7f7,#f7f7f7,#f7f7f7,#f7f7f7,#f7f7f7,#f7f7f7,#f7f7f7,#f7f6f6,#f7f5f4,#f7f5f4,#f7f5f4,#f7f5f4,#f7f5f4,#f7f5f4,#f7f5f4,#f7f5f4,#f7f6f6,#f7f7f7,#f7f7f7,#f5f6f7,#f2f5f6,#f2f5f6,#f2f5f6)"></i>
<i style="top:562px;background:linear-gradient(90deg,#f2f5f6,#f2f5f6,#f3f5f6,#f7f7f7,#f7f7f7,#f7f6f6,#f7f5f4,#f7f5f4,#f7f5f4,#f7f5f4,#f7f5f4,#f7f5f4,#f7f7f7,#f7f7f7,#f7f7f7,#f7f7f7,#f7f7f7,#f6f7f7,#f5f6f7,#f5f6f7,#f5f6f7,#f5f6f7,#f5f6f7,#f6f7f7,#f7f7f7,#f7f7f7,#f7f7f7,#f7f7f7,#f7f7f7,#f7f5f4,#f7f5f4,#f7f5f4,#f7f5f4,#f7f5f4,#f7f5f4,#f7f6f6,#f7f7f7,#f7f7f7,#f3f5f6,#f2f5f6,#f2f5f6)"></i>
<i style="top:564px;background:linear-gradient(90deg,#f2f5f6,#f3f5f6,#f6f7f7,#f7f7f7,#f7f6f6,#f7f5f4,#f7f5f4,#f7f5f4,#f7f6f6,#f7f6f6,#f7f7f7,#f7f7f7,#f7f7f7,#f7f7f7,#f5f6f7,#f5f6f7,#f5f6f7,#f5f6f7,#f5f6f7,#f3f5f6,#f3f5f6,#f3f5f6,#f5f6f7,#f5f6f7,#f5f6f7,#f5f6f7,#f5f6f7,#f7f7f7,#f7f7f7,#f7f7f7,#f7f7f7,#f7f6f6,#f7f6f6,#f7f5f4,#f7f5f4,#f7f5f4,#f7f6f6,#f7f7f7,#f6f7f7,#f3f5f6,#f2f5f6)"></i>
<i style="top:566px;background:linear-gradient(90deg,#f3f5f6,#f5f6f7,#f7f7f7,#f7f5f4,#f7f5f4,#f7f5f4,#f7f6f6,#f7f7f7,#f7f7f7,#f7f7f7,#f7f7f7,#f7f7f7,#f5f6f7,#f5f6f7,#f5f6f7,#f3f5f6,#f3f5f6,#f3f5f6,#f3f5f6,#f3f5f6,#f3f5f6,#f3f5f6,#f3f5f6,#f3f5f6,#f3f5f6,#f3f5f6,#f5f6f7,#f5f6f7,#f5f6f7,#f7f7f7,#f7f7f7,#f7f7f7,#f7f7f7,#f7f7f7,#f7f6f6,#f7f5f4,#f7f5f4,#f7f5f4,#f7f7f7,#f5f6f7,#f3f5f6)"></i>
<i style="top:568px;background:linear-gradient(90deg,#f5f6f7,#f7f7f7,#f7f5f4,#f7f5f4,#f7f5f4,#f7f6f6,#f7f7f7,#f7f7f7,#f7f7f7,#f7f7f7,#f6f7f7,#f5f6f7,#f5f6f7,#f5f6f7,#f3f5f6,#f3f5f6,#f3f5f6,#f3f5f6,#f3f5f6,#f3f5f6,#f3f5f6,#f3f5f6,#f3f5f6,#f3f5f6,#f3f5f6,#f3f5f6,#f3f5f6,#f5f6f7,#f5f6f7,#f5f6f7,#f6f7f7,#f7f7f7,#f7f7f7,#f7f7f7,#f7f7f7,#f7f6f6,#f7f5f4,#f7f5f4,#f7f5f4,#f7f7f7,#f5f6f7)"></i>
<i style="top:570px;background:linear-gradient(90deg,#f7f7f7,#f7f5f4,#f8f4f2,#f7f5f4,#f7f5f4,#f7f7f7,#f7f7f7,#f7f7f7,#f7f7f7,#f6f7f7,#f5f6f7,#f5f6f7,#f5f6f7,#f3f5f6,#f3f5f6,#f3f5f6,#f3f5f6,#f3f5f6,#f3f5f6,#f3f5f6,#f3f5f6,#f3f5f6,#f3f5f6,#f3f5f6,#f3f5f6,#f3f5f6,#f3f5f6,#f3f5f6,#f5f6f7,#f5f6f7,#f5f6f7,#f6f7f7,#f7f7f7,#f7f7f7,#f7f7f7,#f7f7f7,#f7f5f4,#f7f5f4,#f8f4f2,#f7f5f4,#f7f7f7)"></i>
<i style="top:572px;background:linear-gradient(90deg,#f7f5f4,#f8f4f2,#f8f4f2,#f7f5f4,#f7f5f4,#f7f7f7,#f7f7f7,#f7f7f7,#f6f7f7,#f5f6f7,#f5f6f7,#f5f6f7,#f5f6f7,#f5f6f7,#f5f6f7,#f5f6f7,#f5f6f7,#f5f6f7,#f5f6f7,#f5f6f7,#f5f6f7,#f5f6f7,#f5f6f7,#f5f6f7,#f5f6f7,#f5f6f7,#f5f6f7,#f5f6f7,#f5f6f7,#f5f6f7,#f5f6f7,#f5f6f7,#f6f7f7,#f7f7f7,#f7f7f7,#f7f7f7,#f7f5f4,#f7f5f4,#f8f4f2,#f8f4f2,#f7f5f4)"></i>
<i style="top:574px;background:linear-gradient(90deg,#f8f4f2,#f8f4f2,#f8f4f2,#f7f5f4,#f7f7f7,#f7f7f7,#f7f7f7,#f7f7f7,#f6f7f7,#f5f6f7,#f5f6f7,#f5f6f7,#f5f6f7,#f5f6f7,#f5f6f7,#f5f6f7,#f6f7f7,#f6f7f7,#f7f7f7,#f7f7f7,#f7f7f7,#f7f7f7,#f7f7f7,#f6f7f7,#f6f7f7,#f5f6f7,#f5f6f7,#f5f6f7,#f5f6f7,#f5f6f7,#f5f6f7,#f5f6f7,#f6f7f7,#f7f7f7,#f7f7f7,#f7f7f7,#f7f7f7,#f7f5f4,#f8f4f2,#f8f4f2,#f8f4f2)"></i>
<i style="top:576px;background:linear-gradient(90deg,#f8f4f2,#f8f4f2,#f7f5f4,#f7f6f6,#f7f7f7,#f7f7f7,#f7f7f7,#f6f7f7,#f6f7f7,#f5f6f7,#f5f6f7,#f6f7f7,#f6f7f7,#f7f7f7,#f7f7f7,#f7f7f7,#f7f7f7,#f7f7f7,#f7f7f7,#f7f7f7,#f7f7f7,#f7f7f7,#f7f7f7,#f7f7f7,#f7f7f7,#f7f7f7,#f7f7f7,#f7f7f7,#f6f7f7,#f6f7f7,#f5f6f7,#f5f6f7,#f6f7f7,#f6f7f7,#f7f7f7,#f7f7f7,#f7f7f7,#f7f6f6,#f7f5f4,#f8f4f2,#f8f4f2)"></i>
<i style="top:578px;background:linear-gradient(90deg,#f8f4f2,#f8f4f2,#f7f5f4,#f7f7f7,#f7f7f7,#f7f7f7,#f7f7f7,#f7f7f7,#f7f7f7,#f7f7f7,#f7f7f7,#f7f7f7,#f7f7f7,#f7f7f7,#f7f7f7,#f7f7f7,#f7f7f7,#f7f6f6,#f7f6f6,#f7f6f6,#f7f6f6,#f7f6f6,#f7f6f6,#f7f6f6,#f7f7f7,#f7f7f7,#f7f7f7,#f7f7f7,#f7f7f7,#f7f7f7,#f7f7f7,#f7f7f7,#f7f7f7,#f7f7f7,#f7f7f7,#f7f7f7,#f7f7f7,#f7f7f7,#f7f5f4,#f8f4f2,#f8f4f2)"></i>
<i style="top:580px;background:linear-gradient(90deg,#f7f5f4,#f7f5f4,#f7f7f7,#f7f7f7,#f7f7f7,#f7f7f7,#f7f7f7,#f7f7f7,#f7f7f7,#f7f7f7,#f7f7f7,#f7f7f7,#f7f7f7,#f7f7f7,#f7f6f6,#f7f5f4,#f7f5f4,#f7f5f4,#f7f5f4,#f7f5f4,#f7f5f4,#f7f5f4,#f7f5f4,#f7f5f4,#f7f5f4,#f7f5f4,#f7f6f6,#f7f7f7,#f7f7f7,#f7f7f7,#f7f7f7,#f7f7f7,#f7f7f7,#f7f7f7,#f7f7f7,#f7f7f7,#f7f7f7,#f7f7f7,#f7f7f7,#f7f5f4,#f7f5f4)"></i>
<i style="top:582px;background:linear-gradient(90deg,#f7f5f4,#f7f7f7,#f7f7f7,#f6f7f7,#f6f7f7,#f7f7f7,#f7f7f7,#f7f7f7,#f7f7f7,#f7f7f7,#f7f7f7,#f7f7f7,#f7f6f6,#f7f5f4,#f7f5f4,#f7f5f4,#f7f5f4,#f7f5f4,#f7f5f4,#f7f5f4,#f7f5f4,#f7f5f4,#f7f5f4,#f7f5f4,#f7f5f4,#f7f5f4,#f7f5f4,#f7f5f4,#f7f6f6,#f7f7f7,#f7f7f7,#f7f7f7,#f7f7f7,#f7f7f7,#f7f7f7,#f7f7f7,#f6f7f7,#f6f7f7,#f7f7f7,#f7f7f7,#f7f5f4)"></i>
<i style="top:584px;background:linear-gradient(90deg,#f7f7f7,#f7f7f7,#f5f6f7,#f5f6f7,#f6f7f7,#f7f7f7,#f7f7f7,#f7f7f7,#f7f7f7,#f7f7f7,#f7f7f7,#f7f6f6,#f7f5f4,#f7f5f4,#f7f5f4,#f7f5f4,#f7f5f4,#f7f5f4,#f7f5f4,#f7f5f4,#f7f5f4,#f7f5f4,#f7f5f4,#f7f5f4,#f7f5f4,#f7f5f4,#f7f5f4,#f7f5f4,#f7f5f4,#f7f6f6,#f7f7f7,#f7f7f7,#f7f7f7,#f7f7f7,#f7f7f7,#f7f7f7,#f6f7f7,#f5f6f7,#f5f6f7,#f7f7f7,#f7f7f7)"></i>
<i style="top:586px;background:linear-gradient(90deg,#f7f7f7,#f5f6f7,#f5f6f7,#f5f6f7,#f6f7f7,#f7f7f7,#f7f7f7,#f7f7f7,#f7f7f7,#f7f7f7,#f7f6f6,#f7f5f4,#f7f5f4,#f7f5f4,#f7f5f4,#f7f5f4,#f7f5f4,#f7f5f4,#f7f5f4,#f7f5f4,#f7f5f4,#f7f5f4,#f7f5f4,#f7f5f4,#f7f5f4,#f7f5f4,#f7f5f4,#f7f5f4,#f7f5f4,#f7f5f4,#f7f6f6,#f7f7f7,#f7f7f7,#f7f7f7,#f7f7f7,#f7f7f7,#f6f7f7,#f5f6f7,#f5f6f7,#f5f6f7,#f7f7f7)"></i>
<i style="top:588px;background:linear-gradient(90deg,#f5f6f7,#f5f6f7,#f5f6f7,#f5f6f7,#f7f7f7,#f7f7f7,#f7f7f7,#f7f7f7,#f7f7f7,#f7f7f7,#f7f6f6,#f7f6f6,#f7f5f4,#f7f5f4,#f7f5f4,#f7f6f6,#f7f6f6,#f7f6f6,#f7f7f7,#f7f7f7,#f7f7f7,#f7f7f7,#f7f7f7,#f7f6f6,#f7f6f6,#f7f6f6,#f7f5f4,#f7f5f4,#f7f5f4,#f7f6f6,#f7f6f6,#f7f7f7,#f7f7f7,#f7f7f7,#f7f7f7,#f7f7f7,#f7f7f7,#f5f6f7,#f5f6f7,#f5f6f7,#f5f6f7)"></i>
<i style="top:590px;background:linear-gradient(90deg,#f5f6f7,#f5f6f7,#f5f6f7,#f6f7f7,#f7f7f7,#f7f7f7,#f7f7f7,#f7f7f7,#f7f7f7,#f7f7f7,#f7f6f6,#f7f6f6,#f7f7f7,#f7f7f7,#f7f7f7,#f7f7f7,#f7f7f7,#f7f7f7,#f7f7f7,#f7f7f7,#f7f7f7,#f7f7f7,#f7f7f7,#f7f7f7,#f7f7f7,#f7f7f7,#f7f7f7,#f7f7f7,#f7f7f7,#f7f6f6,#f7f6f6,#f7f7f7,#f7f7f7,#f7f7f7,#f7f7f7,#f7f7f7,#f7f7f7,#f6f7f7,#f5f6f7,#f5f6f7,#f5f6f7)"></i>
<i style="top:592px;background:linear-gradient(90deg,#f5f6f7,#f5f6f7,#f5f6f7,#f7f7f7,#f7f7f7,#f7f7f7,#f7f7f7,#f7f7f7,#f7f7f7,#f7f7f7,#f7f7f7,#f7f7f7,#f7f7f7,#f7f7f7,#f7f7f7,#f7f7f7,#f7f7f7,#f7f7f7,#f7f7f7,#f7f7f7,#f7f7f7,#f7f7f7,#f7f7f7,#f7f7f7,#f7f7f7,#f7f7f7,#f7f7f7,#f7f7f7,#f7f7f7,#f7f7f7,#f7f7f7,#f7f7f7,#f7f7f7,#f7f7f7,#f7f7f7,#f7f7f7,#f7f7f7,#f7f7f7,#f5f6f7,#f5f6f7,#f5f6f7)"></i>
<i style="top:594px;background:linear-gradient(90deg,#f5f6f7,#f5f6f7,#f7f7f7,#f7f7f7,#f7f7f7,#f7f7f7,#f7f7f7,#f7f7f7,#f7f7f7,#f7f7f7,#f7f7f7,#f7f7f7,#f7f7f7,#f7f7f7,#f7f7f7,#f7f7f7,#f7f7f7,#f7f7f7,#f7f7f7,#f7f7f7,#f7f7f7,#f7f7f7,#f7f7f7,#f7f7f7,#f7f7f7,#f7f7f7,#f7f7f7,#f7f7f7,#f7f7f7,#f7f7f7,#f7f7f7,#f7f7f7,#f7f7f7,#f7f7f7,#f7f7f7,#f7f7f7,#f7f7f7,#f7f7f7,#f7f7f7,#f5f6f7,#f5f6f7)"></i>
<i style="top:596px;background:linear-gradient(90deg,#f5f6f7,#f7f7f7,#f7f7f7,#f7f7f7,#f7f7f7,#f7f7f7,#f7f7f7,#f7f7f7,#f7f7f7,#f7f7f7,#f7f7f7,#f7f7f7,#f7f7f7,#f7f7f7,#f7f7f7,#f6f7f7,#f6f7f7,#f6f7f7,#f6f7f7,#f6f7f7,#f6f7f7,#f6f7f7,#f6f7f7,#f6f7f7,#f6f7f7,#f6f7f7,#f7f7f7,#f7f7f7,#f7f7f7,#f7f7f7,#f7f7f7,#f7f7f7,#f7f7f7,#f7f7f7,#f7f7f7,#f7f7f7,#f7f7f7,#f7f7f7,#f7f7f7,#f7f7f7,#f5f6f7)"></i>
<i style="top:598px;background:linear-gradient(90deg,#f7f7f7,#f7f7f7,#f7f7f7,#f7f7f7,#f7f7f7,#f7f7f7,#f7f7f7,#f7f7f7,#f7f7f7,#f7f7f7,#f7f7f7,#f7f7f7,#f7f7f7,#f7f7f7,#f6f7f7,#f6f7f7,#f6f7f7,#f5f6f7,#f5f6f7,#f5f6f7,#f5f6f7,#f5f6f7,#f5f6f7,#f5f6f7,#f6f7f7,#f6f7f7,#f6f7f7,#f7f7f7,#f7f7f7,#f7f7f7,#f7f7f7,#f7f7f7,#f7f7f7,#f7f7f7,#f7f7f7,#f7f7f7,#f7f7f7,#f7f7f7,#f7f7f7,#f7f7f7,#f7f7f7)"></i>
<i style="top:600px;background:linear-gradient(90deg,#f7f7f7,#f7f7f7,#f7f6f6,#f7f7f7,#f7f7f7,#f7f7f7,#f7f7f7,#f7f7f7,#f7f7f7,#f7f7f7,#f7f7f7,#f7f7f7,#f7f7f7,#f6f7f7,#f6f7f7,#f6f7f7,#f6f7f7,#f6f7f7,#f6f7f7,#f6f7f7,#f6f7f7,#f6f7f7,#f6f7f7,#f6f7f7,#f6f7f7,#f6f7f7,#f6f7f7,#f6f7f7,#f7f7f7,#f7f7f7,#f7f7f7,#f7f7f7,#f7f7f7,#f7f7f7,#f7f7f7,#f7f7f7,#f7f7f7,#f7f7f7,#f7f6f6,#f7f7f7,#f7f7f7)"></i>
<i style="top:602px;background:linear-gradient(90deg,#f7f7f7,#f7f6f6,#f7f6f6,#f7f7f7,#f7f7f7,#f7f7f7,#f7f7f7,#f7f7f7,#f7f7f7,#f7f7f7,#f7f7f7,#f7f7f7,#f7f7f7,#f6f7f7,#f6f7f7,#f6f7f7,#f7f7f7,#f7f7f7,#f7f7f7,#f7f7f7,#f7f7f7,#f7f7f7,#f7f7f7,#f7f7f7,#f7f7f7,#f6f7f7,#f6f7f7,#f6f7f7,#f7f7f7,#f7f7f7,#f7f7f7,#f7f7f7,#f7f7f7,#f7f7f7,#f7f7f7,#f7f7f7,#f7f7f7,#f7f7f7,#f7f6f6,#f7f6f6,#f7f7f7)"></i>
<i style="top:604px;background:linear-gradient(90deg,#f7f6f6,#f7f5f4,#f7f6f6,#f7f7f7,#f7f7f7,#f7f7f7,#f7f7f7,#f7f7f7,#f7f7f7,#f7f7f7,#f7f7f7,#f7f7f7,#f7f7f7,#f7f7f7,#f7f7f7,#f7f7f7,#f7f7f7,#f7f7f7,#f7f7f7,#f7f7f7,#f7f7f7,#f7f7f7,#f7f7f7,#f7f7f7,#f7f7f7,#f7f7f7,#f7f7f7,#f7f7f7,#f7f7f7,#f7f7f7,#f7f7f7,#f7f7f7,#f7f7f7,#f7f7f7,#f7f7f7,#f7f7f7,#f7f7f7,#f7f7f7,#f7f6f6,#f7f5f4,#f7f6f6)"></i>
<i style="top:606px;background:linear-gradient(90deg,#f7f6f6,#f7f5f4,#f7f7f7,#f7f7f7,#f7f7f7,#f7f7f7,#f7f7f7,#f7f7f7,#f7f7f7,#f7f7f7,#f7f7f7,#f7f7f7,#f7f7f7,#f7f7f7,#f7f7f7,#f7f7f7,#f7f7f7,#f7f7f7,#f7f7f7,#f7f7f7,#f7f7f7,#f7f7f7,#f7f7f7,#f7f7f7,#f7f7f7,#f7f7f7,#f7f7f7,#f7f7f7,#f7f7f7,#f7f7f7,#f7f7f7,#f7f7f7,#f7f7f7,#f7f7f7,#f7f7f7,#f7f7f7,#f7f7f7,#f7f7f7,#f7f7f7,#f7f5f4,#f7f6f6)"></i>
<i style="top:608px;background:linear-gradient(90deg,#f7f6f6,#f7f6f6,#f7f7f7,#f7f7f7,#f7f7f7,#f7f7f7,#f7f7f7,#f7f7f7,#f7f7f7,#f7f7f7,#f7f7f7,#f7f7f7,#f7f7f7,#f7f7f7,#f7f7f7,#f7f7f7,#f7f7f7,#f7f7f7,#f7f7f7,#f7f7f7,#f7f7f7,#f7f7f7,#f7f7f7,#f7f7f7,#f7f7f7,#f7f7f7,#f7f7f7,#f7f7f7,#f7f7f7,#f7f7f7,#f7f7f7,#f7f7f7,#f7f7f7,#f7f7f7,#f7f7f7,#f7f7f7,#f7f7f7,#f7f7f7,#f7f7f7,#f7f6f6,#f7f6f6)"></i>
<i style="top:610px;background:linear-gradient(90deg,#f7f6f6,#f7f7f7,#f7f7f7,#f7f7f7,#f7f7f7,#f7f7f7,#f7f7f7,#f7f7f7,#f7f7f7,#f7f7f7,#f7f7f7,#f7f7f7,#f7f7f7,#f7f7f7,#f7f7f7,#f7f7f7,#f7f7f7,#f7f7f7,#f7f7f7,#f7f7f7,#f7f7f7,#f7f7f7,#f7f7f7,#f7f7f7,#f7f7f7,#f7f7f7,#f7f7f7,#f7f7f7,#f7f7f7,#f7f7f7,#f7f7f7,#f7f7f7,#f7f7f7,#f7f7f7,#f7f7f7,#f7f7f7,#f7f7f7,#f7f7f7,#f7f7f7,#f7f7f7,#f7f6f6)"></i>
</div>
<div class="dg" style="-webkit-mask-image:linear-gradient(180deg,rgba(0,0,0,0),rgba(0,0,0,0),rgba(0,0,0,0),rgba(0,0,0,0),rgba(0,0,0,0),rgba(0,0,0,0),rgba(0,0,0,0),rgba(0,0,0,0),rgba(0,0,0,0),rgba(0,0,0,0),rgba(0,0,0,0),rgba(0,0,0,0),rgba(0,0,0,0),rgba(0,0,0,0),rgba(0,0,0,0),rgba(0,0,0,0),rgba(0,0,0,0.02),rgba(0,0,0,0.11),rgba(0,0,0,0.35),rgba(0,0,0,0.73),rgba(0,0,0,0.99),rgba(0,0,0,0.87),rgba(0,0,0,0.49),rgba(0,0,0,0.18),rgba(0,0,0,0.04));mask-image:linear-gradient(180deg,rgba(0,0,0,0),rgba(0,0,0,0),rgba(0,0,0,0),rgba(0,0,0,0),rgba(0,0,0,0),rgba(0,0,0,0),rgba(0,0,0,0),rgba(0,0,0,0),rgba(0,0,0,0),rgba(0,0,0,0),rgba(0,0,0,0),rgba(0,0,0,0),rgba(0,0,0,0),rgba(0,0,0,0),rgba(0,0,0,0),rgba(0,0,0,0),rgba(0,0,0,0.02),rgba(0,0,0,0.11),rgba(0,0,0,0.35),rgba(0,0,0,0.73),rgba(0,0,0,0.99),rgba(0,0,0,0.87),rgba(0,0,0,0.49),rgba(0,0,0,0.18),rgba(0,0,0,0.04))"><div class="dg" style="-webkit-mask-image:linear-gradient(90deg,rgba(0,0,0,1),rgba(0,0,0,0.95),rgba(0,0,0,0.82),rgba(0,0,0,0.64),rgba(0,0,0,0.45),rgba(0,0,0,0.29),rgba(0,0,0,0.17),rgba(0,0,0,0.09),rgba(0,0,0,0.04),rgba(0,0,0,0.02),rgba(0,0,0,0.01),rgba(0,0,0,0),rgba(0,0,0,0),rgba(0,0,0,0),rgba(0,0,0,0),rgba(0,0,0,0),rgba(0,0,0,0),rgba(0,0,0,0),rgba(0,0,0,0),rgba(0,0,0,0),rgba(0,0,0,0));mask-image:linear-gradient(90deg,rgba(0,0,0,1),rgba(0,0,0,0.95),rgba(0,0,0,0.82),rgba(0,0,0,0.64),rgba(0,0,0,0.45),rgba(0,0,0,0.29),rgba(0,0,0,0.17),rgba(0,0,0,0.09),rgba(0,0,0,0.04),rgba(0,0,0,0.02),rgba(0,0,0,0.01),rgba(0,0,0,0),rgba(0,0,0,0),rgba(0,0,0,0),rgba(0,0,0,0),rgba(0,0,0,0),rgba(0,0,0,0),rgba(0,0,0,0),rgba(0,0,0,0),rgba(0,0,0,0),rgba(0,0,0,0))"><div class="dg" style="background:repeating-linear-gradient(24.06deg,#fffaf6 0px,#fffefe 2.54px,#fafcfe 5.08px,#f5fafd 7.62px,#f3fafd 10.15px,#f5fafd 12.69px,#f8fcfe 15.23px,#feffff 17.77px,#fffbf8 20.31px,#fff8f2 22.85px,#fff6f0 25.39px,#fff8f2 27.92px,#fffaf6 30.46px)"></div></div></div>
<div class="dg" style="-webkit-mask-image:linear-gradient(180deg,rgba(0,0,0,0),rgba(0,0,0,0),rgba(0,0,0,0),rgba(0,0,0,0),rgba(0,0,0,0),rgba(0,0,0,0),rgba(0,0,0,0),rgba(0,0,0,0),rgba(0,0,0,0),rgba(0,0,0,0),rgba(0,0,0,0),rgba(0,0,0,0),rgba(0,0,0,0),rgba(0,0,0,0),rgba(0,0,0,0),rgba(0,0,0,0),rgba(0,0,0,0.02),rgba(0,0,0,0.11),rgba(0,0,0,0.35),rgba(0,0,0,0.73),rgba(0,0,0,0.99),rgba(0,0,0,0.87),rgba(0,0,0,0.49),rgba(0,0,0,0.18),rgba(0,0,0,0.04));mask-image:linear-gradient(180deg,rgba(0,0,0,0),rgba(0,0,0,0),rgba(0,0,0,0),rgba(0,0,0,0),rgba(0,0,0,0),rgba(0,0,0,0),rgba(0,0,0,0),rgba(0,0,0,0),rgba(0,0,0,0),rgba(0,0,0,0),rgba(0,0,0,0),rgba(0,0,0,0),rgba(0,0,0,0),rgba(0,0,0,0),rgba(0,0,0,0),rgba(0,0,0,0),rgba(0,0,0,0.02),rgba(0,0,0,0.11),rgba(0,0,0,0.35),rgba(0,0,0,0.73),rgba(0,0,0,0.99),rgba(0,0,0,0.87),rgba(0,0,0,0.49),rgba(0,0,0,0.18),rgba(0,0,0,0.04))"><div class="dg" style="-webkit-mask-image:linear-gradient(90deg,rgba(0,0,0,0),rgba(0,0,0,0),rgba(0,0,0,0),rgba(0,0,0,0),rgba(0,0,0,0),rgba(0,0,0,0),rgba(0,0,0,0),rgba(0,0,0,0),rgba(0,0,0,0),rgba(0,0,0,0),rgba(0,0,0,0.01),rgba(0,0,0,0.02),rgba(0,0,0,0.04),rgba(0,0,0,0.09),rgba(0,0,0,0.17),rgba(0,0,0,0.29),rgba(0,0,0,0.45),rgba(0,0,0,0.64),rgba(0,0,0,0.82),rgba(0,0,0,0.95),rgba(0,0,0,1));mask-image:linear-gradient(90deg,rgba(0,0,0,0),rgba(0,0,0,0),rgba(0,0,0,0),rgba(0,0,0,0),rgba(0,0,0,0),rgba(0,0,0,0),rgba(0,0,0,0),rgba(0,0,0,0),rgba(0,0,0,0),rgba(0,0,0,0),rgba(0,0,0,0.01),rgba(0,0,0,0.02),rgba(0,0,0,0.04),rgba(0,0,0,0.09),rgba(0,0,0,0.17),rgba(0,0,0,0.29),rgba(0,0,0,0.45),rgba(0,0,0,0.64),rgba(0,0,0,0.82),rgba(0,0,0,0.95),rgba(0,0,0,1))"><div class="dg" style="background:repeating-linear-gradient(-24.06deg,#fffaf6 0px,#fffefe 2.54px,#fafcfe 5.08px,#f5fafd 7.62px,#f3fafd 10.15px,#f5fafd 12.69px,#f8fcfe 15.23px,#feffff 17.77px,#fffbf8 20.31px,#fff8f2 22.85px,#fff6f0 25.39px,#fff8f2 27.92px,#fffaf6 30.46px)"></div></div></div>
</div>
<svg width="2550" height="1050" viewBox="0 0 2550 1050" style="position:absolute;left:0;top:0">
<defs><linearGradient id="cb" x1="0" y1="0" x2="0" y2="1"><stop offset="0%" stop-color="#053061"/><stop offset="1.56%" stop-color="#08366a"/><stop offset="3.12%" stop-color="#0d3f76"/><stop offset="4.69%" stop-color="#114781"/><stop offset="6.25%" stop-color="#15508d"/><stop offset="7.81%" stop-color="#1a5899"/><stop offset="9.38%" stop-color="#1e61a5"/><stop offset="10.94%" stop-color="#2369ad"/><stop offset="12.5%" stop-color="#2870b1"/><stop offset="14.06%" stop-color="#2e77b5"/><stop offset="15.62%" stop-color="#337eb8"/><stop offset="17.19%" stop-color="#3885bc"/><stop offset="18.75%" stop-color="#3e8cbf"/><stop offset="20.31%" stop-color="#4393c3"/><stop offset="21.88%" stop-color="#4f9bc7"/><stop offset="23.44%" stop-color="#5ca3cb"/><stop offset="25%" stop-color="#68abd0"/><stop offset="26.56%" stop-color="#75b2d4"/><stop offset="28.12%" stop-color="#81bad8"/><stop offset="29.69%" stop-color="#8dc2dc"/><stop offset="31.25%" stop-color="#98c8e0"/><stop offset="32.81%" stop-color="#a2cde3"/><stop offset="34.38%" stop-color="#acd2e5"/><stop offset="35.94%" stop-color="#b6d7e8"/><stop offset="37.5%" stop-color="#c0dceb"/><stop offset="39.06%" stop-color="#cae1ee"/><stop offset="40.62%" stop-color="#d2e6f0"/><stop offset="42.19%" stop-color="#d8e9f1"/><stop offset="43.75%" stop-color="#deebf2"/><stop offset="45.31%" stop-color="#e4eef4"/><stop offset="46.88%" stop-color="#eaf1f5"/><stop offset="48.44%" stop-color="#f0f4f6"/><stop offset="50%" stop-color="#f6f7f7"/><stop offset="51.56%" stop-color="#f8f3f0"/><stop offset="53.12%" stop-color="#f9efe9"/><stop offset="54.69%" stop-color="#faeae1"/><stop offset="56.25%" stop-color="#fbe6da"/><stop offset="57.81%" stop-color="#fce2d2"/><stop offset="59.38%" stop-color="#fdddcb"/><stop offset="60.94%" stop-color="#fcd7c2"/><stop offset="62.5%" stop-color="#fbceb7"/><stop offset="64.06%" stop-color="#f9c6ac"/><stop offset="65.62%" stop-color="#f8bda1"/><stop offset="67.19%" stop-color="#f7b596"/><stop offset="68.75%" stop-color="#f5ac8b"/><stop offset="70.31%" stop-color="#f3a481"/><stop offset="71.88%" stop-color="#ef9979"/><stop offset="73.44%" stop-color="#ea8e70"/><stop offset="75%" stop-color="#e58368"/><stop offset="76.56%" stop-color="#e17860"/><stop offset="78.12%" stop-color="#dc6e57"/><stop offset="79.69%" stop-color="#d7634f"/><stop offset="81.25%" stop-color="#d25849"/><stop offset="82.81%" stop-color="#cc4c44"/><stop offset="84.38%" stop-color="#c6413e"/><stop offset="85.94%" stop-color="#c13639"/><stop offset="87.5%" stop-color="#bb2a34"/><stop offset="89.06%" stop-color="#b61f2e"/><stop offset="90.62%" stop-color="#ae172a"/><stop offset="92.19%" stop-color="#a21328"/><stop offset="93.75%" stop-color="#960f27"/><stop offset="95.31%" stop-color="#8a0b25"/><stop offset="96.88%" stop-color="#7f0823"/><stop offset="98.44%" stop-color="#730421"/><stop offset="100%" stop-color="#67001f"/></linearGradient></defs>
<path d="M263.5 166.5V860.5M302.5 166.5V860.5M340.5 166.5V860.5M379.5 166.5V860.5M418.5 166.5V860.5M456.5 166.5V860.5M495.5 166.5V860.5M533.5 166.5V860.5M572.5 166.5V860.5M610.5 166.5V860.5M649.5 166.5V860.5M687.5 166.5V860.5M726.5 166.5V860.5M765.5 166.5V860.5M803.5 166.5V860.5M842.5 166.5V860.5M880.5 166.5V860.5M919.5 166.5V860.5M957.5 166.5V860.5M225.5 850.5H996.5M225.5 812.5H996.5M225.5 773.5H996.5M225.5 735.5H996.5M225.5 696.5H996.5M225.5 657.5H996.5M225.5 619.5H996.5M225.5 580.5H996.5M225.5 542.5H996.5M225.5 503.5H996.5M225.5 465.5H996.5M225.5 426.5H996.5M225.5 388.5H996.5M225.5 349.5H996.5M225.5 310.5H996.5M225.5 272.5H996.5M225.5 233.5H996.5M225.5 195.5H996.5" stroke="#b0b0b0" stroke-width="3.33" fill="none"/>
<path d="M225.5 860.5v14.6M418.5 860.5v14.6M610.5 860.5v14.6M803.5 860.5v14.6M996.5 860.5v14.6M225.5 773.5h-14.6M225.5 580.5h-14.6M225.5 388.5h-14.6M225.5 195.5h-14.6M1049.5 791.5h14.6M1049.5 652.5h14.6M1049.5 513.5h14.6M1049.5 374.5h14.6M1049.5 235.5h14.6" stroke="#000" stroke-width="3.33" fill="none"/>
<path d="M263.5 860.5v8.3M302.5 860.5v8.3M340.5 860.5v8.3M379.5 860.5v8.3M456.5 860.5v8.3M495.5 860.5v8.3M533.5 860.5v8.3M572.5 860.5v8.3M649.5 860.5v8.3M687.5 860.5v8.3M726.5 860.5v8.3M765.5 860.5v8.3M842.5 860.5v8.3M880.5 860.5v8.3M919.5 860.5v8.3M957.5 860.5v8.3M225.5 850.5h-8.3M225.5 812.5h-8.3M225.5 735.5h-8.3M225.5 696.5h-8.3M225.5 657.5h-8.3M225.5 619.5h-8.3M225.5 542.5h-8.3M225.5 503.5h-8.3M225.5 465.5h-8.3M225.5 426.5h-8.3M225.5 349.5h-8.3M225.5 310.5h-8.3M225.5 272.5h-8.3M225.5 233.5h-8.3" stroke="#000" stroke-width="2.5" fill="none"/>
<rect x="225.5" y="166.5" width="771" height="694" fill="none" stroke="#000" stroke-width="3.33"/>
<rect x="1011.5" y="166.5" width="38" height="694" fill="url(#cb)" stroke="#000" stroke-width="3.33"/>
<path d="M1514.5 166.5V860.5M1552.5 166.5V860.5M1591.5 166.5V860.5M1629.5 166.5V860.5M1668.5 166.5V860.5M1706.5 166.5V860.5M1745.5 166.5V860.5M1783.5 166.5V860.5M1822.5 166.5V860.5M1861.5 166.5V860.5M1899.5 166.5V860.5M1938.5 166.5V860.5M1976.5 166.5V860.5M2015.5 166.5V860.5M2053.5 166.5V860.5M2092.5 166.5V860.5M2131.5 166.5V860.5M2169.5 166.5V860.5M2208.5 166.5V860.5M1475.5 850.5H2246.5M1475.5 812.5H2246.5M1475.5 773.5H2246.5M1475.5 735.5H2246.5M1475.5 696.5H2246.5M1475.5 657.5H2246.5M1475.5 619.5H2246.5M1475.5 580.5H2246.5M1475.5 542.5H2246.5M1475.5 503.5H2246.5M1475.5 465.5H2246.5M1475.5 426.5H2246.5M1475.5 388.5H2246.5M1475.5 349.5H2246.5M1475.5 310.5H2246.5M1475.5 272.5H2246.5M1475.5 233.5H2246.5M1475.5 195.5H2246.5" stroke="#b0b0b0" stroke-width="3.33" fill="none"/>
<path d="M1475.5 860.5v14.6M1668.5 860.5v14.6M1861.5 860.5v14.6M2053.5 860.5v14.6M2246.5 860.5v14.6M1475.5 773.5h-14.6M1475.5 580.5h-14.6M1475.5 388.5h-14.6M1475.5 195.5h-14.6M2300.5 860.5h14.6M2300.5 773.5h14.6M2300.5 687.5h14.6M2300.5 600.5h14.6M2300.5 513.5h14.6M2300.5 426.5h14.6M2300.5 340.5h14.6M2300.5 253.5h14.6M2300.5 166.5h14.6" stroke="#000" stroke-width="3.33" fill="none"/>
<path d="M1514.5 860.5v8.3M1552.5 860.5v8.3M1591.5 860.5v8.3M1629.5 860.5v8.3M1706.5 860.5v8.3M1745.5 860.5v8.3M1783.5 860.5v8.3M1822.5 860.5v8.3M1899.5 860.5v8.3M1938.5 860.5v8.3M1976.5 860.5v8.3M2015.5 860.5v8.3M2092.5 860.5v8.3M2131.5 860.5v8.3M2169.5 860.5v8.3M2208.5 860.5v8.3M1475.5 850.5h-8.3M1475.5 812.5h-8.3M1475.5 735.5h-8.3M1475.5 696.5h-8.3M1475.5 657.5h-8.3M1475.5 619.5h-8.3M1475.5 542.5h-8.3M1475.5 503.5h-8.3M1475.5 465.5h-8.3M1475.5 426.5h-8.3M1475.5 349.5h-8.3M1475.5 310.5h-8.3M1475.5 272.5h-8.3M1475.5 233.5h-8.3" stroke="#000" stroke-width="2.5" fill="none"/>
<rect x="1475.5" y="166.5" width="771" height="694" fill="none" stroke="#000" stroke-width="3.33"/>
<rect x="2261.5" y="166.5" width="39" height="694" fill="url(#cb)" stroke="#000" stroke-width="3.33"/>
<g font-family="'DejaVu Sans', 'Liberation Sans', sans-serif" fill="#000">
<text x="225.5" y="920.33" font-size="41.67" text-anchor="middle">−10</text>
<text x="418.25" y="920.33" font-size="41.67" text-anchor="middle">−5</text>
<text x="611" y="920.33" font-size="41.67" text-anchor="middle">0</text>
<text x="803.75" y="920.33" font-size="41.67" text-anchor="middle">5</text>
<text x="996.5" y="920.33" font-size="41.67" text-anchor="middle">10</text>
<text x="611" y="979.32" font-size="41.67" text-anchor="middle">y [µm]</text>
<text x="196.33" y="788.73" font-size="41.67" text-anchor="end">85</text>
<text x="196.33" y="595.93" font-size="41.67" text-anchor="end">90</text>
<text x="196.33" y="403.13" font-size="41.67" text-anchor="end">95</text>
<text x="196.33" y="210.33" font-size="41.67" text-anchor="end">100</text>
<text x="87.47" y="512.5" font-size="41.67" text-anchor="middle" transform="rotate(-90 87.47 512.5)">x [µm]</text>
<text x="1078.67" y="806.93" font-size="41.67" text-anchor="start">−0.2</text>
<text x="1078.67" y="668.13" font-size="41.67" text-anchor="start">−0.1</text>
<text x="1078.67" y="529.33" font-size="41.67" text-anchor="start">0.0</text>
<text x="1078.67" y="390.53" font-size="41.67" text-anchor="start">0.1</text>
<text x="1078.67" y="251.73" font-size="41.67" text-anchor="start">0.2</text>
<text transform="translate(1228.6 817.04) rotate(-90)" xml:space="preserve"><tspan x="0 26.33 37.9 63.54 86.45 102.78 119.91 131.49 154.4 167.64 191.61 203.19 228.82 240.4 266.85 280.09 306.42 331.08 344.32 360.58" y="-1.5" font-size="41.67">Electric Field Ex (|</tspan><tspan x="374.61" y="-1.5" font-size="41.67" font-style="oblique">e</tspan><tspan x="400.25" y="-1.5" font-size="41.67">|</tspan><tspan x="414.29" y="-1.5" font-size="41.67" font-style="oblique">E</tspan><tspan x="440.61" y="5.34" font-size="29.17" font-style="oblique">x</tspan><tspan x="459.01" y="-1.5" font-size="41.67">/</tspan><tspan x="473.05" y="-1.5" font-size="41.67" font-style="oblique">m</tspan><tspan x="513.64" y="5.34" font-size="29.17">e</tspan><tspan x="532.72 555.63" y="-1.5" font-size="41.67" font-style="oblique">cω</tspan><tspan x="590.52" y="-1.5" font-size="41.67">)</tspan></text>
<text x="1475.5" y="920.33" font-size="41.67" text-anchor="middle">−10</text>
<text x="1668.25" y="920.33" font-size="41.67" text-anchor="middle">−5</text>
<text x="1861" y="920.33" font-size="41.67" text-anchor="middle">0</text>
<text x="2053.75" y="920.33" font-size="41.67" text-anchor="middle">5</text>
<text x="2246.5" y="920.33" font-size="41.67" text-anchor="middle">10</text>
<text x="1861" y="979.32" font-size="41.67" text-anchor="middle">y [µm]</text>
<text x="1446.33" y="788.73" font-size="41.67" text-anchor="end">85</text>
<text x="1446.33" y="595.93" font-size="41.67" text-anchor="end">90</text>
<text x="1446.33" y="403.13" font-size="41.67" text-anchor="end">95</text>
<text x="1446.33" y="210.33" font-size="41.67" text-anchor="end">100</text>
<text x="1338.47" y="512.5" font-size="41.67" text-anchor="middle" transform="rotate(-90 1338.47 512.5)">x [µm]</text>
<text x="2329.67" y="876.33" font-size="41.67" text-anchor="start">−2.0</text>
<text x="2329.67" y="789.58" font-size="41.67" text-anchor="start">−1.5</text>
<text x="2329.67" y="702.83" font-size="41.67" text-anchor="start">−1.0</text>
<text x="2329.67" y="616.08" font-size="41.67" text-anchor="start">−0.5</text>
<text x="2329.67" y="529.33" font-size="41.67" text-anchor="start">0.0</text>
<text x="2329.67" y="442.58" font-size="41.67" text-anchor="start">0.5</text>
<text x="2329.67" y="355.83" font-size="41.67" text-anchor="start">1.0</text>
<text x="2329.67" y="269.08" font-size="41.67" text-anchor="start">1.5</text>
<text x="2329.67" y="182.33" font-size="41.67" text-anchor="start">2.0</text>
<text transform="translate(2479.6 817.04) rotate(-90)" xml:space="preserve"><tspan x="0 26.33 37.9 63.54 86.45 102.78 119.91 131.49 154.4 167.64 191.61 203.19 228.82 240.4 266.85 280.09 306.42 331.08 344.32 360.58" y="-1.5" font-size="41.67">Electric Field Ey (|</tspan><tspan x="374.61" y="-1.5" font-size="41.67" font-style="oblique">e</tspan><tspan x="400.25" y="-1.5" font-size="41.67">|</tspan><tspan x="414.29" y="-1.5" font-size="41.67" font-style="oblique">E</tspan><tspan x="440.61" y="5.34" font-size="29.17" font-style="oblique">y</tspan><tspan x="459.01" y="-1.5" font-size="41.67">/</tspan><tspan x="473.05" y="-1.5" font-size="41.67" font-style="oblique">m</tspan><tspan x="513.64" y="5.34" font-size="29.17">e</tspan><tspan x="532.72 555.63" y="-1.5" font-size="41.67" font-style="oblique">cω</tspan><tspan x="590.52" y="-1.5" font-size="41.67">)</tspan></text>
<text transform="translate(963.25 63.99)" xml:space="preserve"><tspan x="0 31.59 45.48 76.25 103.74 123.34 143.9 157.79 185.28 201.17 218.77 232.67 263.43 277.32 309.06 324.95 355.59 375.2" y="-3.65" font-size="50">Electric field at </tspan><tspan x="391.09" y="-3.65" font-size="50" font-style="oblique">t</tspan><tspan x="420.43 472.07 503.88 535.69 567.5 583.4 601" y="-3.65" font-size="50">=336 fs</tspan></text>
</g></svg>
</div></body></html>
